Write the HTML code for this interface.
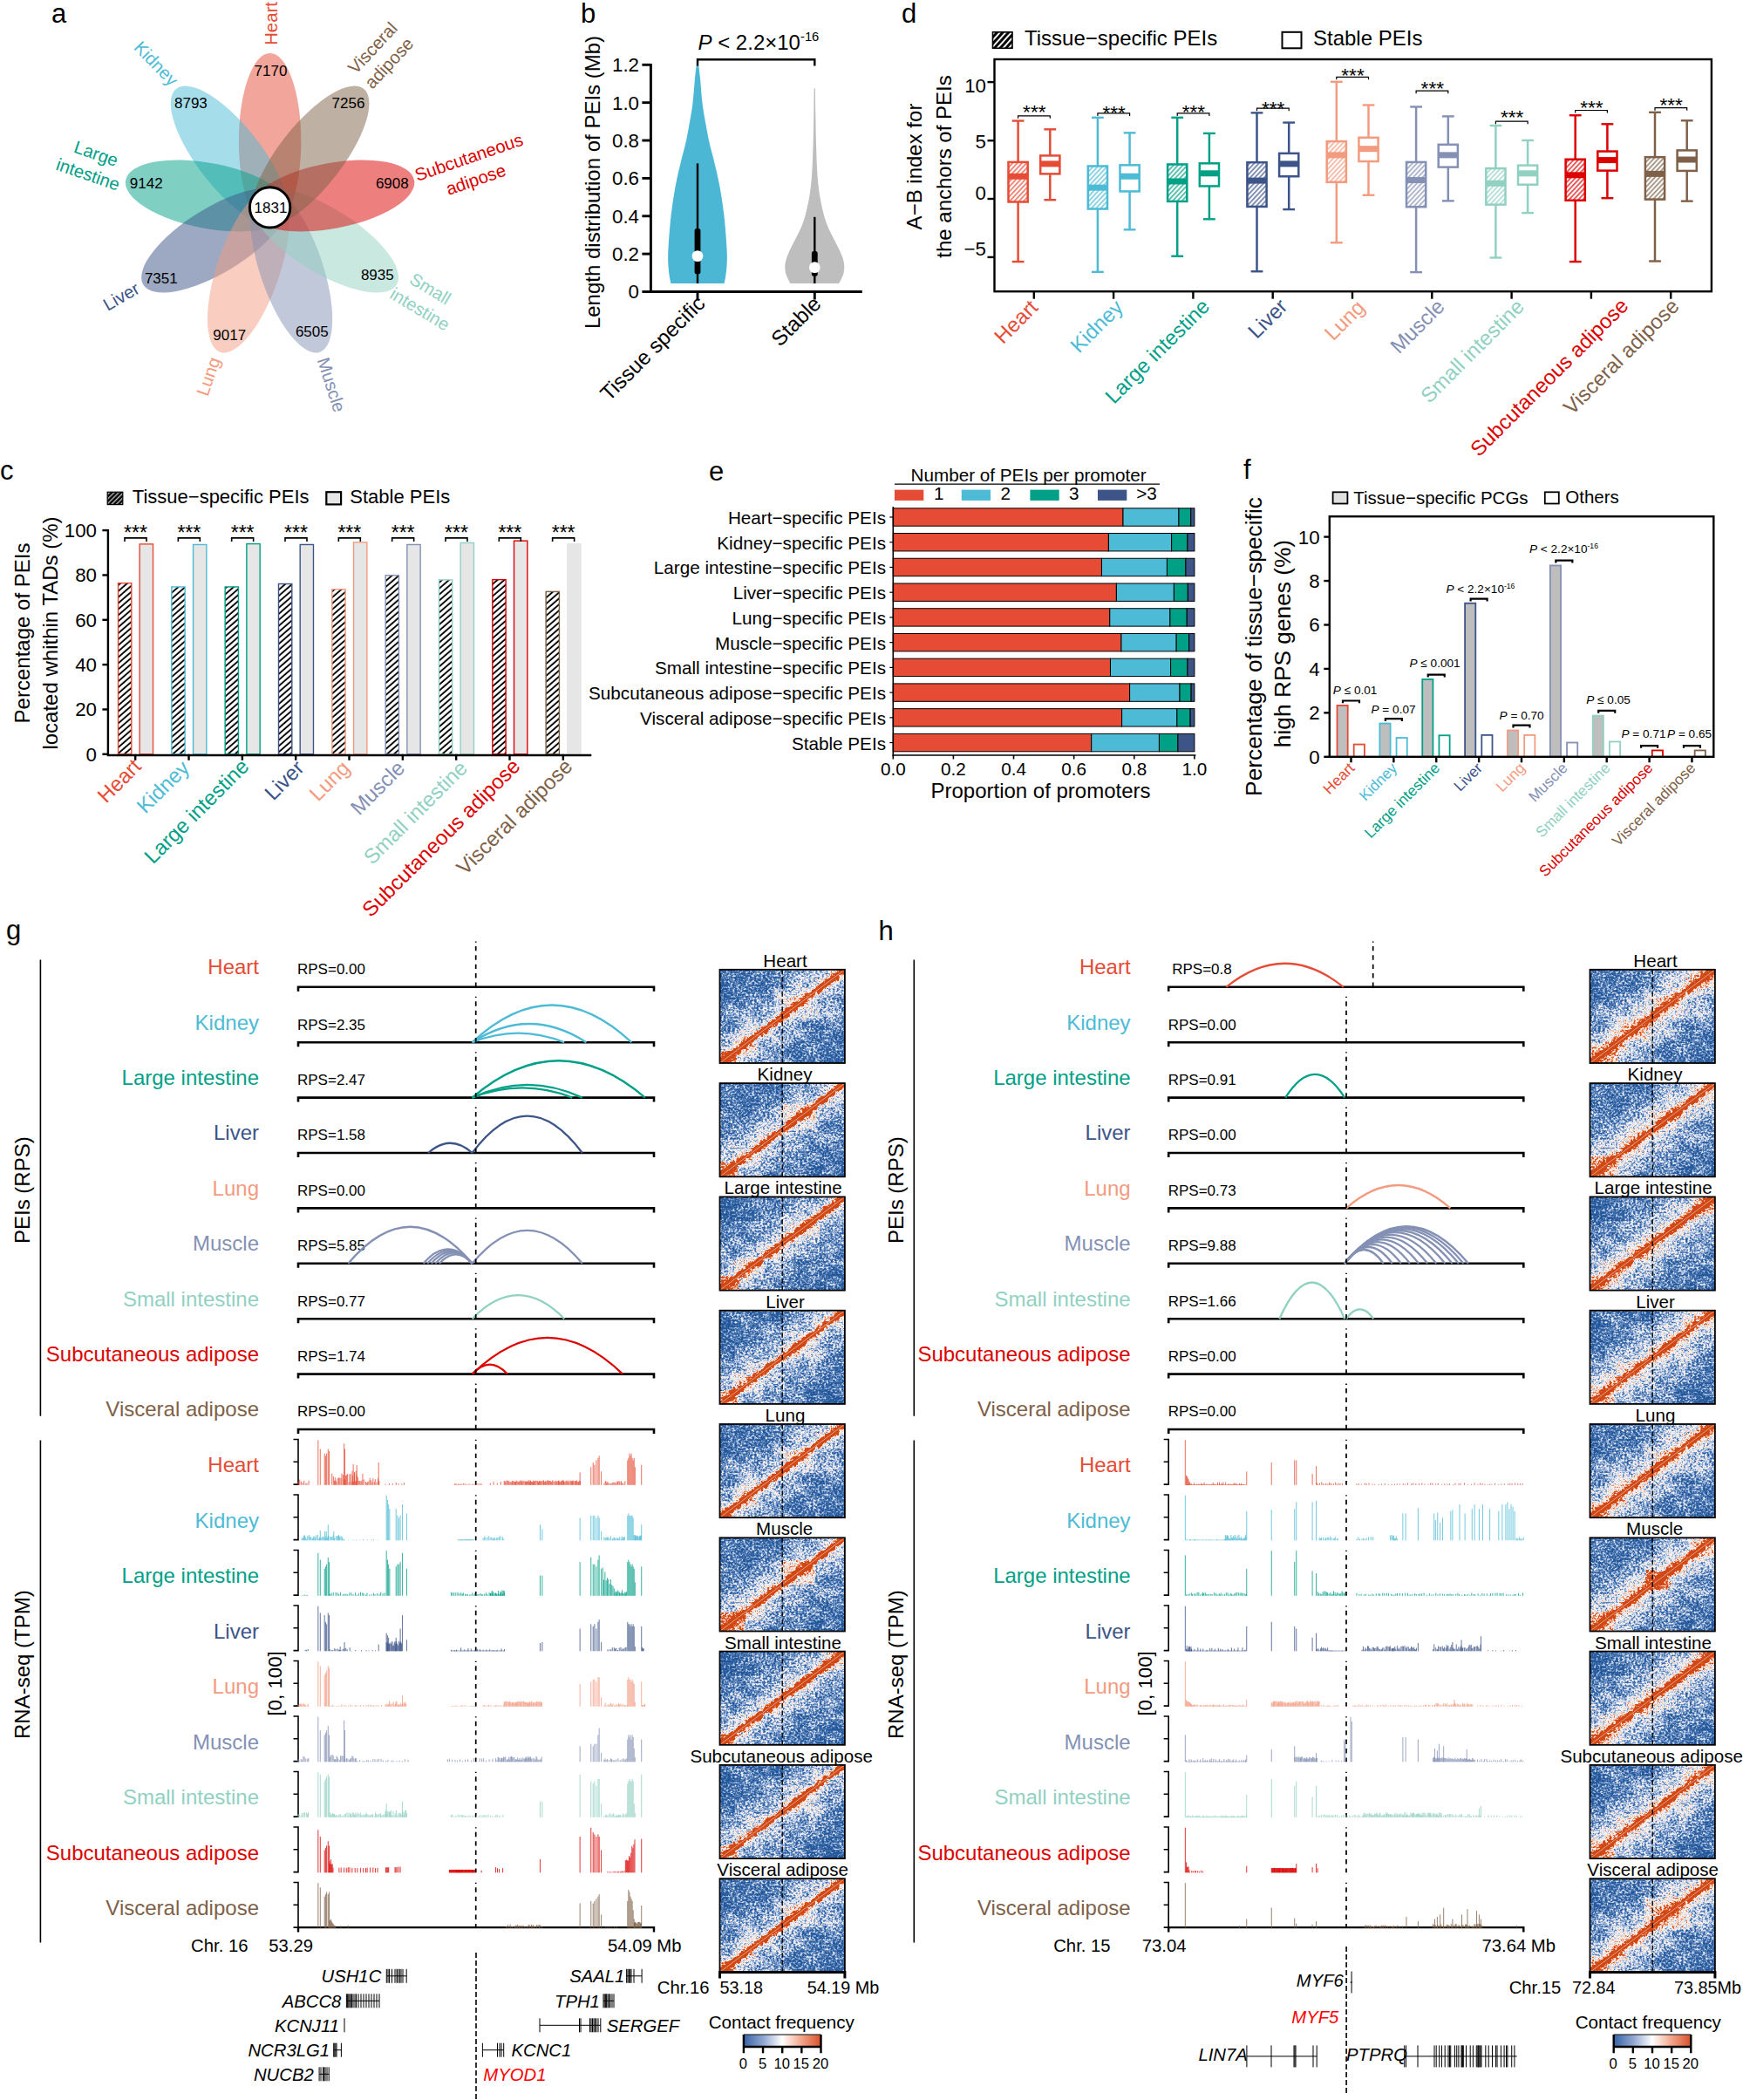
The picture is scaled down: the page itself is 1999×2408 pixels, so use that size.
<!DOCTYPE html><html><head><meta charset="utf-8"><title>Figure</title><style>html,body{margin:0;padding:0;background:#fff}svg{display:block}text{font-family:"Liberation Sans",Arial,sans-serif}</style></head><body>
<svg width="1999" height="2408" viewBox="0 0 1999 2408">
<defs>
<pattern id="hc" width="5.2" height="5.2" patternUnits="userSpaceOnUse" patternTransform="rotate(-41)"><rect width="5.2" height="5.2" fill="#fff"/><rect y="1.6" width="5.2" height="1.9" fill="#000"/></pattern>
<pattern id="hcl" width="3.8" height="3.8" patternUnits="userSpaceOnUse" patternTransform="rotate(-45)"><rect width="3.8" height="3.8" fill="#000"/><rect y="1.2" width="3.8" height="1" fill="#fff"/></pattern>
<pattern id="hd0" width="3.9" height="3.9" patternUnits="userSpaceOnUse" patternTransform="rotate(-47)"><rect width="3.9" height="3.9" fill="#fff"/><rect y="1.3" width="3.9" height="1.25" fill="#E64B35"/></pattern>
<pattern id="hd1" width="3.9" height="3.9" patternUnits="userSpaceOnUse" patternTransform="rotate(-47)"><rect width="3.9" height="3.9" fill="#fff"/><rect y="1.3" width="3.9" height="1.25" fill="#4DBBD5"/></pattern>
<pattern id="hd2" width="3.9" height="3.9" patternUnits="userSpaceOnUse" patternTransform="rotate(-47)"><rect width="3.9" height="3.9" fill="#fff"/><rect y="1.3" width="3.9" height="1.25" fill="#00A087"/></pattern>
<pattern id="hd3" width="3.9" height="3.9" patternUnits="userSpaceOnUse" patternTransform="rotate(-47)"><rect width="3.9" height="3.9" fill="#fff"/><rect y="1.3" width="3.9" height="1.25" fill="#3C5488"/></pattern>
<pattern id="hd4" width="3.9" height="3.9" patternUnits="userSpaceOnUse" patternTransform="rotate(-47)"><rect width="3.9" height="3.9" fill="#fff"/><rect y="1.3" width="3.9" height="1.25" fill="#F39B7F"/></pattern>
<pattern id="hd5" width="3.9" height="3.9" patternUnits="userSpaceOnUse" patternTransform="rotate(-47)"><rect width="3.9" height="3.9" fill="#fff"/><rect y="1.3" width="3.9" height="1.25" fill="#8491B4"/></pattern>
<pattern id="hd6" width="3.9" height="3.9" patternUnits="userSpaceOnUse" patternTransform="rotate(-47)"><rect width="3.9" height="3.9" fill="#fff"/><rect y="1.3" width="3.9" height="1.25" fill="#91D1C2"/></pattern>
<pattern id="hd7" width="3.9" height="3.9" patternUnits="userSpaceOnUse" patternTransform="rotate(-47)"><rect width="3.9" height="3.9" fill="#fff"/><rect y="1.3" width="3.9" height="1.25" fill="#DC0000"/></pattern>
<pattern id="hd8" width="3.9" height="3.9" patternUnits="userSpaceOnUse" patternTransform="rotate(-47)"><rect width="3.9" height="3.9" fill="#fff"/><rect y="1.3" width="3.9" height="1.25" fill="#7E6148"/></pattern>
<pattern id="hdl" width="4.9" height="4.9" patternUnits="userSpaceOnUse" patternTransform="rotate(-48)"><rect width="4.9" height="4.9" fill="#fff"/><rect y="1" width="4.9" height="3" fill="#000"/></pattern>
<linearGradient id="hg" x1="0" y1="0" x2="1" y2="1">
<stop offset="0.000" stop-color="rgb(46,46,46)"/>
<stop offset="0.250" stop-color="rgb(69,69,69)"/>
<stop offset="0.380" stop-color="rgb(89,89,89)"/>
<stop offset="0.445" stop-color="rgb(107,107,107)"/>
<stop offset="0.474" stop-color="rgb(128,128,128)"/>
<stop offset="0.483" stop-color="rgb(189,189,189)"/>
<stop offset="0.490" stop-color="rgb(255,255,255)"/>
<stop offset="0.510" stop-color="rgb(255,255,255)"/>
<stop offset="0.517" stop-color="rgb(189,189,189)"/>
<stop offset="0.526" stop-color="rgb(128,128,128)"/>
<stop offset="0.555" stop-color="rgb(107,107,107)"/>
<stop offset="0.620" stop-color="rgb(89,89,89)"/>
<stop offset="0.750" stop-color="rgb(69,69,69)"/>
<stop offset="1.000" stop-color="rgb(46,46,46)"/>
</linearGradient>
<linearGradient id="hg2" x1="0" y1="0" x2="1" y2="1">
<stop offset="0.000" stop-color="rgb(48,48,48)"/>
<stop offset="0.250" stop-color="rgb(71,71,71)"/>
<stop offset="0.370" stop-color="rgb(94,94,94)"/>
<stop offset="0.430" stop-color="rgb(115,115,115)"/>
<stop offset="0.462" stop-color="rgb(138,138,138)"/>
<stop offset="0.476" stop-color="rgb(163,163,163)"/>
<stop offset="0.485" stop-color="rgb(209,209,209)"/>
<stop offset="0.491" stop-color="rgb(255,255,255)"/>
<stop offset="0.509" stop-color="rgb(255,255,255)"/>
<stop offset="0.515" stop-color="rgb(209,209,209)"/>
<stop offset="0.524" stop-color="rgb(163,163,163)"/>
<stop offset="0.538" stop-color="rgb(138,138,138)"/>
<stop offset="0.570" stop-color="rgb(115,115,115)"/>
<stop offset="0.630" stop-color="rgb(94,94,94)"/>
<stop offset="0.750" stop-color="rgb(71,71,71)"/>
<stop offset="1.000" stop-color="rgb(48,48,48)"/>
</linearGradient>
<filter id="hm0" x="0" y="0" width="1" height="1" color-interpolation-filters="sRGB"><feTurbulence type="fractalNoise" baseFrequency="0.4 0.46" numOctaves="2" seed="3" result="n"/><feColorMatrix in="n" type="matrix" values="1 0 0 0 0 1 0 0 0 0 1 0 0 0 0 0 0 0 0 1" result="ng"/><feTurbulence type="fractalNoise" baseFrequency="0.05 0.07" numOctaves="2" seed="11" result="m"/><feColorMatrix in="m" type="matrix" values="0 1 0 0 0 0 1 0 0 0 0 1 0 0 0 0 0 0 0 1" result="mg"/><feTurbulence type="fractalNoise" baseFrequency="0.16 0.2" numOctaves="2" seed="23" result="d"/><feDisplacementMap in="SourceGraphic" in2="d" scale="7" xChannelSelector="R" yChannelSelector="G" result="sg"/><feComposite in="sg" in2="ng" operator="arithmetic" k1="0" k2="1" k3="0.78" k4="-0.39" result="s1"/><feComposite in="s1" in2="mg" operator="arithmetic" k1="0" k2="1" k3="0.34" k4="-0.17" result="s"/><feComponentTransfer in="s" result="c"><feFuncR type="table" tableValues="0.133 0.133 0.157 0.267 0.486 0.745 0.961 0.980 0.969 0.871 0.816 0.816 0.816"/><feFuncG type="table" tableValues="0.337 0.337 0.361 0.447 0.616 0.804 0.961 0.925 0.745 0.376 0.282 0.282 0.282"/><feFuncB type="table" tableValues="0.596 0.596 0.616 0.682 0.800 0.910 0.973 0.894 0.627 0.196 0.086 0.086 0.086"/></feComponentTransfer><feGaussianBlur in="c" stdDeviation="0.55"/></filter>
<filter id="hm1" x="0" y="0" width="1" height="1" color-interpolation-filters="sRGB"><feTurbulence type="fractalNoise" baseFrequency="0.4 0.46" numOctaves="2" seed="10" result="n"/><feColorMatrix in="n" type="matrix" values="1 0 0 0 0 1 0 0 0 0 1 0 0 0 0 0 0 0 0 1" result="ng"/><feTurbulence type="fractalNoise" baseFrequency="0.05 0.07" numOctaves="2" seed="16" result="m"/><feColorMatrix in="m" type="matrix" values="0 1 0 0 0 0 1 0 0 0 0 1 0 0 0 0 0 0 0 1" result="mg"/><feTurbulence type="fractalNoise" baseFrequency="0.16 0.2" numOctaves="2" seed="26" result="d"/><feDisplacementMap in="SourceGraphic" in2="d" scale="7" xChannelSelector="R" yChannelSelector="G" result="sg"/><feComposite in="sg" in2="ng" operator="arithmetic" k1="0" k2="1" k3="0.78" k4="-0.39" result="s1"/><feComposite in="s1" in2="mg" operator="arithmetic" k1="0" k2="1" k3="0.34" k4="-0.17" result="s"/><feComponentTransfer in="s" result="c"><feFuncR type="table" tableValues="0.133 0.133 0.157 0.267 0.486 0.745 0.961 0.980 0.969 0.871 0.816 0.816 0.816"/><feFuncG type="table" tableValues="0.337 0.337 0.361 0.447 0.616 0.804 0.961 0.925 0.745 0.376 0.282 0.282 0.282"/><feFuncB type="table" tableValues="0.596 0.596 0.616 0.682 0.800 0.910 0.973 0.894 0.627 0.196 0.086 0.086 0.086"/></feComponentTransfer><feGaussianBlur in="c" stdDeviation="0.55"/></filter>
<filter id="hm2" x="0" y="0" width="1" height="1" color-interpolation-filters="sRGB"><feTurbulence type="fractalNoise" baseFrequency="0.4 0.46" numOctaves="2" seed="17" result="n"/><feColorMatrix in="n" type="matrix" values="1 0 0 0 0 1 0 0 0 0 1 0 0 0 0 0 0 0 0 1" result="ng"/><feTurbulence type="fractalNoise" baseFrequency="0.05 0.07" numOctaves="2" seed="21" result="m"/><feColorMatrix in="m" type="matrix" values="0 1 0 0 0 0 1 0 0 0 0 1 0 0 0 0 0 0 0 1" result="mg"/><feTurbulence type="fractalNoise" baseFrequency="0.16 0.2" numOctaves="2" seed="29" result="d"/><feDisplacementMap in="SourceGraphic" in2="d" scale="7" xChannelSelector="R" yChannelSelector="G" result="sg"/><feComposite in="sg" in2="ng" operator="arithmetic" k1="0" k2="1" k3="0.78" k4="-0.39" result="s1"/><feComposite in="s1" in2="mg" operator="arithmetic" k1="0" k2="1" k3="0.34" k4="-0.17" result="s"/><feComponentTransfer in="s" result="c"><feFuncR type="table" tableValues="0.133 0.133 0.157 0.267 0.486 0.745 0.961 0.980 0.969 0.871 0.816 0.816 0.816"/><feFuncG type="table" tableValues="0.337 0.337 0.361 0.447 0.616 0.804 0.961 0.925 0.745 0.376 0.282 0.282 0.282"/><feFuncB type="table" tableValues="0.596 0.596 0.616 0.682 0.800 0.910 0.973 0.894 0.627 0.196 0.086 0.086 0.086"/></feComponentTransfer><feGaussianBlur in="c" stdDeviation="0.55"/></filter>
<filter id="hm3" x="0" y="0" width="1" height="1" color-interpolation-filters="sRGB"><feTurbulence type="fractalNoise" baseFrequency="0.4 0.46" numOctaves="2" seed="24" result="n"/><feColorMatrix in="n" type="matrix" values="1 0 0 0 0 1 0 0 0 0 1 0 0 0 0 0 0 0 0 1" result="ng"/><feTurbulence type="fractalNoise" baseFrequency="0.05 0.07" numOctaves="2" seed="26" result="m"/><feColorMatrix in="m" type="matrix" values="0 1 0 0 0 0 1 0 0 0 0 1 0 0 0 0 0 0 0 1" result="mg"/><feTurbulence type="fractalNoise" baseFrequency="0.16 0.2" numOctaves="2" seed="32" result="d"/><feDisplacementMap in="SourceGraphic" in2="d" scale="7" xChannelSelector="R" yChannelSelector="G" result="sg"/><feComposite in="sg" in2="ng" operator="arithmetic" k1="0" k2="1" k3="0.78" k4="-0.39" result="s1"/><feComposite in="s1" in2="mg" operator="arithmetic" k1="0" k2="1" k3="0.34" k4="-0.17" result="s"/><feComponentTransfer in="s" result="c"><feFuncR type="table" tableValues="0.133 0.133 0.157 0.267 0.486 0.745 0.961 0.980 0.969 0.871 0.816 0.816 0.816"/><feFuncG type="table" tableValues="0.337 0.337 0.361 0.447 0.616 0.804 0.961 0.925 0.745 0.376 0.282 0.282 0.282"/><feFuncB type="table" tableValues="0.596 0.596 0.616 0.682 0.800 0.910 0.973 0.894 0.627 0.196 0.086 0.086 0.086"/></feComponentTransfer><feGaussianBlur in="c" stdDeviation="0.55"/></filter>
<linearGradient id="cb" x1="0" y1="0" x2="1" y2="0"><stop offset="0" stop-color="#3563A6"/><stop offset="0.25" stop-color="#8FA5CF"/><stop offset="0.5" stop-color="#FFFFFF"/><stop offset="0.75" stop-color="#F2A58A"/><stop offset="1" stop-color="#D6502A"/></linearGradient>
</defs>
<rect width="1999" height="2408" fill="#fff"/>
<g id="pa">
<text x="59" y="26" font-size="31">a</text>
<g transform="translate(309.6 0) scale(0.951 1) translate(-309.6 0)">
<ellipse cx="309.6" cy="161.9" rx="101" ry="37.6" fill="#E64B35" fill-opacity="0.5" transform="rotate(-90 309.6 161.9)"/>
<ellipse cx="260.94" cy="179.61" rx="101" ry="37.6" fill="#4DBBD5" fill-opacity="0.5" transform="rotate(-130 260.94 179.61)"/>
<ellipse cx="235.05" cy="224.45" rx="101" ry="37.6" fill="#00A087" fill-opacity="0.5" transform="rotate(-170 235.05 224.45)"/>
<ellipse cx="244.04" cy="275.45" rx="101" ry="37.6" fill="#3C5488" fill-opacity="0.5" transform="rotate(-210 244.04 275.45)"/>
<ellipse cx="283.71" cy="308.73" rx="101" ry="37.6" fill="#F39B7F" fill-opacity="0.5" transform="rotate(-250 283.71 308.73)"/>
<ellipse cx="335.49" cy="308.73" rx="101" ry="37.6" fill="#8491B4" fill-opacity="0.5" transform="rotate(-290 335.49 308.73)"/>
<ellipse cx="375.16" cy="275.45" rx="101" ry="37.6" fill="#91D1C2" fill-opacity="0.5" transform="rotate(-330 375.16 275.45)"/>
<ellipse cx="384.15" cy="224.45" rx="101" ry="37.6" fill="#DC0000" fill-opacity="0.5" transform="rotate(-10 384.15 224.45)"/>
<ellipse cx="358.26" cy="179.61" rx="101" ry="37.6" fill="#7E6148" fill-opacity="0.5" transform="rotate(-50 358.26 179.61)"/>
</g>
<circle cx="309.6" cy="237.9" r="23.2" fill="#fff" stroke="#000" stroke-width="3"/>
<text x="310.5" y="87.1" font-size="17" text-anchor="middle">7170</text>
<text x="218.9" y="124.2" font-size="17" text-anchor="middle">8793</text>
<text x="399.5" y="124.2" font-size="17" text-anchor="middle">7256</text>
<text x="167.7" y="215.8" font-size="17" text-anchor="middle">9142</text>
<text x="449.8" y="215.8" font-size="17" text-anchor="middle">6908</text>
<text x="310.5" y="244.2" font-size="17" text-anchor="middle">1831</text>
<text x="184.8" y="324.9" font-size="17" text-anchor="middle">7351</text>
<text x="432.8" y="320.7" font-size="17" text-anchor="middle">8935</text>
<text x="263.2" y="390" font-size="17" text-anchor="middle">9017</text>
<text x="357.8" y="385.5" font-size="17" text-anchor="middle">6505</text>
<text font-size="20.3" text-anchor="middle" fill="#E64B35" transform="translate(317.5 27) rotate(-90)">Heart</text>
<text font-size="20.3" text-anchor="middle" fill="#4DBBD5" transform="translate(174 77.7) rotate(46)">Kidney</text>
<text font-size="20.3" text-anchor="middle" fill="#7E6148" transform="translate(432.5 59.8) rotate(-47)">Visceral</text>
<text font-size="20.3" text-anchor="middle" fill="#7E6148" transform="translate(451.3 77) rotate(-47)">adipose</text>
<text font-size="20.3" text-anchor="middle" fill="#DC0000" transform="translate(540 187) rotate(-19)">Subcutaneous</text>
<text font-size="20.3" text-anchor="middle" fill="#DC0000" transform="translate(548 212.5) rotate(-19)">adipose</text>
<text font-size="20.3" text-anchor="middle" fill="#00A087" transform="translate(108 182.8) rotate(19)">Large</text>
<text font-size="20.3" text-anchor="middle" fill="#00A087" transform="translate(98.7 206.5) rotate(19)">intestine</text>
<text font-size="20.3" text-anchor="middle" fill="#3C5488" transform="translate(142.6 346) rotate(-30)">Liver</text>
<text font-size="20.3" text-anchor="middle" fill="#F39B7F" transform="translate(245.5 434) rotate(-71)">Lung</text>
<text font-size="20.3" text-anchor="middle" fill="#8491B4" transform="translate(373.4 443.4) rotate(72)">Muscle</text>
<text font-size="20.3" text-anchor="middle" fill="#91D1C2" transform="translate(490 337) rotate(31)">Small</text>
<text font-size="20.3" text-anchor="middle" fill="#91D1C2" transform="translate(478 360.5) rotate(31)">intestine</text>
</g>
<g id="pb">
<text x="666" y="26" font-size="31">b</text>
<path d="M801.2 74.3 C801.5 76.92 802.28 82.73 803 90 C803.72 97.27 804.5 109.57 805.5 117.9 C806.5 126.23 807.75 132.78 809 140 C810.25 147.22 811.42 154.03 813 161.2 C814.58 168.37 816.75 175.82 818.5 183 C820.25 190.18 822 197.13 823.5 204.3 C825 211.47 826.33 218.73 827.5 226 C828.67 233.27 829.67 240.57 830.5 247.9 C831.33 255.23 831.95 262.82 832.5 270 C833.05 277.18 833.63 285.17 833.8 291 C833.97 296.83 833.8 300.5 833.5 305 C833.2 309.5 832.5 314.67 832 318 C831.5 321.33 830.75 323.83 830.5 325 L769.5 325 C769.25 323.83 768.5 321.33 768 318 C767.5 314.67 766.8 309.5 766.5 305 C766.2 300.5 766.03 296.83 766.2 291 C766.37 285.17 766.95 277.18 767.5 270 C768.05 262.82 768.67 255.23 769.5 247.9 C770.33 240.57 771.33 233.27 772.5 226 C773.67 218.73 775 211.47 776.5 204.3 C778 197.13 779.75 190.18 781.5 183 C783.25 175.82 785.42 168.37 787 161.2 C788.58 154.03 789.75 147.22 791 140 C792.25 132.78 793.5 126.23 794.5 117.9 C795.5 109.57 796.28 97.27 797 90 C797.72 82.73 798.5 76.92 798.8 74.3 Z" fill="#4BB7D4"/>
<path d="M934.9 101.2 C934.97 106 935.13 120.03 935.3 130 C935.47 139.97 935.63 151 935.9 161 C936.17 171 936.5 181.83 936.9 190 C937.3 198.17 937.65 203.67 938.3 210 C938.95 216.33 939.63 221.68 940.8 228 C941.97 234.32 943.72 242.23 945.3 247.9 C946.88 253.57 948.38 257.48 950.3 262 C952.22 266.52 954.63 270.67 956.8 275 C958.97 279.33 961.58 284.17 963.3 288 C965.02 291.83 966.27 295 967.1 298 C967.93 301 968.27 303.33 968.3 306 C968.33 308.67 967.88 311.67 967.3 314 C966.72 316.33 965.63 318.17 964.8 320 C963.97 321.83 962.72 324.17 962.3 325 L906.3 325 C905.88 324.17 904.63 321.83 903.8 320 C902.97 318.17 901.88 316.33 901.3 314 C900.72 311.67 900.27 308.67 900.3 306 C900.33 303.33 900.67 301 901.5 298 C902.33 295 903.58 291.83 905.3 288 C907.02 284.17 909.63 279.33 911.8 275 C913.97 270.67 916.38 266.52 918.3 262 C920.22 257.48 921.72 253.57 923.3 247.9 C924.88 242.23 926.63 234.32 927.8 228 C928.97 221.68 929.65 216.33 930.3 210 C930.95 203.67 931.3 198.17 931.7 190 C932.1 181.83 932.43 171 932.7 161 C932.97 151 933.13 139.97 933.3 130 C933.47 120.03 933.63 106 933.7 101.2 Z" fill="#BEBEBE"/>
<line x1="800" y1="187.4" x2="800" y2="325" stroke="#000" stroke-width="2.4"/>
<rect x="796.6" y="262" width="6.8" height="52.3" rx="2.5" fill="#000"/>
<circle cx="800" cy="293.6" r="6.4" fill="#fff"/>
<line x1="934.3" y1="248.8" x2="934.3" y2="325" stroke="#000" stroke-width="2.4"/>
<rect x="930.9" y="288" width="6.8" height="28.7" rx="2.5" fill="#000"/>
<circle cx="934.3" cy="306.7" r="6.4" fill="#fff"/>
<path d="M746.4 72.9 V334.5 H988.8" fill="none" stroke="#000" stroke-width="2.9"/>
<line x1="736.4" y1="334.5" x2="746.4" y2="334.5" stroke="#000" stroke-width="2.9"/>
<text x="733" y="342.4" font-size="22.3" text-anchor="end">0</text>
<line x1="736.4" y1="291.13" x2="746.4" y2="291.13" stroke="#000" stroke-width="2.9"/>
<text x="733" y="299.03" font-size="22.3" text-anchor="end">0.2</text>
<line x1="736.4" y1="247.77" x2="746.4" y2="247.77" stroke="#000" stroke-width="2.9"/>
<text x="733" y="255.67" font-size="22.3" text-anchor="end">0.4</text>
<line x1="736.4" y1="204.4" x2="746.4" y2="204.4" stroke="#000" stroke-width="2.9"/>
<text x="733" y="212.3" font-size="22.3" text-anchor="end">0.6</text>
<line x1="736.4" y1="161.03" x2="746.4" y2="161.03" stroke="#000" stroke-width="2.9"/>
<text x="733" y="168.93" font-size="22.3" text-anchor="end">0.8</text>
<line x1="736.4" y1="117.67" x2="746.4" y2="117.67" stroke="#000" stroke-width="2.9"/>
<text x="733" y="125.57" font-size="22.3" text-anchor="end">1.0</text>
<line x1="736.4" y1="74.3" x2="746.4" y2="74.3" stroke="#000" stroke-width="2.9"/>
<text x="733" y="82.2" font-size="22.3" text-anchor="end">1.2</text>
<line x1="800" y1="334.5" x2="800" y2="343.5" stroke="#000" stroke-width="2.9"/>
<line x1="934.3" y1="334.5" x2="934.3" y2="343.5" stroke="#000" stroke-width="2.9"/>
<text font-size="24" text-anchor="middle" transform="translate(687.5 209) rotate(-90)">Length distribution of PEIs (Mb)</text>
<text font-size="24.2" text-anchor="end" transform="translate(810 349.5) rotate(-45)">Tissue specific</text>
<text font-size="24.2" text-anchor="end" transform="translate(943 350) rotate(-45)">Stable</text>
<path d="M800 75.5 V68.3 H934.3 V75.5" fill="none" stroke="#000" stroke-width="2.4"/>
<text x="800.5" y="56.7" font-size="24"><tspan font-style="italic">P</tspan> &lt; 2.2×10<tspan font-size="14.8" dy="-9.5">-16</tspan></text>
</g>
<g id="pc">
<text x="0" y="550" font-size="31">c</text>
<rect x="135.5" y="668.63" width="15.3" height="196.17" fill="url(#hc)" stroke="#E64B35" stroke-width="1.4"/>
<rect x="160.2" y="623.88" width="15.3" height="240.92" fill="#E6E6E6" stroke="#E64B35" stroke-width="1.4"/>
<path d="M143 621 V616.9 H168 V621" fill="none" stroke="#000" stroke-width="1.6"/>
<text x="155.5" y="618.8" font-size="23" text-anchor="middle">***</text>
<rect x="196.83" y="672.94" width="15.3" height="191.86" fill="url(#hc)" stroke="#4DBBD5" stroke-width="1.4"/>
<rect x="221.53" y="624.46" width="15.3" height="240.34" fill="#E6E6E6" stroke="#4DBBD5" stroke-width="1.4"/>
<path d="M204.33 621 V616.9 H229.33 V621" fill="none" stroke="#000" stroke-width="1.6"/>
<text x="216.83" y="618.8" font-size="23" text-anchor="middle">***</text>
<rect x="258.16" y="672.94" width="15.3" height="191.86" fill="url(#hc)" stroke="#00A087" stroke-width="1.4"/>
<rect x="282.86" y="623.6" width="15.3" height="241.2" fill="#E6E6E6" stroke="#00A087" stroke-width="1.4"/>
<path d="M265.66 621 V616.9 H290.66 V621" fill="none" stroke="#000" stroke-width="1.6"/>
<text x="278.16" y="618.8" font-size="23" text-anchor="middle">***</text>
<rect x="319.49" y="669.5" width="15.3" height="195.3" fill="url(#hc)" stroke="#3C5488" stroke-width="1.4"/>
<rect x="344.19" y="624.46" width="15.3" height="240.34" fill="#E6E6E6" stroke="#3C5488" stroke-width="1.4"/>
<path d="M326.99 621 V616.9 H351.99 V621" fill="none" stroke="#000" stroke-width="1.6"/>
<text x="339.49" y="618.8" font-size="23" text-anchor="middle">***</text>
<rect x="380.82" y="675.81" width="15.3" height="188.99" fill="url(#hc)" stroke="#F39B7F" stroke-width="1.4"/>
<rect x="405.52" y="621.88" width="15.3" height="242.92" fill="#E6E6E6" stroke="#F39B7F" stroke-width="1.4"/>
<path d="M388.32 621 V616.9 H413.32 V621" fill="none" stroke="#000" stroke-width="1.6"/>
<text x="400.82" y="618.8" font-size="23" text-anchor="middle">***</text>
<rect x="442.15" y="659.74" width="15.3" height="205.06" fill="url(#hc)" stroke="#8491B4" stroke-width="1.4"/>
<rect x="466.85" y="624.46" width="15.3" height="240.34" fill="#E6E6E6" stroke="#8491B4" stroke-width="1.4"/>
<path d="M449.65 621 V616.9 H474.65 V621" fill="none" stroke="#000" stroke-width="1.6"/>
<text x="462.15" y="618.8" font-size="23" text-anchor="middle">***</text>
<rect x="503.48" y="664.91" width="15.3" height="199.89" fill="url(#hc)" stroke="#91D1C2" stroke-width="1.4"/>
<rect x="528.18" y="622.45" width="15.3" height="242.35" fill="#E6E6E6" stroke="#91D1C2" stroke-width="1.4"/>
<path d="M510.98 621 V616.9 H535.98 V621" fill="none" stroke="#000" stroke-width="1.6"/>
<text x="523.48" y="618.8" font-size="23" text-anchor="middle">***</text>
<rect x="564.81" y="664.62" width="15.3" height="200.18" fill="url(#hc)" stroke="#DC0000" stroke-width="1.4"/>
<rect x="589.51" y="620.15" width="15.3" height="244.65" fill="#E6E6E6" stroke="#DC0000" stroke-width="1.4"/>
<path d="M572.31 621 V616.9 H597.31 V621" fill="none" stroke="#000" stroke-width="1.6"/>
<text x="584.81" y="618.8" font-size="23" text-anchor="middle">***</text>
<rect x="626.14" y="678.39" width="15.3" height="186.41" fill="url(#hc)" stroke="#7E6148" stroke-width="1.4"/>
<rect x="650.14" y="623.02" width="16.6" height="241.78" fill="#E6E6E6"/>
<path d="M633.64 621 V616.9 H658.64 V621" fill="none" stroke="#000" stroke-width="1.6"/>
<text x="646.14" y="618.8" font-size="23" text-anchor="middle">***</text>
<path d="M123.9 606.9 V866 H678.3" fill="none" stroke="#000" stroke-width="2.4"/>
<line x1="117.4" y1="864.8" x2="123.9" y2="864.8" stroke="#000" stroke-width="2.4"/>
<text x="111" y="872.8" font-size="22.3" text-anchor="end">0</text>
<line x1="117.4" y1="813.46" x2="123.9" y2="813.46" stroke="#000" stroke-width="2.4"/>
<text x="111" y="821.46" font-size="22.3" text-anchor="end">20</text>
<line x1="117.4" y1="762.12" x2="123.9" y2="762.12" stroke="#000" stroke-width="2.4"/>
<text x="111" y="770.12" font-size="22.3" text-anchor="end">40</text>
<line x1="117.4" y1="710.78" x2="123.9" y2="710.78" stroke="#000" stroke-width="2.4"/>
<text x="111" y="718.78" font-size="22.3" text-anchor="end">60</text>
<line x1="117.4" y1="659.44" x2="123.9" y2="659.44" stroke="#000" stroke-width="2.4"/>
<text x="111" y="667.44" font-size="22.3" text-anchor="end">80</text>
<line x1="117.4" y1="608.1" x2="123.9" y2="608.1" stroke="#000" stroke-width="2.4"/>
<text x="111" y="616.1" font-size="22.3" text-anchor="end">100</text>
<line x1="155.2" y1="864.8" x2="155.2" y2="871.8" stroke="#000" stroke-width="2.4"/>
<text font-size="24" text-anchor="end" fill="#E64B35" transform="translate(163.2 880.4) rotate(-45)">Heart</text>
<line x1="216.53" y1="864.8" x2="216.53" y2="871.8" stroke="#000" stroke-width="2.4"/>
<text font-size="24" text-anchor="end" fill="#4DBBD5" transform="translate(218.63 882.2) rotate(-45)">Kidney</text>
<line x1="277.86" y1="864.8" x2="277.86" y2="871.8" stroke="#000" stroke-width="2.4"/>
<text font-size="24" text-anchor="end" fill="#00A087" transform="translate(286.86 880.4) rotate(-45)">Large intestine</text>
<line x1="339.19" y1="864.8" x2="339.19" y2="871.8" stroke="#000" stroke-width="2.4"/>
<text font-size="24" text-anchor="end" fill="#3C5488" transform="translate(350.19 882.2) rotate(-45)">Liver</text>
<line x1="400.52" y1="864.8" x2="400.52" y2="871.8" stroke="#000" stroke-width="2.4"/>
<text font-size="24" text-anchor="end" fill="#F39B7F" transform="translate(402.62 882.2) rotate(-45)">Lung</text>
<line x1="461.85" y1="864.8" x2="461.85" y2="871.8" stroke="#000" stroke-width="2.4"/>
<text font-size="24" text-anchor="end" fill="#8491B4" transform="translate(465.65 882.2) rotate(-45)">Muscle</text>
<line x1="523.18" y1="864.8" x2="523.18" y2="871.8" stroke="#000" stroke-width="2.4"/>
<text font-size="24" text-anchor="end" fill="#91D1C2" transform="translate(537.38 882.2) rotate(-45)">Small intestine</text>
<line x1="584.51" y1="864.8" x2="584.51" y2="871.8" stroke="#000" stroke-width="2.4"/>
<text font-size="24" text-anchor="end" fill="#DC0000" transform="translate(598.01 880) rotate(-45)">Subcutaneous adipose</text>
<line x1="645.84" y1="864.8" x2="645.84" y2="871.8" stroke="#000" stroke-width="2.4"/>
<text font-size="24" text-anchor="end" fill="#7E6148" transform="translate(657.84 880.4) rotate(-45)">Visceral adipose</text>
<text font-size="24" text-anchor="middle" transform="translate(33.5 726) rotate(-90)">Percentage of PEIs</text>
<text font-size="24" text-anchor="middle" transform="translate(65.5 726) rotate(-90)">located whithin TADs (%)</text>
<rect x="123.2" y="564.2" width="17.6" height="14.4" fill="url(#hcl)" stroke="#000" stroke-width="1.2"/>
<text x="151.8" y="576.6" font-size="22">Tissue−specific PEIs</text>
<rect x="374.3" y="564.2" width="16.8" height="14.2" fill="#E6E6E6" stroke="#000" stroke-width="2.2"/>
<text x="401.3" y="576.6" font-size="22">Stable PEIs</text>
</g>
<g id="pd">
<text x="1034" y="26" font-size="31">d</text>
<line x1="1167.6" y1="138.55" x2="1167.6" y2="185.89" stroke="#E64B35" stroke-width="2.5"/>
<line x1="1167.6" y1="231.5" x2="1167.6" y2="300.06" stroke="#E64B35" stroke-width="2.5"/>
<line x1="1160.7" y1="138.55" x2="1174.5" y2="138.55" stroke="#E64B35" stroke-width="2.4"/>
<line x1="1160.7" y1="300.06" x2="1174.5" y2="300.06" stroke="#E64B35" stroke-width="2.4"/>
<rect x="1156.5" y="185.89" width="22.2" height="45.61" fill="url(#hd0)" stroke="#E64B35" stroke-width="2.5"/>
<line x1="1156.4" y1="202.24" x2="1178.8" y2="202.24" stroke="#E64B35" stroke-width="7"/>
<line x1="1204.3" y1="148.31" x2="1204.3" y2="178.43" stroke="#E64B35" stroke-width="2.5"/>
<line x1="1204.3" y1="199.37" x2="1204.3" y2="229.2" stroke="#E64B35" stroke-width="2.5"/>
<line x1="1197.4" y1="148.31" x2="1211.2" y2="148.31" stroke="#E64B35" stroke-width="2.4"/>
<line x1="1197.4" y1="229.2" x2="1211.2" y2="229.2" stroke="#E64B35" stroke-width="2.4"/>
<rect x="1193.2" y="178.43" width="22.2" height="20.94" fill="#fff" stroke="#E64B35" stroke-width="2.5"/>
<line x1="1193.1" y1="187.89" x2="1215.5" y2="187.89" stroke="#E64B35" stroke-width="7"/>
<path d="M1167.6 135.82 V132.82 H1204.3 V135.82" fill="none" stroke="#000" stroke-width="1.2"/>
<text x="1186.3" y="136.02" font-size="22.6" text-anchor="middle">***</text>
<line x1="1258.9" y1="134.83" x2="1258.9" y2="190.48" stroke="#4DBBD5" stroke-width="2.5"/>
<line x1="1258.9" y1="239.53" x2="1258.9" y2="311.82" stroke="#4DBBD5" stroke-width="2.5"/>
<line x1="1252" y1="134.83" x2="1265.8" y2="134.83" stroke="#4DBBD5" stroke-width="2.4"/>
<line x1="1252" y1="311.82" x2="1265.8" y2="311.82" stroke="#4DBBD5" stroke-width="2.4"/>
<rect x="1247.8" y="190.48" width="22.2" height="49.05" fill="url(#hd1)" stroke="#4DBBD5" stroke-width="2.5"/>
<line x1="1247.7" y1="215.15" x2="1270.1" y2="215.15" stroke="#4DBBD5" stroke-width="7"/>
<line x1="1295.6" y1="152.32" x2="1295.6" y2="189.33" stroke="#4DBBD5" stroke-width="2.5"/>
<line x1="1295.6" y1="219.45" x2="1295.6" y2="263.34" stroke="#4DBBD5" stroke-width="2.5"/>
<line x1="1288.7" y1="152.32" x2="1302.5" y2="152.32" stroke="#4DBBD5" stroke-width="2.4"/>
<line x1="1288.7" y1="263.34" x2="1302.5" y2="263.34" stroke="#4DBBD5" stroke-width="2.4"/>
<rect x="1284.5" y="189.33" width="22.2" height="30.12" fill="#fff" stroke="#4DBBD5" stroke-width="2.5"/>
<line x1="1284.4" y1="202.24" x2="1306.8" y2="202.24" stroke="#4DBBD5" stroke-width="7"/>
<path d="M1258.9 132.95 V129.95 H1295.6 V132.95" fill="none" stroke="#000" stroke-width="1.2"/>
<text x="1277.6" y="136.95" font-size="22.6" text-anchor="middle">***</text>
<line x1="1350.2" y1="134.83" x2="1350.2" y2="188.47" stroke="#00A087" stroke-width="2.5"/>
<line x1="1350.2" y1="230.92" x2="1350.2" y2="293.75" stroke="#00A087" stroke-width="2.5"/>
<line x1="1343.3" y1="134.83" x2="1357.1" y2="134.83" stroke="#00A087" stroke-width="2.4"/>
<line x1="1343.3" y1="293.75" x2="1357.1" y2="293.75" stroke="#00A087" stroke-width="2.4"/>
<rect x="1339.1" y="188.47" width="22.2" height="42.46" fill="url(#hd2)" stroke="#00A087" stroke-width="2.5"/>
<line x1="1339" y1="207.97" x2="1361.4" y2="207.97" stroke="#00A087" stroke-width="7"/>
<line x1="1386.9" y1="152.9" x2="1386.9" y2="187.32" stroke="#00A087" stroke-width="2.5"/>
<line x1="1386.9" y1="213.43" x2="1386.9" y2="251.29" stroke="#00A087" stroke-width="2.5"/>
<line x1="1380" y1="152.9" x2="1393.8" y2="152.9" stroke="#00A087" stroke-width="2.4"/>
<line x1="1380" y1="251.29" x2="1393.8" y2="251.29" stroke="#00A087" stroke-width="2.4"/>
<rect x="1375.8" y="187.32" width="22.2" height="26.1" fill="#fff" stroke="#00A087" stroke-width="2.5"/>
<line x1="1375.7" y1="198.8" x2="1398.1" y2="198.8" stroke="#00A087" stroke-width="7"/>
<path d="M1350.2 132.95 V129.95 H1386.9 V132.95" fill="none" stroke="#000" stroke-width="1.2"/>
<text x="1368.9" y="136.05" font-size="22.6" text-anchor="middle">***</text>
<line x1="1441.5" y1="129.37" x2="1441.5" y2="186.17" stroke="#3C5488" stroke-width="2.5"/>
<line x1="1441.5" y1="236.95" x2="1441.5" y2="311.24" stroke="#3C5488" stroke-width="2.5"/>
<line x1="1434.6" y1="129.37" x2="1448.4" y2="129.37" stroke="#3C5488" stroke-width="2.4"/>
<line x1="1434.6" y1="311.24" x2="1448.4" y2="311.24" stroke="#3C5488" stroke-width="2.4"/>
<rect x="1430.4" y="186.17" width="22.2" height="50.77" fill="url(#hd3)" stroke="#3C5488" stroke-width="2.5"/>
<line x1="1430.3" y1="207.11" x2="1452.7" y2="207.11" stroke="#3C5488" stroke-width="7"/>
<line x1="1478.2" y1="140.56" x2="1478.2" y2="175.85" stroke="#3C5488" stroke-width="2.5"/>
<line x1="1478.2" y1="202.24" x2="1478.2" y2="240.1" stroke="#3C5488" stroke-width="2.5"/>
<line x1="1471.3" y1="140.56" x2="1485.1" y2="140.56" stroke="#3C5488" stroke-width="2.4"/>
<line x1="1471.3" y1="240.1" x2="1485.1" y2="240.1" stroke="#3C5488" stroke-width="2.4"/>
<rect x="1467.1" y="175.85" width="22.2" height="26.39" fill="#fff" stroke="#3C5488" stroke-width="2.5"/>
<line x1="1467" y1="187.89" x2="1489.4" y2="187.89" stroke="#3C5488" stroke-width="7"/>
<path d="M1441.5 127.21 V124.21 H1478.2 V127.21" fill="none" stroke="#000" stroke-width="1.2"/>
<text x="1460.2" y="131.91" font-size="22.6" text-anchor="middle">***</text>
<line x1="1532.8" y1="93.8" x2="1532.8" y2="162.08" stroke="#F39B7F" stroke-width="2.5"/>
<line x1="1532.8" y1="208.84" x2="1532.8" y2="278.26" stroke="#F39B7F" stroke-width="2.5"/>
<line x1="1525.9" y1="93.8" x2="1539.7" y2="93.8" stroke="#F39B7F" stroke-width="2.4"/>
<line x1="1525.9" y1="278.26" x2="1539.7" y2="278.26" stroke="#F39B7F" stroke-width="2.4"/>
<rect x="1521.7" y="162.08" width="22.2" height="46.76" fill="url(#hd4)" stroke="#F39B7F" stroke-width="2.5"/>
<line x1="1521.6" y1="177.85" x2="1544" y2="177.85" stroke="#F39B7F" stroke-width="7"/>
<line x1="1569.5" y1="120.48" x2="1569.5" y2="157.77" stroke="#F39B7F" stroke-width="2.5"/>
<line x1="1569.5" y1="185.03" x2="1569.5" y2="223.75" stroke="#F39B7F" stroke-width="2.5"/>
<line x1="1562.6" y1="120.48" x2="1576.4" y2="120.48" stroke="#F39B7F" stroke-width="2.4"/>
<line x1="1562.6" y1="223.75" x2="1576.4" y2="223.75" stroke="#F39B7F" stroke-width="2.4"/>
<rect x="1558.4" y="157.77" width="22.2" height="27.25" fill="#fff" stroke="#F39B7F" stroke-width="2.5"/>
<line x1="1558.3" y1="170.68" x2="1580.7" y2="170.68" stroke="#F39B7F" stroke-width="7"/>
<path d="M1532.8 91.35 V88.35 H1569.5 V91.35" fill="none" stroke="#000" stroke-width="1.2"/>
<text x="1551.5" y="93.85" font-size="22.6" text-anchor="middle">***</text>
<line x1="1624.1" y1="122.49" x2="1624.1" y2="185.89" stroke="#8491B4" stroke-width="2.5"/>
<line x1="1624.1" y1="237.23" x2="1624.1" y2="312.11" stroke="#8491B4" stroke-width="2.5"/>
<line x1="1617.2" y1="122.49" x2="1631" y2="122.49" stroke="#8491B4" stroke-width="2.4"/>
<line x1="1617.2" y1="312.11" x2="1631" y2="312.11" stroke="#8491B4" stroke-width="2.4"/>
<rect x="1613" y="185.89" width="22.2" height="51.35" fill="url(#hd5)" stroke="#8491B4" stroke-width="2.5"/>
<line x1="1612.9" y1="206.54" x2="1635.3" y2="206.54" stroke="#8491B4" stroke-width="7"/>
<line x1="1660.8" y1="133.39" x2="1660.8" y2="165.81" stroke="#8491B4" stroke-width="2.5"/>
<line x1="1660.8" y1="191.62" x2="1660.8" y2="230.35" stroke="#8491B4" stroke-width="2.5"/>
<line x1="1653.9" y1="133.39" x2="1667.7" y2="133.39" stroke="#8491B4" stroke-width="2.4"/>
<line x1="1653.9" y1="230.35" x2="1667.7" y2="230.35" stroke="#8491B4" stroke-width="2.4"/>
<rect x="1649.7" y="165.81" width="22.2" height="25.82" fill="#fff" stroke="#8491B4" stroke-width="2.5"/>
<line x1="1649.6" y1="177.85" x2="1672" y2="177.85" stroke="#8491B4" stroke-width="7"/>
<path d="M1624.1 107.13 V104.13 H1660.8 V107.13" fill="none" stroke="#000" stroke-width="1.2"/>
<text x="1642.8" y="109.33" font-size="22.6" text-anchor="middle">***</text>
<line x1="1715.4" y1="144" x2="1715.4" y2="193.06" stroke="#91D1C2" stroke-width="2.5"/>
<line x1="1715.4" y1="234.65" x2="1715.4" y2="295.47" stroke="#91D1C2" stroke-width="2.5"/>
<line x1="1708.5" y1="144" x2="1722.3" y2="144" stroke="#91D1C2" stroke-width="2.4"/>
<line x1="1708.5" y1="295.47" x2="1722.3" y2="295.47" stroke="#91D1C2" stroke-width="2.4"/>
<rect x="1704.3" y="193.06" width="22.2" height="41.59" fill="url(#hd6)" stroke="#91D1C2" stroke-width="2.5"/>
<line x1="1704.2" y1="210.27" x2="1726.6" y2="210.27" stroke="#91D1C2" stroke-width="7"/>
<line x1="1752.1" y1="160.93" x2="1752.1" y2="189.62" stroke="#91D1C2" stroke-width="2.5"/>
<line x1="1752.1" y1="211.7" x2="1752.1" y2="244.12" stroke="#91D1C2" stroke-width="2.5"/>
<line x1="1745.2" y1="160.93" x2="1759" y2="160.93" stroke="#91D1C2" stroke-width="2.4"/>
<line x1="1745.2" y1="244.12" x2="1759" y2="244.12" stroke="#91D1C2" stroke-width="2.4"/>
<rect x="1741" y="189.62" width="22.2" height="22.09" fill="#fff" stroke="#91D1C2" stroke-width="2.5"/>
<line x1="1740.9" y1="198.8" x2="1763.3" y2="198.8" stroke="#91D1C2" stroke-width="7"/>
<path d="M1715.4 142.13 V139.13 H1752.1 V142.13" fill="none" stroke="#000" stroke-width="1.2"/>
<text x="1734.1" y="141.73" font-size="22.6" text-anchor="middle">***</text>
<line x1="1806.7" y1="132.24" x2="1806.7" y2="182.73" stroke="#DC0000" stroke-width="2.5"/>
<line x1="1806.7" y1="229.78" x2="1806.7" y2="300.06" stroke="#DC0000" stroke-width="2.5"/>
<line x1="1799.8" y1="132.24" x2="1813.6" y2="132.24" stroke="#DC0000" stroke-width="2.4"/>
<line x1="1799.8" y1="300.06" x2="1813.6" y2="300.06" stroke="#DC0000" stroke-width="2.4"/>
<rect x="1795.6" y="182.73" width="22.2" height="47.05" fill="url(#hd7)" stroke="#DC0000" stroke-width="2.5"/>
<line x1="1795.5" y1="200.8" x2="1817.9" y2="200.8" stroke="#DC0000" stroke-width="7"/>
<line x1="1843.4" y1="142.28" x2="1843.4" y2="173.55" stroke="#DC0000" stroke-width="2.5"/>
<line x1="1843.4" y1="195.64" x2="1843.4" y2="227.19" stroke="#DC0000" stroke-width="2.5"/>
<line x1="1836.5" y1="142.28" x2="1850.3" y2="142.28" stroke="#DC0000" stroke-width="2.4"/>
<line x1="1836.5" y1="227.19" x2="1850.3" y2="227.19" stroke="#DC0000" stroke-width="2.4"/>
<rect x="1832.3" y="173.55" width="22.2" height="22.09" fill="#fff" stroke="#DC0000" stroke-width="2.5"/>
<line x1="1832.2" y1="183.59" x2="1854.6" y2="183.59" stroke="#DC0000" stroke-width="7"/>
<path d="M1806.7 129.51 V126.51 H1843.4 V129.51" fill="none" stroke="#000" stroke-width="1.2"/>
<text x="1825.4" y="130.91" font-size="22.6" text-anchor="middle">***</text>
<line x1="1898" y1="128.8" x2="1898" y2="180.15" stroke="#7E6148" stroke-width="2.5"/>
<line x1="1898" y1="228.63" x2="1898" y2="299.48" stroke="#7E6148" stroke-width="2.5"/>
<line x1="1891.1" y1="128.8" x2="1904.9" y2="128.8" stroke="#7E6148" stroke-width="2.4"/>
<line x1="1891.1" y1="299.48" x2="1904.9" y2="299.48" stroke="#7E6148" stroke-width="2.4"/>
<rect x="1886.9" y="180.15" width="22.2" height="48.48" fill="url(#hd8)" stroke="#7E6148" stroke-width="2.5"/>
<line x1="1886.8" y1="199.37" x2="1909.2" y2="199.37" stroke="#7E6148" stroke-width="7"/>
<line x1="1934.7" y1="138.27" x2="1934.7" y2="172.4" stroke="#7E6148" stroke-width="2.5"/>
<line x1="1934.7" y1="195.93" x2="1934.7" y2="230.64" stroke="#7E6148" stroke-width="2.5"/>
<line x1="1927.8" y1="138.27" x2="1941.6" y2="138.27" stroke="#7E6148" stroke-width="2.4"/>
<line x1="1927.8" y1="230.64" x2="1941.6" y2="230.64" stroke="#7E6148" stroke-width="2.4"/>
<rect x="1923.6" y="172.4" width="22.2" height="23.52" fill="#fff" stroke="#7E6148" stroke-width="2.5"/>
<line x1="1923.5" y1="183.02" x2="1945.9" y2="183.02" stroke="#7E6148" stroke-width="7"/>
<path d="M1898 126.64 V123.64 H1934.7 V126.64" fill="none" stroke="#000" stroke-width="1.2"/>
<text x="1916.7" y="128.24" font-size="22.6" text-anchor="middle">***</text>
<rect x="1140.5" y="68" width="822.4" height="266.2" fill="none" stroke="#000" stroke-width="2.4"/>
<line x1="1132.5" y1="94.1" x2="1140.5" y2="94.1" stroke="#000" stroke-width="2.4"/>
<text x="1131" y="105.5" font-size="22.3" text-anchor="end">10</text>
<line x1="1132.5" y1="161.2" x2="1140.5" y2="161.2" stroke="#000" stroke-width="2.4"/>
<text x="1131" y="169.5" font-size="22.3" text-anchor="end">5</text>
<line x1="1132.5" y1="228" x2="1140.5" y2="228" stroke="#000" stroke-width="2.4"/>
<text x="1131" y="228.9" font-size="22.3" text-anchor="end">0</text>
<line x1="1132.5" y1="294.9" x2="1140.5" y2="294.9" stroke="#000" stroke-width="2.4"/>
<text x="1131" y="292.6" font-size="22.3" text-anchor="end">−5</text>
<line x1="1185.8" y1="334.2" x2="1185.8" y2="342.7" stroke="#000" stroke-width="2.4"/>
<text font-size="24" text-anchor="end" fill="#E64B35" transform="translate(1191.8 354) rotate(-45)">Heart</text>
<line x1="1277.1" y1="334.2" x2="1277.1" y2="342.7" stroke="#000" stroke-width="2.4"/>
<text font-size="24" text-anchor="end" fill="#4DBBD5" transform="translate(1289.4 354) rotate(-45)">Kidney</text>
<line x1="1368.4" y1="334.2" x2="1368.4" y2="342.7" stroke="#000" stroke-width="2.4"/>
<text font-size="24" text-anchor="end" fill="#00A087" transform="translate(1388.8 352.8) rotate(-45)">Large intestine</text>
<line x1="1459.7" y1="334.2" x2="1459.7" y2="342.7" stroke="#000" stroke-width="2.4"/>
<text font-size="24" text-anchor="end" fill="#3C5488" transform="translate(1478 352.8) rotate(-45)">Liver</text>
<line x1="1551" y1="334.2" x2="1551" y2="342.7" stroke="#000" stroke-width="2.4"/>
<text font-size="24" text-anchor="end" fill="#F39B7F" transform="translate(1566.8 354) rotate(-45)">Lung</text>
<line x1="1642.3" y1="334.2" x2="1642.3" y2="342.7" stroke="#000" stroke-width="2.4"/>
<text font-size="24" text-anchor="end" fill="#8491B4" transform="translate(1658.2 353.1) rotate(-45)">Muscle</text>
<line x1="1733.6" y1="334.2" x2="1733.6" y2="342.7" stroke="#000" stroke-width="2.4"/>
<text font-size="24" text-anchor="end" fill="#91D1C2" transform="translate(1749.5 353.1) rotate(-45)">Small intestine</text>
<line x1="1824.9" y1="334.2" x2="1824.9" y2="342.7" stroke="#000" stroke-width="2.4"/>
<text font-size="24" text-anchor="end" fill="#DC0000" transform="translate(1868.9 352) rotate(-45)">Subcutaneous adipose</text>
<line x1="1916.2" y1="334.2" x2="1916.2" y2="342.7" stroke="#000" stroke-width="2.4"/>
<text font-size="24" text-anchor="end" fill="#7E6148" transform="translate(1927.2 352.5) rotate(-45)">Visceral adipose</text>
<text font-size="24" text-anchor="middle" transform="translate(1057 191) rotate(-90)">A−B index for</text>
<text font-size="24" text-anchor="middle" transform="translate(1091 191) rotate(-90)">the anchors of PEIs</text>
<rect x="1138.5" y="36.8" width="22.5" height="18.5" fill="url(#hdl)" stroke="#000" stroke-width="1.6"/>
<text x="1175" y="52" font-size="24">Tissue−specific PEIs</text>
<rect x="1470.5" y="36.8" width="22" height="18.5" fill="#fff" stroke="#000" stroke-width="2"/>
<text x="1506" y="52" font-size="24">Stable PEIs</text>
</g>
<g id="pe">
<text x="813" y="550.6" font-size="31">e</text>
<rect x="1024.3" y="582.8" width="263.69" height="20.4" fill="#E64B35" stroke="#000" stroke-width="1"/>
<rect x="1287.99" y="582.8" width="63.94" height="20.4" fill="#4DBBD5" stroke="#000" stroke-width="1"/>
<rect x="1351.93" y="582.8" width="13.82" height="20.4" fill="#00A087" stroke="#000" stroke-width="1"/>
<rect x="1365.75" y="582.8" width="4.15" height="20.4" fill="#3C5488" stroke="#000" stroke-width="1"/>
<line x1="1020.3" y1="593" x2="1024.3" y2="593" stroke="#000" stroke-width="1.2"/>
<text x="1016" y="601" font-size="20.7" text-anchor="end">Heart−specific PEIs</text>
<rect x="1024.3" y="611.53" width="247.1" height="20.4" fill="#E64B35" stroke="#000" stroke-width="1"/>
<rect x="1271.4" y="611.53" width="72.23" height="20.4" fill="#4DBBD5" stroke="#000" stroke-width="1"/>
<rect x="1343.63" y="611.53" width="18.32" height="20.4" fill="#00A087" stroke="#000" stroke-width="1"/>
<rect x="1361.95" y="611.53" width="7.95" height="20.4" fill="#3C5488" stroke="#000" stroke-width="1"/>
<line x1="1020.3" y1="621.73" x2="1024.3" y2="621.73" stroke="#000" stroke-width="1.2"/>
<text x="1016" y="629.73" font-size="20.7" text-anchor="end">Kidney−specific PEIs</text>
<rect x="1024.3" y="640.26" width="239.16" height="20.4" fill="#E64B35" stroke="#000" stroke-width="1"/>
<rect x="1263.46" y="640.26" width="75" height="20.4" fill="#4DBBD5" stroke="#000" stroke-width="1"/>
<rect x="1338.45" y="640.26" width="21.43" height="20.4" fill="#00A087" stroke="#000" stroke-width="1"/>
<rect x="1359.88" y="640.26" width="10.02" height="20.4" fill="#3C5488" stroke="#000" stroke-width="1"/>
<line x1="1020.3" y1="650.46" x2="1024.3" y2="650.46" stroke="#000" stroke-width="1.2"/>
<text x="1016" y="658.46" font-size="20.7" text-anchor="end">Large intestine−specific PEIs</text>
<rect x="1024.3" y="668.99" width="256.09" height="20.4" fill="#E64B35" stroke="#000" stroke-width="1"/>
<rect x="1280.39" y="668.99" width="66.01" height="20.4" fill="#4DBBD5" stroke="#000" stroke-width="1"/>
<rect x="1346.4" y="668.99" width="15.9" height="20.4" fill="#00A087" stroke="#000" stroke-width="1"/>
<rect x="1362.3" y="668.99" width="7.6" height="20.4" fill="#3C5488" stroke="#000" stroke-width="1"/>
<line x1="1020.3" y1="679.19" x2="1024.3" y2="679.19" stroke="#000" stroke-width="1.2"/>
<text x="1016" y="687.19" font-size="20.7" text-anchor="end">Liver−specific PEIs</text>
<rect x="1024.3" y="697.72" width="248.49" height="20.4" fill="#E64B35" stroke="#000" stroke-width="1"/>
<rect x="1272.79" y="697.72" width="69.12" height="20.4" fill="#4DBBD5" stroke="#000" stroke-width="1"/>
<rect x="1341.91" y="697.72" width="19.35" height="20.4" fill="#00A087" stroke="#000" stroke-width="1"/>
<rect x="1361.26" y="697.72" width="8.64" height="20.4" fill="#3C5488" stroke="#000" stroke-width="1"/>
<line x1="1020.3" y1="707.92" x2="1024.3" y2="707.92" stroke="#000" stroke-width="1.2"/>
<text x="1016" y="715.92" font-size="20.7" text-anchor="end">Lung−specific PEIs</text>
<rect x="1024.3" y="726.45" width="261.62" height="20.4" fill="#E64B35" stroke="#000" stroke-width="1"/>
<rect x="1285.92" y="726.45" width="63.24" height="20.4" fill="#4DBBD5" stroke="#000" stroke-width="1"/>
<rect x="1349.16" y="726.45" width="14.52" height="20.4" fill="#00A087" stroke="#000" stroke-width="1"/>
<rect x="1363.68" y="726.45" width="6.22" height="20.4" fill="#3C5488" stroke="#000" stroke-width="1"/>
<line x1="1020.3" y1="736.65" x2="1024.3" y2="736.65" stroke="#000" stroke-width="1.2"/>
<text x="1016" y="744.65" font-size="20.7" text-anchor="end">Muscle−specific PEIs</text>
<rect x="1024.3" y="755.18" width="249.18" height="20.4" fill="#E64B35" stroke="#000" stroke-width="1"/>
<rect x="1273.48" y="755.18" width="69.12" height="20.4" fill="#4DBBD5" stroke="#000" stroke-width="1"/>
<rect x="1342.6" y="755.18" width="19.35" height="20.4" fill="#00A087" stroke="#000" stroke-width="1"/>
<rect x="1361.95" y="755.18" width="7.95" height="20.4" fill="#3C5488" stroke="#000" stroke-width="1"/>
<line x1="1020.3" y1="765.38" x2="1024.3" y2="765.38" stroke="#000" stroke-width="1.2"/>
<text x="1016" y="773.38" font-size="20.7" text-anchor="end">Small intestine−specific PEIs</text>
<rect x="1024.3" y="783.91" width="271.3" height="20.4" fill="#E64B35" stroke="#000" stroke-width="1"/>
<rect x="1295.6" y="783.91" width="57.37" height="20.4" fill="#4DBBD5" stroke="#000" stroke-width="1"/>
<rect x="1352.97" y="783.91" width="13.13" height="20.4" fill="#00A087" stroke="#000" stroke-width="1"/>
<rect x="1366.1" y="783.91" width="3.8" height="20.4" fill="#3C5488" stroke="#000" stroke-width="1"/>
<line x1="1020.3" y1="794.11" x2="1024.3" y2="794.11" stroke="#000" stroke-width="1.2"/>
<text x="1016" y="802.11" font-size="20.7" text-anchor="end">Subcutaneous adipose−specific PEIs</text>
<rect x="1024.3" y="812.64" width="262.31" height="20.4" fill="#E64B35" stroke="#000" stroke-width="1"/>
<rect x="1286.61" y="812.64" width="63.24" height="20.4" fill="#4DBBD5" stroke="#000" stroke-width="1"/>
<rect x="1349.86" y="812.64" width="15.21" height="20.4" fill="#00A087" stroke="#000" stroke-width="1"/>
<rect x="1365.06" y="812.64" width="4.84" height="20.4" fill="#3C5488" stroke="#000" stroke-width="1"/>
<line x1="1020.3" y1="822.84" x2="1024.3" y2="822.84" stroke="#000" stroke-width="1.2"/>
<text x="1016" y="830.84" font-size="20.7" text-anchor="end">Visceral adipose−specific PEIs</text>
<rect x="1024.3" y="841.37" width="227.4" height="20.4" fill="#E64B35" stroke="#000" stroke-width="1"/>
<rect x="1251.7" y="841.37" width="77.76" height="20.4" fill="#4DBBD5" stroke="#000" stroke-width="1"/>
<rect x="1329.46" y="841.37" width="21.43" height="20.4" fill="#00A087" stroke="#000" stroke-width="1"/>
<rect x="1350.89" y="841.37" width="19.01" height="20.4" fill="#3C5488" stroke="#000" stroke-width="1"/>
<line x1="1020.3" y1="851.57" x2="1024.3" y2="851.57" stroke="#000" stroke-width="1.2"/>
<text x="1016" y="859.57" font-size="20.7" text-anchor="end">Stable PEIs</text>
<line x1="1024.3" y1="581" x2="1024.3" y2="866.6" stroke="#000" stroke-width="1.6"/>
<line x1="1023.5" y1="866" x2="1371.4" y2="866" stroke="#000" stroke-width="1.6"/>
<line x1="1024.3" y1="866" x2="1024.3" y2="870.5" stroke="#000" stroke-width="1.6"/>
<text x="1024.3" y="888.5" font-size="20.7" text-anchor="middle">0.0</text>
<line x1="1093.42" y1="866" x2="1093.42" y2="870.5" stroke="#000" stroke-width="1.6"/>
<text x="1093.42" y="888.5" font-size="20.7" text-anchor="middle">0.2</text>
<line x1="1162.54" y1="866" x2="1162.54" y2="870.5" stroke="#000" stroke-width="1.6"/>
<text x="1162.54" y="888.5" font-size="20.7" text-anchor="middle">0.4</text>
<line x1="1231.66" y1="866" x2="1231.66" y2="870.5" stroke="#000" stroke-width="1.6"/>
<text x="1231.66" y="888.5" font-size="20.7" text-anchor="middle">0.6</text>
<line x1="1300.78" y1="866" x2="1300.78" y2="870.5" stroke="#000" stroke-width="1.6"/>
<text x="1300.78" y="888.5" font-size="20.7" text-anchor="middle">0.8</text>
<line x1="1369.9" y1="866" x2="1369.9" y2="870.5" stroke="#000" stroke-width="1.6"/>
<text x="1369.9" y="888.5" font-size="20.7" text-anchor="middle">1.0</text>
<text x="1193.5" y="914.8" font-size="24" text-anchor="middle">Proportion of promoters</text>
<text x="1179.6" y="551.8" font-size="20.7" text-anchor="middle">Number of PEIs per promoter</text>
<line x1="1026" y1="555.2" x2="1330" y2="555.2" stroke="#000" stroke-width="1.3"/>
<rect x="1026" y="561.6" width="33.3" height="12.3" fill="#E64B35"/>
<text x="1071" y="573.3" font-size="20.7">1</text>
<rect x="1102.8" y="561.6" width="33.3" height="12.3" fill="#4DBBD5"/>
<text x="1147.4" y="573.3" font-size="20.7">2</text>
<rect x="1181.4" y="561.6" width="33.3" height="12.3" fill="#00A087"/>
<text x="1226" y="573.3" font-size="20.7">3</text>
<rect x="1259" y="561.6" width="33.3" height="12.3" fill="#3C5488"/>
<text x="1303.2" y="573.3" font-size="20.7">&gt;3</text>
</g>
<g id="pf">
<text x="1426" y="549" font-size="31">f</text>
<rect x="1533.5" y="808.89" width="12.2" height="58.91" fill="#BEBEBE" stroke="#E64B35" stroke-width="1.8"/>
<rect x="1552.7" y="853.57" width="12.2" height="14.23" fill="#fff" stroke="#E64B35" stroke-width="1.8"/>
<path d="M1540 806.32 V803.52 H1559 V806.32" fill="none" stroke="#000" stroke-width="2.2"/>
<text x="1528.87" y="795.96" font-size="13.6"><tspan font-style="italic">P</tspan> ≤ 0.01</text>
<rect x="1582.37" y="829.51" width="12.2" height="38.29" fill="#BEBEBE" stroke="#4DBBD5" stroke-width="1.8"/>
<rect x="1601.57" y="846.01" width="12.2" height="21.79" fill="#fff" stroke="#4DBBD5" stroke-width="1.8"/>
<path d="M1588.87 826.94 V824.14 H1607.87 V826.94" fill="none" stroke="#000" stroke-width="2.2"/>
<text x="1572.52" y="817.61" font-size="13.6"><tspan font-style="italic">P</tspan> = 0.07</text>
<rect x="1631.24" y="778.99" width="12.2" height="88.81" fill="#BEBEBE" stroke="#00A087" stroke-width="1.8"/>
<rect x="1650.44" y="843.26" width="12.2" height="24.54" fill="#fff" stroke="#00A087" stroke-width="1.8"/>
<path d="M1637.74 776.43 V773.63 H1656.74 V776.43" fill="none" stroke="#000" stroke-width="2.2"/>
<text x="1616.51" y="764.69" font-size="13.6"><tspan font-style="italic">P</tspan> ≤ 0.001</text>
<rect x="1680.11" y="691.7" width="12.2" height="176.1" fill="#BEBEBE" stroke="#3C5488" stroke-width="1.8"/>
<rect x="1699.31" y="842.92" width="12.2" height="24.88" fill="#fff" stroke="#3C5488" stroke-width="1.8"/>
<path d="M1686.61 689.48 V686.68 H1705.61 V689.48" fill="none" stroke="#000" stroke-width="2.2"/>
<text x="1658.44" y="679.8" font-size="13.6"><tspan font-style="italic">P</tspan> &lt; 2.2×10<tspan font-size="8.6" dy="-5.2">-16</tspan></text>
<rect x="1728.98" y="837.42" width="12.2" height="30.38" fill="#BEBEBE" stroke="#F39B7F" stroke-width="1.8"/>
<rect x="1748.18" y="842.92" width="12.2" height="24.88" fill="#fff" stroke="#F39B7F" stroke-width="1.8"/>
<path d="M1735.48 834.51 V831.71 H1754.48 V834.51" fill="none" stroke="#000" stroke-width="2.2"/>
<text x="1719.61" y="824.83" font-size="13.6"><tspan font-style="italic">P</tspan> = 0.70</text>
<rect x="1777.85" y="648.4" width="12.2" height="219.4" fill="#BEBEBE" stroke="#8491B4" stroke-width="1.8"/>
<rect x="1797.05" y="851.51" width="12.2" height="16.29" fill="#fff" stroke="#8491B4" stroke-width="1.8"/>
<path d="M1784.35 645.49 V642.69 H1803.35 V645.49" fill="none" stroke="#000" stroke-width="2.2"/>
<text x="1753.98" y="634.44" font-size="13.6"><tspan font-style="italic">P</tspan> &lt; 2.2×10<tspan font-size="8.6" dy="-5.2">-16</tspan></text>
<rect x="1826.72" y="820.58" width="12.2" height="47.22" fill="#BEBEBE" stroke="#91D1C2" stroke-width="1.8"/>
<rect x="1845.92" y="850.48" width="12.2" height="17.32" fill="#fff" stroke="#91D1C2" stroke-width="1.8"/>
<path d="M1833.22 817.67 V814.87 H1852.22 V817.67" fill="none" stroke="#000" stroke-width="2.2"/>
<text x="1819.27" y="806.96" font-size="13.6"><tspan font-style="italic">P</tspan> ≤ 0.05</text>
<rect x="1894.79" y="860.44" width="12.2" height="7.36" fill="#fff" stroke="#DC0000" stroke-width="1.8"/>
<path d="M1882.09 857.87 V855.07 H1901.09 V857.87" fill="none" stroke="#000" stroke-width="2.2"/>
<text x="1859.48" y="845.8" font-size="13.6"><tspan font-style="italic">P</tspan> = 0.71</text>
<rect x="1943.66" y="860.44" width="12.2" height="7.36" fill="#fff" stroke="#7E6148" stroke-width="1.8"/>
<path d="M1930.96 857.87 V855.07 H1949.96 V857.87" fill="none" stroke="#000" stroke-width="2.2"/>
<text x="1912.06" y="845.8" font-size="13.6"><tspan font-style="italic">P</tspan> = 0.65</text>
<rect x="1524.8" y="592.2" width="440.5" height="275.6" fill="none" stroke="#000" stroke-width="2.4"/>
<line x1="1518.3" y1="867.8" x2="1524.8" y2="867.8" stroke="#000" stroke-width="2.4"/>
<text x="1513.6" y="875.8" font-size="22.3" text-anchor="end">0</text>
<line x1="1518.3" y1="817.36" x2="1524.8" y2="817.36" stroke="#000" stroke-width="2.4"/>
<text x="1513.6" y="825.36" font-size="22.3" text-anchor="end">2</text>
<line x1="1518.3" y1="766.92" x2="1524.8" y2="766.92" stroke="#000" stroke-width="2.4"/>
<text x="1513.6" y="774.92" font-size="22.3" text-anchor="end">4</text>
<line x1="1518.3" y1="716.48" x2="1524.8" y2="716.48" stroke="#000" stroke-width="2.4"/>
<text x="1513.6" y="724.48" font-size="22.3" text-anchor="end">6</text>
<line x1="1518.3" y1="666.04" x2="1524.8" y2="666.04" stroke="#000" stroke-width="2.4"/>
<text x="1513.6" y="674.04" font-size="22.3" text-anchor="end">8</text>
<line x1="1518.3" y1="615.6" x2="1524.8" y2="615.6" stroke="#000" stroke-width="2.4"/>
<text x="1513.6" y="623.6" font-size="22.3" text-anchor="end">10</text>
<line x1="1549.5" y1="867.8" x2="1549.5" y2="874.3" stroke="#000" stroke-width="2.4"/>
<text font-size="17.3" text-anchor="end" fill="#E64B35" transform="translate(1554.5 881.8) rotate(-45)">Heart</text>
<line x1="1598.37" y1="867.8" x2="1598.37" y2="874.3" stroke="#000" stroke-width="2.4"/>
<text font-size="17.3" text-anchor="end" fill="#4DBBD5" transform="translate(1603.37 881.8) rotate(-45)">Kidney</text>
<line x1="1647.24" y1="867.8" x2="1647.24" y2="874.3" stroke="#000" stroke-width="2.4"/>
<text font-size="17.3" text-anchor="end" fill="#00A087" transform="translate(1652.24 881.8) rotate(-45)">Large intestine</text>
<line x1="1696.11" y1="867.8" x2="1696.11" y2="874.3" stroke="#000" stroke-width="2.4"/>
<text font-size="17.3" text-anchor="end" fill="#3C5488" transform="translate(1701.11 881.8) rotate(-45)">Liver</text>
<line x1="1744.98" y1="867.8" x2="1744.98" y2="874.3" stroke="#000" stroke-width="2.4"/>
<text font-size="17.3" text-anchor="end" fill="#F39B7F" transform="translate(1749.98 881.8) rotate(-45)">Lung</text>
<line x1="1793.85" y1="867.8" x2="1793.85" y2="874.3" stroke="#000" stroke-width="2.4"/>
<text font-size="17.3" text-anchor="end" fill="#8491B4" transform="translate(1798.85 881.8) rotate(-45)">Muscle</text>
<line x1="1842.72" y1="867.8" x2="1842.72" y2="874.3" stroke="#000" stroke-width="2.4"/>
<text font-size="17.3" text-anchor="end" fill="#91D1C2" transform="translate(1847.72 881.8) rotate(-45)">Small intestine</text>
<line x1="1891.59" y1="867.8" x2="1891.59" y2="874.3" stroke="#000" stroke-width="2.4"/>
<text font-size="17.3" text-anchor="end" fill="#DC0000" transform="translate(1896.59 881.8) rotate(-45)">Subcutaneous adipose</text>
<line x1="1940.46" y1="867.8" x2="1940.46" y2="874.3" stroke="#000" stroke-width="2.4"/>
<text font-size="17.3" text-anchor="end" fill="#7E6148" transform="translate(1945.46 881.8) rotate(-45)">Visceral adipose</text>
<text font-size="26.3" text-anchor="middle" transform="translate(1446.5 741.5) rotate(-90)">Percentage of tissue−specific</text>
<text font-size="26.3" text-anchor="middle" transform="translate(1479.5 738) rotate(-90)">high RPS genes (%)</text>
<rect x="1528.6" y="564.3" width="16.8" height="13.2" fill="#E0E0E0" stroke="#000" stroke-width="1.8"/>
<text x="1552.3" y="577.6" font-size="20.5">Tissue−specific PCGs</text>
<rect x="1771.8" y="564.3" width="16" height="13.2" fill="#fff" stroke="#000" stroke-width="1.8"/>
<text x="1795.3" y="577.2" font-size="20.5">Others</text>
</g>
<g id="pg">
<text x="7" y="1076.7" font-size="31">g</text>
<text x="297" y="1117.2" font-size="24" text-anchor="end" fill="#E64B35">Heart</text>
<text x="341" y="1117.2" font-size="17">RPS=0.00</text>
<path d="M342 1136.8 V1131.8 H750 V1136.8" fill="none" stroke="#000" stroke-width="2.6"/>
<text x="297" y="1688" font-size="24" text-anchor="end" fill="#E64B35">Heart</text>
<text x="297" y="1180.6" font-size="24" text-anchor="end" fill="#4DBBD5">Kidney</text>
<text x="341" y="1180.6" font-size="17">RPS=2.35</text>
<path d="M342 1200.2 V1195.2 H750 V1200.2" fill="none" stroke="#000" stroke-width="2.6"/>
<text x="297" y="1751.5" font-size="24" text-anchor="end" fill="#4DBBD5">Kidney</text>
<text x="297" y="1244" font-size="24" text-anchor="end" fill="#00A087">Large intestine</text>
<text x="341" y="1244" font-size="17">RPS=2.47</text>
<path d="M342 1263.6 V1258.6 H750 V1263.6" fill="none" stroke="#000" stroke-width="2.6"/>
<text x="297" y="1815" font-size="24" text-anchor="end" fill="#00A087">Large intestine</text>
<text x="297" y="1307.4" font-size="24" text-anchor="end" fill="#3C5488">Liver</text>
<text x="341" y="1307.4" font-size="17">RPS=1.58</text>
<path d="M342 1327 V1322 H750 V1327" fill="none" stroke="#000" stroke-width="2.6"/>
<text x="297" y="1878.5" font-size="24" text-anchor="end" fill="#3C5488">Liver</text>
<text x="297" y="1370.8" font-size="24" text-anchor="end" fill="#F39B7F">Lung</text>
<text x="341" y="1370.8" font-size="17">RPS=0.00</text>
<path d="M342 1390.4 V1385.4 H750 V1390.4" fill="none" stroke="#000" stroke-width="2.6"/>
<text x="297" y="1942" font-size="24" text-anchor="end" fill="#F39B7F">Lung</text>
<text x="297" y="1434.2" font-size="24" text-anchor="end" fill="#8491B4">Muscle</text>
<text x="341" y="1434.2" font-size="17">RPS=5.85</text>
<path d="M342 1453.8 V1448.8 H750 V1453.8" fill="none" stroke="#000" stroke-width="2.6"/>
<text x="297" y="2005.5" font-size="24" text-anchor="end" fill="#8491B4">Muscle</text>
<text x="297" y="1497.6" font-size="24" text-anchor="end" fill="#91D1C2">Small intestine</text>
<text x="341" y="1497.6" font-size="17">RPS=0.77</text>
<path d="M342 1517.2 V1512.2 H750 V1517.2" fill="none" stroke="#000" stroke-width="2.6"/>
<text x="297" y="2069" font-size="24" text-anchor="end" fill="#91D1C2">Small intestine</text>
<text x="297" y="1561" font-size="24" text-anchor="end" fill="#DC0000">Subcutaneous adipose</text>
<text x="341" y="1561" font-size="17">RPS=1.74</text>
<path d="M342 1580.6 V1575.6 H750 V1580.6" fill="none" stroke="#000" stroke-width="2.6"/>
<text x="297" y="2132.5" font-size="24" text-anchor="end" fill="#DC0000">Subcutaneous adipose</text>
<text x="297" y="1624.4" font-size="24" text-anchor="end" fill="#7E6148">Visceral adipose</text>
<text x="341" y="1624.4" font-size="17">RPS=0.00</text>
<path d="M342 1644 V1639 H750 V1644" fill="none" stroke="#000" stroke-width="2.6"/>
<text x="297" y="2196" font-size="24" text-anchor="end" fill="#7E6148">Visceral adipose</text>
<line x1="46.4" y1="1100.6" x2="46.4" y2="1623.8" stroke="#000" stroke-width="1.6"/>
<line x1="46.4" y1="1651.4" x2="46.4" y2="2227.4" stroke="#000" stroke-width="1.6"/>
<text font-size="24" text-anchor="middle" transform="translate(34.4 1364.7) rotate(-90)">PEIs (RPS)</text>
<text font-size="24" text-anchor="middle" transform="translate(34.4 1908.7) rotate(-90)">RNA-seq (TPM)</text>
<text font-size="22.3" text-anchor="middle" transform="translate(323 1930.4) rotate(-90)">[0, 100]</text>
<path d="M336.5 1650.5 H342 V1702.1 H336.5 M336.5 1676.3 H342" fill="none" stroke="#000" stroke-width="1.6"/>
<path d="M336.5 1714 H342 V1765.6 H336.5 M336.5 1739.8 H342" fill="none" stroke="#000" stroke-width="1.6"/>
<path d="M336.5 1777.5 H342 V1829.1 H336.5 M336.5 1803.3 H342" fill="none" stroke="#000" stroke-width="1.6"/>
<path d="M336.5 1841 H342 V1892.6 H336.5 M336.5 1866.8 H342" fill="none" stroke="#000" stroke-width="1.6"/>
<path d="M336.5 1904.5 H342 V1956.1 H336.5 M336.5 1930.3 H342" fill="none" stroke="#000" stroke-width="1.6"/>
<path d="M336.5 1968 H342 V2019.6 H336.5 M336.5 1993.8 H342" fill="none" stroke="#000" stroke-width="1.6"/>
<path d="M336.5 2031.5 H342 V2083.1 H336.5 M336.5 2057.3 H342" fill="none" stroke="#000" stroke-width="1.6"/>
<path d="M336.5 2095 H342 V2146.6 H336.5 M336.5 2120.8 H342" fill="none" stroke="#000" stroke-width="1.6"/>
<path d="M336.5 2158.5 H342 V2210.1 H336.5 M336.5 2184.3 H342" fill="none" stroke="#000" stroke-width="1.6"/>
<path d="M342 2215.6 V2210.1 H750 V2215.6" fill="none" stroke="#000" stroke-width="2.4"/>
<text x="284.5" y="2238" font-size="20.3" text-anchor="end">Chr. 16</text>
<text x="333.7" y="2238" font-size="20.3" text-anchor="middle">53.29</text>
<text x="781.5" y="2238" font-size="20.3" text-anchor="end">54.09 Mb</text>
<path d="M541.59 1195.2 Q632.93 1109.7 724.27 1195.2" fill="none" stroke="#4DBBD5" stroke-width="2.3"/>
<path d="M541.59 1195.2 Q607 1152.84 672.4 1195.2" fill="none" stroke="#4DBBD5" stroke-width="2.3"/>
<path d="M541.59 1195.2 Q594.38 1173.96 647.16 1195.2" fill="none" stroke="#4DBBD5" stroke-width="2.3"/>
<path d="M541.59 1258.6 Q640.73 1173.9 739.87 1258.6" fill="none" stroke="#00A087" stroke-width="2.3"/>
<path d="M541.59 1258.6 Q604.7 1228.97 667.81 1258.6" fill="none" stroke="#00A087" stroke-width="2.3"/>
<path d="M541.59 1258.6 Q598.97 1236.32 656.34 1258.6" fill="none" stroke="#00A087" stroke-width="2.3"/>
<path d="M491.11 1322 Q516.35 1299.59 541.59 1322" fill="none" stroke="#3C5488" stroke-width="2.3"/>
<path d="M541.59 1322 Q604.7 1237.17 667.81 1322" fill="none" stroke="#3C5488" stroke-width="2.3"/>
<path d="M399.31 1448.8 Q470.45 1364.65 541.59 1448.8" fill="none" stroke="#8491B4" stroke-width="2.3"/>
<path d="M541.59 1448.8 Q604.7 1372.91 667.81 1448.8" fill="none" stroke="#8491B4" stroke-width="2.3"/>
<path d="M485.6 1448.8 Q513.6 1416.05 541.59 1448.8" fill="none" stroke="#8491B4" stroke-width="2.3"/>
<path d="M490.19 1448.8 Q515.89 1418.81 541.59 1448.8" fill="none" stroke="#8491B4" stroke-width="2.3"/>
<path d="M494.78 1448.8 Q518.19 1421.56 541.59 1448.8" fill="none" stroke="#8491B4" stroke-width="2.3"/>
<path d="M499.37 1448.8 Q520.48 1424.32 541.59 1448.8" fill="none" stroke="#8491B4" stroke-width="2.3"/>
<path d="M503.96 1448.8 Q522.78 1427.99 541.59 1448.8" fill="none" stroke="#8491B4" stroke-width="2.3"/>
<path d="M541.59 1512.2 Q594.38 1458.22 647.16 1512.2" fill="none" stroke="#91D1C2" stroke-width="2.3"/>
<path d="M541.59 1575.6 Q627.88 1492.12 714.17 1575.6" fill="none" stroke="#DC0000" stroke-width="2.3"/>
<path d="M541.59 1575.6 Q561.79 1553.63 581.99 1575.6" fill="none" stroke="#DC0000" stroke-width="2.3"/>
<line x1="545.7" y1="1079.4" x2="545.7" y2="1131.3" stroke="#000" stroke-width="1.7" stroke-dasharray="1.3 4.2 5.4 5 5.4 5 5.4 5 5.4 5 5.4 5"/>
<line x1="545.7" y1="1650.8" x2="545.7" y2="1702.7" stroke="#000" stroke-width="1.7" stroke-dasharray="1.3 4.2 5.4 5 5.4 5 5.4 5 5.4 5 5.4 5"/>
<line x1="545.7" y1="1142.8" x2="545.7" y2="1194.7" stroke="#000" stroke-width="1.7" stroke-dasharray="1.3 4.2 5.4 5 5.4 5 5.4 5 5.4 5 5.4 5"/>
<line x1="545.7" y1="1714.3" x2="545.7" y2="1766.2" stroke="#000" stroke-width="1.7" stroke-dasharray="1.3 4.2 5.4 5 5.4 5 5.4 5 5.4 5 5.4 5"/>
<line x1="545.7" y1="1206.2" x2="545.7" y2="1258.1" stroke="#000" stroke-width="1.7" stroke-dasharray="1.3 4.2 5.4 5 5.4 5 5.4 5 5.4 5 5.4 5"/>
<line x1="545.7" y1="1777.8" x2="545.7" y2="1829.7" stroke="#000" stroke-width="1.7" stroke-dasharray="1.3 4.2 5.4 5 5.4 5 5.4 5 5.4 5 5.4 5"/>
<line x1="545.7" y1="1269.6" x2="545.7" y2="1321.5" stroke="#000" stroke-width="1.7" stroke-dasharray="1.3 4.2 5.4 5 5.4 5 5.4 5 5.4 5 5.4 5"/>
<line x1="545.7" y1="1841.3" x2="545.7" y2="1893.2" stroke="#000" stroke-width="1.7" stroke-dasharray="1.3 4.2 5.4 5 5.4 5 5.4 5 5.4 5 5.4 5"/>
<line x1="545.7" y1="1333" x2="545.7" y2="1384.9" stroke="#000" stroke-width="1.7" stroke-dasharray="1.3 4.2 5.4 5 5.4 5 5.4 5 5.4 5 5.4 5"/>
<line x1="545.7" y1="1904.8" x2="545.7" y2="1956.7" stroke="#000" stroke-width="1.7" stroke-dasharray="1.3 4.2 5.4 5 5.4 5 5.4 5 5.4 5 5.4 5"/>
<line x1="545.7" y1="1396.4" x2="545.7" y2="1448.3" stroke="#000" stroke-width="1.7" stroke-dasharray="1.3 4.2 5.4 5 5.4 5 5.4 5 5.4 5 5.4 5"/>
<line x1="545.7" y1="1968.3" x2="545.7" y2="2020.2" stroke="#000" stroke-width="1.7" stroke-dasharray="1.3 4.2 5.4 5 5.4 5 5.4 5 5.4 5 5.4 5"/>
<line x1="545.7" y1="1459.8" x2="545.7" y2="1511.7" stroke="#000" stroke-width="1.7" stroke-dasharray="1.3 4.2 5.4 5 5.4 5 5.4 5 5.4 5 5.4 5"/>
<line x1="545.7" y1="2031.8" x2="545.7" y2="2083.7" stroke="#000" stroke-width="1.7" stroke-dasharray="1.3 4.2 5.4 5 5.4 5 5.4 5 5.4 5 5.4 5"/>
<line x1="545.7" y1="1523.2" x2="545.7" y2="1575.1" stroke="#000" stroke-width="1.7" stroke-dasharray="1.3 4.2 5.4 5 5.4 5 5.4 5 5.4 5 5.4 5"/>
<line x1="545.7" y1="2095.3" x2="545.7" y2="2147.2" stroke="#000" stroke-width="1.7" stroke-dasharray="1.3 4.2 5.4 5 5.4 5 5.4 5 5.4 5 5.4 5"/>
<line x1="545.7" y1="1586.6" x2="545.7" y2="1638.5" stroke="#000" stroke-width="1.7" stroke-dasharray="1.3 4.2 5.4 5 5.4 5 5.4 5 5.4 5 5.4 5"/>
<line x1="545.7" y1="2158.8" x2="545.7" y2="2210.7" stroke="#000" stroke-width="1.7" stroke-dasharray="1.3 4.2 5.4 5 5.4 5 5.4 5 5.4 5 5.4 5"/>
<line x1="546" y1="2239" x2="546" y2="2408" stroke="#000" stroke-width="1.6" stroke-dasharray="6 3"/>
<path d="M364.85 1702.8V1651.2M367.3 1702.8V1661.52M372.19 1702.8V1666.68M373.42 1702.8V1669.26M374.64 1702.8V1666.68M376.27 1702.8V1661.52M377.5 1702.8V1664.1M394.63 1702.8V1655.33M395.45 1702.8V1661.52M342 1702.8V1698.91M343.71 1702.8V1696.57M345.3 1702.8V1698.63M347.04 1702.8V1700.23M348.69 1702.8V1698.03M350.71 1702.8V1700.68M352.08 1702.8V1700.7M354.12 1702.8V1697.71M380.76 1702.8V1689.77M382.33 1702.8V1693.02M383.58 1702.8V1697.94M384.27 1702.8V1694.26M385.01 1702.8V1697.61M385.92 1702.8V1699.2M387.03 1702.8V1695.13M388.49 1702.8V1694.35M389.76 1702.8V1694.55M391.05 1702.8V1694.97M391.99 1702.8V1689.61M393.58 1702.8V1691.17M394.91 1702.8V1696.37M395.81 1702.8V1696.63M396.56 1702.8V1691.91M397.61 1702.8V1691.11M398.65 1702.8V1690.01M400.11 1702.8V1699.49M400.99 1702.8V1690.48M402.1 1702.8V1689.78M403.15 1702.8V1698.77M404.41 1702.8V1691.78M405.34 1702.8V1698.63M406.33 1702.8V1689.95M407.71 1702.8V1698.33M408.62 1702.8V1698.5M409.36 1702.8V1691.6M410.21 1702.8V1693.96M411.3 1702.8V1697.61M412.66 1702.8V1698.2M413.93 1702.8V1698.34M415 1702.8V1697.39M415.93 1702.8V1689.88M417.35 1702.8V1696.48M404.02 1702.8V1686.6M405.14 1702.8V1679.02M406.5 1702.8V1687.89M408.2 1702.8V1686.57M409.19 1702.8V1679.98M419.52 1702.8V1698.9M420.33 1702.8V1700.18M421.63 1702.8V1699.23M422.95 1702.8V1698.43M424.13 1702.8V1694.8M425.34 1702.8V1697.18M426.92 1702.8V1699.6M427.81 1702.8V1695.11M429.34 1702.8V1699.19M430.26 1702.8V1696.16M431.92 1702.8V1699.52M433.58 1702.8V1695.27M434.91 1702.8V1698.13M434.21 1702.8V1677M441.96 1702.8V1701.65M446.43 1702.8V1701.03M450.23 1702.8V1700.97M454.34 1702.8V1699.92M457.06 1702.8V1701.22M460.9 1702.8V1701.56M463.46 1702.8V1700.04M521.52 1702.8V1701.33M522.87 1702.8V1700.86M524.11 1702.8V1702.26M525.44 1702.8V1701.59M526.5 1702.8V1702.01M527.96 1702.8V1701.4M529.11 1702.8V1701.72M531.25 1702.8V1700.77M533.09 1702.8V1701.21M534.83 1702.8V1702.07M535.86 1702.8V1702.26M538.03 1702.8V1701.2M540.26 1702.8V1702.25M542.07 1702.8V1701.54M544 1702.8V1701.79M546.29 1702.8V1702.17M547.98 1702.8V1701.14M550.13 1702.8V1701.14M552.03 1702.8V1701.06M562.32 1702.8V1700.68M566.07 1702.8V1698.98M570.3 1702.8V1700.48M574.32 1702.8V1699.09M578.23 1702.8V1698.14M579.05 1702.8V1698.23M580.02 1702.8V1699.33M581.02 1702.8V1697.33M582.19 1702.8V1697.91M583.01 1702.8V1697.9M583.96 1702.8V1698.54M585.1 1702.8V1699.33M586.18 1702.8V1699.45M587.15 1702.8V1698.46M587.85 1702.8V1697.98M588.75 1702.8V1698.16M589.95 1702.8V1698.95M590.5 1702.8V1698.85M591.52 1702.8V1699.07M592.18 1702.8V1697.52M593.19 1702.8V1698.54M594.37 1702.8V1698.79M595.39 1702.8V1699.08M596.24 1702.8V1697.74M597.43 1702.8V1697.58M598.25 1702.8V1698.23M599.01 1702.8V1699.21M599.91 1702.8V1697.67M601.06 1702.8V1697.95M602.28 1702.8V1698.9M602.94 1702.8V1698.52M603.67 1702.8V1699.04M604.51 1702.8V1698.14M605.4 1702.8V1698.82M606.54 1702.8V1697.36M607.41 1702.8V1699.35M607.97 1702.8V1697.6M608.54 1702.8V1697.96M609.48 1702.8V1698.83M610.59 1702.8V1699.47M611.23 1702.8V1698.51M611.78 1702.8V1697.69M612.49 1702.8V1699.2M613.07 1702.8V1698.13M613.92 1702.8V1698.13M614.93 1702.8V1697.74M616.16 1702.8V1698.01M616.84 1702.8V1698.47M617.51 1702.8V1699.49M618.39 1702.8V1697.94M619.05 1702.8V1698.91M619.84 1702.8V1697.98M620.75 1702.8V1698.16M621.83 1702.8V1698.65M622.94 1702.8V1697.52M623.54 1702.8V1697.47M624.6 1702.8V1699.23M625.46 1702.8V1698.14M626.66 1702.8V1698.68M627.6 1702.8V1697.58M628.71 1702.8V1697.44M629.59 1702.8V1698.08M630.27 1702.8V1697.93M631.4 1702.8V1698.1M632.45 1702.8V1699.04M633.64 1702.8V1697.36M634.88 1702.8V1698.33M635.98 1702.8V1698.81M637.18 1702.8V1697.63M637.96 1702.8V1699.33M638.82 1702.8V1698.3M639.91 1702.8V1698.44M640.47 1702.8V1697.74M641.05 1702.8V1697.76M641.72 1702.8V1698.78M642.82 1702.8V1699.2M643.47 1702.8V1698.38M644.52 1702.8V1697.67M645.56 1702.8V1697.44M646.45 1702.8V1697.43M647.05 1702.8V1699.02M647.97 1702.8V1698.87M649.03 1702.8V1698.11M649.94 1702.8V1697.66M650.88 1702.8V1698.83M651.7 1702.8V1697.66M652.88 1702.8V1699.05M654.03 1702.8V1697.39M654.94 1702.8V1698.25M655.63 1702.8V1698.34M656.53 1702.8V1698.18M657.09 1702.8V1697.38M658 1702.8V1698.63M659.11 1702.8V1698.28M660 1702.8V1698M660.59 1702.8V1698.33M661.42 1702.8V1697.41M662.62 1702.8V1698.92M663.5 1702.8V1699.23M664.35 1702.8V1697.72M665.54 1702.8V1698.47M665.14 1702.8V1688.35M677.78 1702.8V1682.16M680.23 1702.8V1677M681.86 1702.8V1679.58M683.9 1702.8V1674.42M685.94 1702.8V1671.84M687.17 1702.8V1669.26M689.62 1702.8V1687.32M692.88 1702.8V1700.85M694.22 1702.8V1698.12M695.08 1702.8V1698.67M695.84 1702.8V1700.84M696.79 1702.8V1699.01M697.84 1702.8V1700.24M699.19 1702.8V1701.17M700.64 1702.8V1701.11M701.87 1702.8V1700.63M702.8 1702.8V1699.59M703.96 1702.8V1700.17M705.1 1702.8V1699.59M705.99 1702.8V1700.8M707.34 1702.8V1699.19M708.6 1702.8V1698.4M709.93 1702.8V1698.38M710.89 1702.8V1698.81M712.42 1702.8V1698.21M713.46 1702.8V1700.39M715.1 1702.8V1700.75M716.81 1702.8V1698.26M719.81 1702.8V1674.42M720.87 1702.8V1671.84M721.93 1702.8V1666.68M722.99 1702.8V1669.26M724.05 1702.8V1666.68M725.11 1702.8V1671.84M726.17 1702.8V1674.42M727.23 1702.8V1671.84M728.29 1702.8V1682.16M735.72 1702.8V1679.58" stroke="#E64B35" stroke-width="0.8" fill="none"/>
<path d="M346.08 1766.3V1763.46M347.53 1766.3V1763.36M348.36 1766.3V1760.53M349.5 1766.3V1760.74M350.36 1766.3V1762.65M351.77 1766.3V1764.56M352.7 1766.3V1761.27M354.32 1766.3V1759.85M355.17 1766.3V1762.14M356.65 1766.3V1762.16M358.05 1766.3V1763.71M358.86 1766.3V1764.12M359.63 1766.3V1761.92M360.87 1766.3V1761.83M361.74 1766.3V1763.73M362.68 1766.3V1760.49M364.38 1766.3V1760.06M365.21 1766.3V1764.34M367.3 1766.3V1754.95M372.6 1766.3V1755.98M374.23 1766.3V1755.98M376.27 1766.3V1748.24M382.8 1766.3V1755.98M388.51 1766.3V1760.11M366.48 1766.3V1762.85M367.96 1766.3V1763.44M369.15 1766.3V1762.62M370.31 1766.3V1762.25M371.06 1766.3V1761.82M372.62 1766.3V1764.07M373.8 1766.3V1761.65M374.93 1766.3V1764.01M375.83 1766.3V1762.63M376.57 1766.3V1760.98M378.09 1766.3V1761.8M379.67 1766.3V1762.13M380.8 1766.3V1762.26M382.03 1766.3V1760.6M383.55 1766.3V1763.74M385.18 1766.3V1761.63M386.68 1766.3V1761.32M387.81 1766.3V1760.97M389.4 1766.3V1761.84M390.89 1766.3V1761.54M392.02 1766.3V1761.72M392.82 1766.3V1763.37M394.02 1766.3V1764.81M395.04 1766.3V1765.4M399.52 1766.3V1765.77M405.06 1766.3V1765.37M408.61 1766.3V1765.38M412.91 1766.3V1765.5M416.63 1766.3V1765.06M421.18 1766.3V1765.34M426.11 1766.3V1765.08M428.63 1766.3V1765.42M433.49 1766.3V1765.75M443.18 1766.3V1714.7M444.41 1766.3V1719.86M445.63 1766.3V1725.02M446.86 1766.3V1730.18M454.2 1766.3V1730.18M455.83 1766.3V1737.92M457.46 1766.3V1740.5M459.1 1766.3V1737.92M461.54 1766.3V1725.02M466.44 1766.3V1735.34M525.6 1766.3V1765.29M526.15 1766.3V1765.32M527.23 1766.3V1765.26M528.06 1766.3V1765.17M528.92 1766.3V1765.17M529.82 1766.3V1765.2M530.36 1766.3V1765.25M531.35 1766.3V1765.36M532.44 1766.3V1765.34M533.24 1766.3V1765.34M534.05 1766.3V1765.25M534.58 1766.3V1765.18M535.35 1766.3V1765.26M536.23 1766.3V1765.3M536.9 1766.3V1765.24M537.76 1766.3V1765.31M538.72 1766.3V1765.31M539.21 1766.3V1765.32M539.73 1766.3V1765.34M540.71 1766.3V1765.29M541.79 1766.3V1765.22M542.31 1766.3V1765.17M543.42 1766.3V1765.36M554.16 1766.3V1763.47M555.76 1766.3V1761.45M557.06 1766.3V1763.12M559.26 1766.3V1762.38M560.85 1766.3V1761.43M562.9 1766.3V1762.82M564.03 1766.3V1762.74M565.6 1766.3V1764.3M566.65 1766.3V1763.1M567.79 1766.3V1763.42M569.64 1766.3V1763.37M570.96 1766.3V1762.9M572.49 1766.3V1762.17M574.16 1766.3V1761.36M576.39 1766.3V1762.33M577.68 1766.3V1764.64M619.44 1766.3V1748.24M621.89 1766.3V1753.4M665.14 1766.3V1740.5M677.78 1766.3V1737.92M680.23 1766.3V1737.92M681.86 1766.3V1737.92M683.9 1766.3V1740.5M685.94 1766.3V1737.92M687.17 1766.3V1740.5M689.62 1766.3V1755.98M692.88 1766.3V1762.15M694.23 1766.3V1763.73M695.23 1766.3V1762.52M696.51 1766.3V1762.86M697.87 1766.3V1762.26M698.79 1766.3V1764.14M700.48 1766.3V1761.66M702.08 1766.3V1764.91M702.87 1766.3V1764.06M704.02 1766.3V1762.75M704.86 1766.3V1763.05M705.66 1766.3V1764.74M707.06 1766.3V1763.02M708.41 1766.3V1763.68M709.61 1766.3V1764.28M710.69 1766.3V1762.29M712.24 1766.3V1764.79M713.09 1766.3V1762.06M714.44 1766.3V1762.21M715.38 1766.3V1763.49M716.37 1766.3V1762.05M719.81 1766.3V1737.92M720.87 1766.3V1735.34M721.93 1766.3V1737.92M722.99 1766.3V1737.92M724.05 1766.3V1737.92M725.11 1766.3V1737.92M726.17 1766.3V1740.5M727.23 1766.3V1760.11M728.29 1766.3V1760.11M728.38 1766.3V1760.82M729.51 1766.3V1761.5M730.36 1766.3V1760.63M731.45 1766.3V1761.29M732.18 1766.3V1761.97M733.24 1766.3V1762.01M733.79 1766.3V1761.01M734.59 1766.3V1760.76M735.28 1766.3V1760.57M735.72 1766.3V1748.24" stroke="#4DBBD5" stroke-width="0.8" fill="none"/>
<path d="M346.08 1829.8V1829.12M347.92 1829.8V1829.29M349.3 1829.8V1828.49M351.18 1829.8V1829.04M352.35 1829.8V1828.94M364.85 1829.8V1780.78M367.3 1829.8V1788.52M372.19 1829.8V1798.84M373.42 1829.8V1796.26M374.64 1829.8V1793.68M376.27 1829.8V1785.94M377.5 1829.8V1791.1M378.72 1829.8V1827.63M380.14 1829.8V1826.57M382.29 1829.8V1825.92M385.05 1829.8V1825.94M386.99 1829.8V1826.28M388.71 1829.8V1827.78M390.58 1829.8V1825.87M393.27 1829.8V1828M395.08 1829.8V1827.64M396.9 1829.8V1827.54M398.75 1829.8V1828.16M400.9 1829.8V1826.3M403.01 1829.8V1826.18M405.15 1829.8V1828.22M407.61 1829.8V1826.04M409.29 1829.8V1828.7M411.36 1829.8V1827.08M413.51 1829.8V1825.78M415.8 1829.8V1826.28M417.12 1829.8V1827.08M419.63 1829.8V1828.51M420.99 1829.8V1826.49M423.68 1829.8V1828.51M425.94 1829.8V1828.32M428.38 1829.8V1826.76M430.01 1829.8V1828.09M432.48 1829.8V1827.15M434.95 1829.8V1827.55M436.73 1829.8V1825.77M439.05 1829.8V1827.24M441.15 1829.8V1826.54M443.18 1829.8V1778.2M444.41 1829.8V1788.52M445.63 1829.8V1793.68M446.86 1829.8V1798.84M454.2 1829.8V1796.26M455.83 1829.8V1793.68M457.46 1829.8V1793.68M459.1 1829.8V1791.1M461.54 1829.8V1780.78M466.44 1829.8V1798.84M517.44 1829.8V1825.94M518.96 1829.8V1826.21M520.8 1829.8V1826.13M522.84 1829.8V1826.19M524.98 1829.8V1825.8M526.79 1829.8V1827.15M528.7 1829.8V1826.28M530.23 1829.8V1827.47M531.4 1829.8V1826.47M533.67 1829.8V1827.61M534.87 1829.8V1828.14M536.4 1829.8V1827.86M538.65 1829.8V1828.58M540.03 1829.8V1828.41M541.85 1829.8V1826.37M543.07 1829.8V1828.57M544.65 1829.8V1826.96M546.81 1829.8V1828.66M547.93 1829.8V1828.2M549.2 1829.8V1828.04M551.11 1829.8V1826.93M552.38 1829.8V1828.2M553.73 1829.8V1828.23M555.7 1829.8V1827.8M557.39 1829.8V1826.24M559 1829.8V1827.96M561.14 1829.8V1825.94M562.56 1829.8V1827.07M564.79 1829.8V1827.27M566.06 1829.8V1828.61M568.27 1829.8V1826.29M569.76 1829.8V1827.13M571.41 1829.8V1827.92M573.68 1829.8V1826.73M574.97 1829.8V1828.73M576.57 1829.8V1827.62M578.59 1829.8V1826.56M562.32 1829.8V1827.37M563.21 1829.8V1826.55M564.2 1829.8V1823.84M565.44 1829.8V1824.99M567.14 1829.8V1826.83M568.4 1829.8V1827.4M569.89 1829.8V1828.14M571.43 1829.8V1823.96M572.97 1829.8V1827.74M573.97 1829.8V1824.6M574.8 1829.8V1825.77M575.99 1829.8V1823.42M577.3 1829.8V1823.9M578.33 1829.8V1824.24M619.44 1829.8V1806.58M621.89 1829.8V1806.58M665.14 1829.8V1791.1M677.78 1829.8V1785.94M680.23 1829.8V1793.68M681.86 1829.8V1793.68M683.9 1829.8V1796.26M685.94 1829.8V1788.52M687.17 1829.8V1783.36M689.62 1829.8V1798.84M691.25 1829.8V1797.55M692.55 1829.8V1811.43M693.86 1829.8V1802.43M695.16 1829.8V1812.12M696.47 1829.8V1809.31M697.78 1829.8V1811M699.08 1829.8V1816.25M700.39 1829.8V1811.09M701.69 1829.8V1817.26M703 1829.8V1818.55M704.3 1829.8V1821.43M705.12 1829.8V1826.63M706.11 1829.8V1824.61M707.02 1829.8V1824.75M707.72 1829.8V1826.2M708.71 1829.8V1823.36M709.99 1829.8V1824.91M710.62 1829.8V1826.28M711.81 1829.8V1826.97M712.88 1829.8V1825.88M713.5 1829.8V1823.24M714.77 1829.8V1827.12M715.88 1829.8V1826.71M716.8 1829.8V1825.48M717.65 1829.8V1826.48M718.59 1829.8V1824.85M719.81 1829.8V1791.1M720.87 1829.8V1788.52M721.93 1829.8V1791.1M722.99 1829.8V1793.68M724.05 1829.8V1796.26M725.11 1829.8V1793.68M726.17 1829.8V1796.26M727.23 1829.8V1798.84M728.29 1829.8V1814.32M735.72 1829.8V1796.26" stroke="#00A087" stroke-width="0.8" fill="none"/>
<path d="M350.16 1893.3V1891.98M351.61 1893.3V1891.66M353.27 1893.3V1891.08M364.85 1893.3V1841.7M367.3 1893.3V1849.44M372.19 1893.3V1852.02M373.42 1893.3V1859.76M374.64 1893.3V1862.34M376.27 1893.3V1849.44M377.5 1893.3V1852.02M378.72 1893.3V1891.24M380.78 1893.3V1891.98M381.94 1893.3V1891.98M383.81 1893.3V1890.08M385.02 1893.3V1891.02M387.09 1893.3V1890.43M388.19 1893.3V1891.57M389.37 1893.3V1891.88M390.88 1893.3V1892.04M393.06 1893.3V1890.95M394.71 1893.3V1890.26M396.69 1893.3V1889.73M398.18 1893.3V1891.24M390.14 1893.3V1888.14M395.04 1893.3V1882.98M401.16 1893.3V1889.17M434.21 1893.3V1885.56M403.2 1893.3V1892.87M407.71 1893.3V1892.02M414.49 1893.3V1891.91M420.01 1893.3V1892.13M423.02 1893.3V1892.48M427.3 1893.3V1892.08M430.66 1893.3V1892.42M443.18 1893.3V1883.14M444.21 1893.3V1884.31M444.81 1893.3V1883.28M445.88 1893.3V1884.73M446.6 1893.3V1885.04M447.19 1893.3V1883.63M448.32 1893.3V1884.94M449.28 1893.3V1882.83M449.89 1893.3V1882.11M450.79 1893.3V1887.04M451.34 1893.3V1886.73M452.2 1893.3V1883.74M452.91 1893.3V1882.21M453.63 1893.3V1885.29M454.2 1893.3V1881.92M454.78 1893.3V1882.38M455.63 1893.3V1884.64M456.48 1893.3V1886.6M457.57 1893.3V1881.79M458.59 1893.3V1884.37M459.16 1893.3V1882.9M459.84 1893.3V1882.42M460.48 1893.3V1884.56M443.18 1893.3V1872.66M444.41 1893.3V1875.24M445.63 1893.3V1877.82M454.2 1893.3V1877.82M459.1 1893.3V1867.5M461.54 1893.3V1852.02M466.44 1893.3V1880.4M517.44 1893.3V1891.69M521.25 1893.3V1892.03M523.55 1893.3V1891.71M528.65 1893.3V1889.36M532.79 1893.3V1891.32M536.96 1893.3V1889.98M540.29 1893.3V1890.44M544.85 1893.3V1892.22M547.64 1893.3V1890.82M550.27 1893.3V1891.07M554.14 1893.3V1891.73M557.87 1893.3V1891.45M561.74 1893.3V1891.24M565.83 1893.3V1892.15M570.01 1893.3V1891.82M575.03 1893.3V1890.41M578.61 1893.3V1890.99M517.44 1893.3V1892.66M518.42 1893.3V1892.65M519.23 1893.3V1892.62M520.27 1893.3V1892.64M521.02 1893.3V1892.69M521.88 1893.3V1892.63M522.72 1893.3V1892.68M523.49 1893.3V1892.63M524.19 1893.3V1892.74M525.15 1893.3V1892.63M526.12 1893.3V1892.67M527.1 1893.3V1892.7M527.98 1893.3V1892.73M528.55 1893.3V1892.69M529.36 1893.3V1892.69M529.89 1893.3V1892.66M530.72 1893.3V1892.71M531.41 1893.3V1892.69M532.05 1893.3V1892.73M533.14 1893.3V1892.62M534.06 1893.3V1892.64M534.83 1893.3V1892.64M535.46 1893.3V1892.65M536.32 1893.3V1892.63M536.88 1893.3V1892.64M537.45 1893.3V1892.68M538.56 1893.3V1892.74M539.2 1893.3V1892.71M539.91 1893.3V1892.73M540.98 1893.3V1892.64M541.73 1893.3V1892.7M542.6 1893.3V1892.74M543.11 1893.3V1892.63M543.8 1893.3V1892.68M544.9 1893.3V1892.62M545.7 1893.3V1892.72M546.38 1893.3V1892.63M547.46 1893.3V1892.72M548.49 1893.3V1892.7M549.29 1893.3V1892.72M550.35 1893.3V1892.62M550.98 1893.3V1892.66M551.59 1893.3V1892.63M552.11 1893.3V1892.73M553.08 1893.3V1892.7M554.15 1893.3V1892.64M555.11 1893.3V1892.73M556.05 1893.3V1892.63M556.83 1893.3V1892.73M557.47 1893.3V1892.7M558.42 1893.3V1892.72M559.03 1893.3V1892.71M559.95 1893.3V1892.64M560.69 1893.3V1892.66M561.75 1893.3V1892.67M562.39 1893.3V1892.71M563.49 1893.3V1892.66M564.16 1893.3V1892.66M564.71 1893.3V1892.62M565.48 1893.3V1892.68M566.32 1893.3V1892.74M567.2 1893.3V1892.71M567.85 1893.3V1892.64M568.4 1893.3V1892.71M569.38 1893.3V1892.71M570.05 1893.3V1892.67M570.67 1893.3V1892.63M571.8 1893.3V1892.74M572.59 1893.3V1892.65M573.33 1893.3V1892.63M574.15 1893.3V1892.72M575 1893.3V1892.66M575.72 1893.3V1892.66M576.72 1893.3V1892.68M577.54 1893.3V1892.64M578.48 1893.3V1892.68M619.44 1893.3V1884.01M621.89 1893.3V1882.98M665.14 1893.3V1867.5M677.78 1893.3V1862.34M680.23 1893.3V1864.92M681.86 1893.3V1862.34M683.9 1893.3V1867.5M685.94 1893.3V1859.76M687.17 1893.3V1857.18M689.62 1893.3V1882.98M696.96 1893.3V1891.42M698.96 1893.3V1891.45M700.73 1893.3V1891.19M702.28 1893.3V1889.19M704.29 1893.3V1889.12M705.58 1893.3V1890.24M706.85 1893.3V1889.91M708.48 1893.3V1891.93M710.23 1893.3V1889.41M711.96 1893.3V1888.82M713.18 1893.3V1891.5M714.18 1893.3V1890.22M715.73 1893.3V1890.42M717.05 1893.3V1889.09M718.12 1893.3V1888.69M719.81 1893.3V1859.76M720.87 1893.3V1862.34M721.93 1893.3V1862.34M722.99 1893.3V1864.92M724.05 1893.3V1862.34M725.11 1893.3V1864.92M726.17 1893.3V1862.34M727.23 1893.3V1864.92M728.29 1893.3V1888.14M735.72 1893.3V1864.92M736.54 1893.3V1888.96M737.54 1893.3V1890.47M738.13 1893.3V1890.11" stroke="#3C5488" stroke-width="0.8" fill="none"/>
<path d="M342 1956.8V1954.79M343.34 1956.8V1954.14M344.34 1956.8V1953.95M345.16 1956.8V1953.23M346.06 1956.8V1954.98M346.95 1956.8V1953.63M348.5 1956.8V1953.33M349.29 1956.8V1954.5M350.38 1956.8V1955.1M352.07 1956.8V1955.64M353.28 1956.8V1953.41M364.85 1956.8V1905.2M367.3 1956.8V1910.36M372.19 1956.8V1920.68M373.42 1956.8V1918.1M374.64 1956.8V1915.52M376.27 1956.8V1910.36M377.5 1956.8V1912.94M378.72 1956.8V1955.91M381.08 1956.8V1954.8M382.63 1956.8V1955.73M385.84 1956.8V1955.92M388.08 1956.8V1955.63M390.38 1956.8V1956.04M391.91 1956.8V1954.33M394.88 1956.8V1954.82M396.79 1956.8V1955.71M399.34 1956.8V1955.73M401.72 1956.8V1954.45M403.9 1956.8V1955.55M407.29 1956.8V1955.05M408.84 1956.8V1955.43M411.58 1956.8V1956.07M413.72 1956.8V1954.89M416.88 1956.8V1955.08M420.08 1956.8V1955.32M422.32 1956.8V1954.61M424.54 1956.8V1954.73M426.43 1956.8V1955.54M428.26 1956.8V1955.16M430.05 1956.8V1955.8M431.94 1956.8V1955.31M434.01 1956.8V1955.35M437.42 1956.8V1954.92M441.96 1956.8V1954.14M442.88 1956.8V1954.79M444.06 1956.8V1953.35M444.9 1956.8V1955.06M445.66 1956.8V1953.85M446.59 1956.8V1950.57M447.79 1956.8V1953.82M448.69 1956.8V1954.39M450.07 1956.8V1953.37M451.31 1956.8V1951.57M452.66 1956.8V1955.05M453.53 1956.8V1953.24M454.21 1956.8V1950.78M455.09 1956.8V1951.33M456.13 1956.8V1954.88M457.06 1956.8V1953.97M457.7 1956.8V1954.4M458.8 1956.8V1954.99M459.67 1956.8V1953.05M460.72 1956.8V1954.48M461.91 1956.8V1953.86M463.12 1956.8V1951.85M463.85 1956.8V1954.13M464.69 1956.8V1951.62M465.63 1956.8V1953.23M461.54 1956.8V1943.9M517.44 1956.8V1956.11M519.14 1956.8V1955.96M520.72 1956.8V1956.34M521.98 1956.8V1955.61M524.13 1956.8V1955.39M526.94 1956.8V1956.02M529.26 1956.8V1955.25M530.84 1956.8V1955.53M533.15 1956.8V1955.2M535.79 1956.8V1956.1M538.05 1956.8V1956.28M539.97 1956.8V1955.9M541.29 1956.8V1955.91M543.05 1956.8V1955.77M544.73 1956.8V1956.19M554.16 1956.8V1955.3M555.66 1956.8V1954.95M557.27 1956.8V1956.01M559.05 1956.8V1955.4M560.52 1956.8V1955.1M562.89 1956.8V1955.15M565.26 1956.8V1956.14M567.12 1956.8V1955.5M568.45 1956.8V1955.43M569.76 1956.8V1955.26M571.94 1956.8V1955.31M573.7 1956.8V1955.71M574.96 1956.8V1955.54M577.64 1956.8V1955.13M578.23 1956.8V1951.21M578.9 1956.8V1951.72M579.88 1956.8V1950.47M580.68 1956.8V1951.44M581.9 1956.8V1950.94M582.89 1956.8V1951.33M583.72 1956.8V1951.86M584.46 1956.8V1950.79M585.63 1956.8V1951.94M586.82 1956.8V1952.83M587.46 1956.8V1951.62M588.22 1956.8V1952M589.46 1956.8V1952.54M590.13 1956.8V1952.34M591.16 1956.8V1952.32M591.7 1956.8V1951.53M592.52 1956.8V1952.31M593.41 1956.8V1951.25M594.35 1956.8V1951.32M595.29 1956.8V1950.79M596.52 1956.8V1952.07M597.31 1956.8V1950.64M598.07 1956.8V1951.08M599.11 1956.8V1951.16M600.34 1956.8V1950.8M600.99 1956.8V1951.33M601.89 1956.8V1951.48M602.69 1956.8V1952.19M603.77 1956.8V1951.55M604.47 1956.8V1952.29M605.25 1956.8V1952.47M606.15 1956.8V1952.6M606.74 1956.8V1952.75M607.35 1956.8V1951.11M607.97 1956.8V1951.76M609.06 1956.8V1951.69M609.72 1956.8V1950.69M610.88 1956.8V1952.79M611.6 1956.8V1951.62M612.71 1956.8V1951.92M613.76 1956.8V1952.28M614.82 1956.8V1952.09M615.6 1956.8V1950.97M616.74 1956.8V1950.79M617.69 1956.8V1951.84M618.73 1956.8V1951.32M619.87 1956.8V1950.86M620.5 1956.8V1951.96M621.51 1956.8V1952.33M665.14 1956.8V1931M677.78 1956.8V1928.42M680.23 1956.8V1925.84M681.86 1956.8V1925.84M683.9 1956.8V1928.42M685.94 1956.8V1923.26M687.17 1956.8V1923.26M689.62 1956.8V1946.48M692.88 1956.8V1955.73M694.19 1956.8V1952.85M695.87 1956.8V1955.35M697.28 1956.8V1954.47M698.63 1956.8V1954.54M700.28 1956.8V1952.71M701.06 1956.8V1953.56M701.91 1956.8V1955.64M702.93 1956.8V1953.5M704.64 1956.8V1955.4M705.69 1956.8V1955.69M706.96 1956.8V1954.27M708.06 1956.8V1954.81M709.58 1956.8V1953.17M710.59 1956.8V1954.56M711.93 1956.8V1953.4M713.62 1956.8V1954.56M715.04 1956.8V1954.08M716.56 1956.8V1955.31M717.46 1956.8V1955.44M719.11 1956.8V1954.99M719.81 1956.8V1925.84M720.87 1956.8V1923.26M721.93 1956.8V1925.84M722.99 1956.8V1925.84M724.05 1956.8V1928.42M725.11 1956.8V1925.84M726.17 1956.8V1928.42M727.23 1956.8V1931M728.29 1956.8V1951.64M735.72 1956.8V1928.42M736.54 1956.8V1955.11M737.24 1956.8V1955.49M738.1 1956.8V1955.03M738.99 1956.8V1954.54M739.63 1956.8V1953.77" stroke="#F39B7F" stroke-width="0.8" fill="none"/>
<path d="M342 2020.3V2017.36M343.05 2020.3V2018.33M345.19 2020.3V2017.12M346.27 2020.3V2017.74M347.88 2020.3V2013.71M349.13 2020.3V2014.35M350.74 2020.3V2016.6M352.77 2020.3V2016.69M353.82 2020.3V2015.92M364.85 2020.3V1968.7M367.3 2020.3V1984.18M372.19 2020.3V1989.34M373.42 2020.3V1986.76M374.64 2020.3V1984.18M376.27 2020.3V1979.02M377.5 2020.3V1989.34M378.72 2020.3V2014.38M379.66 2020.3V2012.42M381.13 2020.3V2012.08M382.22 2020.3V2013.07M383.57 2020.3V2017.15M384.28 2020.3V2017.19M385.08 2020.3V2017.77M386.09 2020.3V2013.57M387.06 2020.3V2015.05M387.75 2020.3V2016.93M389.32 2020.3V2018.17M390.48 2020.3V2013.22M391.89 2020.3V2013.68M392.94 2020.3V2013.26M394.39 2020.3V2013.48M395.97 2020.3V2017.61M397.53 2020.3V2015.75M398.86 2020.3V2016.68M400.37 2020.3V2018.09M401.59 2020.3V2016.83M402.63 2020.3V2015.95M403.91 2020.3V2013.22M404.93 2020.3V2014.29M405.94 2020.3V2016.51M407.45 2020.3V2016.24M408.22 2020.3V2016.16M394.63 2020.3V1972.83M395.45 2020.3V1984.18M409.32 2020.3V2018.95M412.73 2020.3V2018.12M416 2020.3V2019.04M417.95 2020.3V2019.12M420.47 2020.3V2018.41M422.2 2020.3V2018.23M424.84 2020.3V2018.68M427.78 2020.3V2017.12M429.96 2020.3V2017.29M432.41 2020.3V2017.61M434.37 2020.3V2017.03M437.07 2020.3V2017.09M439.28 2020.3V2018.46M442.61 2020.3V2019.03M444.95 2020.3V2017.8M448.82 2020.3V2018.68M450.96 2020.3V2018.59M454.93 2020.3V2019.11M458.1 2020.3V2018.54M461.28 2020.3V2018.95M464.4 2020.3V2017.28M468.07 2020.3V2017.92M513.36 2020.3V2017.51M515.33 2020.3V2016.68M518.62 2020.3V2017.86M521.86 2020.3V2017.97M524.45 2020.3V2018.56M527.54 2020.3V2017.49M530.43 2020.3V2019.17M533.57 2020.3V2017.88M536.64 2020.3V2017.43M540.49 2020.3V2018.8M543.27 2020.3V2016.19M546.67 2020.3V2018.3M550.07 2020.3V2016.2M552.7 2020.3V2016.58M554.7 2020.3V2016.2M557.54 2020.3V2018.54M561.17 2020.3V2017.26M565.03 2020.3V2016.7M568.44 2020.3V2016.11M569.81 2020.3V2018.33M571.08 2020.3V2015.12M571.86 2020.3V2014.65M572.8 2020.3V2015.99M574.07 2020.3V2017.68M574.87 2020.3V2015.46M575.52 2020.3V2015.9M576.72 2020.3V2016.22M577.5 2020.3V2014.69M578.76 2020.3V2014.83M579.78 2020.3V2014.16M580.99 2020.3V2017.9M581.86 2020.3V2018.15M582.48 2020.3V2016.94M583.74 2020.3V2014.52M584.42 2020.3V2017.75M585.31 2020.3V2014.44M586.39 2020.3V2014.18M587.03 2020.3V2013.76M587.78 2020.3V2015.53M589.05 2020.3V2015.04M589.79 2020.3V2015.34M590.72 2020.3V2018.57M591.57 2020.3V2017.09M592.65 2020.3V2017.27M593.71 2020.3V2015.21M594.44 2020.3V2018.01M595.57 2020.3V2016.34M596.26 2020.3V2018.07M597.59 2020.3V2015.63M598.45 2020.3V2017.68M599.82 2020.3V2015.22M600.99 2020.3V2016.86M601.82 2020.3V2016.63M602.52 2020.3V2015.52M603.44 2020.3V2014.59M604.35 2020.3V2016.39M605.33 2020.3V2013.98M606.19 2020.3V2015.16M606.96 2020.3V2015.78M607.77 2020.3V2014.33M608.58 2020.3V2014.42M609.7 2020.3V2016.4M611.02 2020.3V2016.73M612.19 2020.3V2015.67M613.13 2020.3V2018.33M614.04 2020.3V2017.26M614.98 2020.3V2013.92M615.79 2020.3V2015.21M616.91 2020.3V2017.44M617.82 2020.3V2017.99M619.11 2020.3V2017.4M620.02 2020.3V2016.96M621.26 2020.3V2014.44M665.14 2020.3V2002.24M677.78 2020.3V1999.66M680.23 2020.3V2002.24M681.86 2020.3V1999.66M683.9 2020.3V1999.66M685.94 2020.3V1989.34M687.17 2020.3V1981.6M689.62 2020.3V2009.98M692.88 2020.3V2017.58M693.99 2020.3V2016.49M695.08 2020.3V2018.14M696.55 2020.3V2017.03M698.4 2020.3V2018.2M700.56 2020.3V2016.33M701.57 2020.3V2017.31M703.16 2020.3V2018.15M704.74 2020.3V2018.29M706.6 2020.3V2017.39M708.84 2020.3V2016.24M711.12 2020.3V2018.04M713.18 2020.3V2017.26M715.08 2020.3V2016.18M716.14 2020.3V2017.84M717.64 2020.3V2017.24M718.91 2020.3V2016.2M719.81 2020.3V1994.5M720.87 2020.3V1989.34M721.93 2020.3V1991.92M722.99 2020.3V1989.34M724.05 2020.3V1994.5M725.11 2020.3V1989.34M726.17 2020.3V1991.92M727.23 2020.3V2004.82M728.29 2020.3V2015.14M735.72 2020.3V1994.5" stroke="#8491B4" stroke-width="0.8" fill="none"/>
<path d="M342 2083.8V2080.32M343.17 2083.8V2080.19M345.11 2083.8V2081.73M346.31 2083.8V2078.93M348.1 2083.8V2078.47M349.41 2083.8V2078.13M351.35 2083.8V2078.3M352.48 2083.8V2079.83M353.48 2083.8V2077.89M364.85 2083.8V2032.2M367.3 2083.8V2034.78M372.19 2083.8V2042.52M373.42 2083.8V2039.94M374.64 2083.8V2037.36M376.27 2083.8V2034.78M377.5 2083.8V2037.36M378.72 2083.8V2078.47M379.48 2083.8V2080.83M380.74 2083.8V2080.04M381.58 2083.8V2078.93M382.61 2083.8V2080.16M383.47 2083.8V2079.89M384.33 2083.8V2081.97M385.56 2083.8V2081.08M387.06 2083.8V2081.29M388.2 2083.8V2082.12M389.15 2083.8V2080.4M390.43 2083.8V2080.36M392 2083.8V2081.9M393.56 2083.8V2081.68M395.25 2083.8V2080.08M396.38 2083.8V2079.7M397.96 2083.8V2078.18M399.1 2083.8V2082.31M399.98 2083.8V2078.81M401.44 2083.8V2079.27M402.32 2083.8V2080.05M403.09 2083.8V2081.88M404.12 2083.8V2078.17M405.48 2083.8V2078.68M406.26 2083.8V2080.55M407.07 2083.8V2081.22M407.91 2083.8V2078.37M408.97 2083.8V2080.24M410.35 2083.8V2078.51M412.01 2083.8V2079.89M413.23 2083.8V2078.44M414.35 2083.8V2081.06M415.81 2083.8V2081.24M416.91 2083.8V2080.49M418.11 2083.8V2080.8M419.26 2083.8V2080.4M420.05 2083.8V2078.73M420.84 2083.8V2080.07M422.11 2083.8V2080.62M423.06 2083.8V2081.93M424.16 2083.8V2080.99M425.37 2083.8V2081.36M426.84 2083.8V2080.24M427.58 2083.8V2080.59M429.26 2083.8V2082.32M430.58 2083.8V2078.19M431.67 2083.8V2079.76M432.77 2083.8V2081.05M434.1 2083.8V2079.8M435.14 2083.8V2080.2M436.38 2083.8V2079.09M437.17 2083.8V2081.95M438.15 2083.8V2081.18M439.66 2083.8V2080.51M441.24 2083.8V2080.61M441.96 2083.8V2077.53M442.64 2083.8V2075.64M443.93 2083.8V2079.7M444.8 2083.8V2076.66M446.06 2083.8V2077.76M446.72 2083.8V2077.01M447.37 2083.8V2077.87M448.43 2083.8V2075.99M449.56 2083.8V2081.6M450.94 2083.8V2077.08M452.02 2083.8V2081.7M453.24 2083.8V2079.15M454.4 2083.8V2075.64M455.76 2083.8V2081.27M457.01 2083.8V2079.01M458.24 2083.8V2079.4M459.22 2083.8V2079.03M459.92 2083.8V2079.76M461.14 2083.8V2081.29M461.84 2083.8V2076.57M463 2083.8V2078.34M463.7 2083.8V2081M464.57 2083.8V2075.83M465.64 2083.8V2076.03M466.42 2083.8V2079.17M443.18 2083.8V2068.32M461.54 2083.8V2065.74M517.44 2083.8V2080.9M518.87 2083.8V2080.81M520.86 2083.8V2082.9M522.79 2083.8V2082.04M525.11 2083.8V2080.68M527.14 2083.8V2081.27M529 2083.8V2081.05M530.4 2083.8V2081.14M531.89 2083.8V2081.52M533.45 2083.8V2082.12M534.94 2083.8V2082.11M537.13 2083.8V2081.69M538.98 2083.8V2081.55M541.58 2083.8V2082.09M543.76 2083.8V2081.78M546.58 2083.8V2082.16M548.95 2083.8V2082.4M550.6 2083.8V2081.17M552.76 2083.8V2082.34M554.09 2083.8V2080.93M555.93 2083.8V2081.2M557.86 2083.8V2081.44M560 2083.8V2080.56M562.7 2083.8V2081.85M564.72 2083.8V2082.4M567.18 2083.8V2082.72M568.9 2083.8V2080.88M570.18 2083.8V2081.24M572.33 2083.8V2081.61M574.1 2083.8V2082.6M576.88 2083.8V2081.08M619.44 2083.8V2065.74M621.89 2083.8V2065.74M665.14 2083.8V2034.78M677.78 2083.8V2042.52M680.23 2083.8V2045.1M681.86 2083.8V2042.52M683.9 2083.8V2047.68M685.94 2083.8V2039.94M687.17 2083.8V2039.94M689.62 2083.8V2068.32M692.88 2083.8V2082.2M694.38 2083.8V2081.75M695.31 2083.8V2080.57M696.64 2083.8V2082.11M698.13 2083.8V2080.4M699.74 2083.8V2079.13M701.15 2083.8V2081.21M702.82 2083.8V2079.89M703.84 2083.8V2079.38M705.28 2083.8V2081.58M706.26 2083.8V2082.49M707.52 2083.8V2081.62M708.54 2083.8V2081.62M709.41 2083.8V2080.76M710.41 2083.8V2081.5M711.41 2083.8V2080.67M713 2083.8V2081.97M714.58 2083.8V2079.39M715.91 2083.8V2080.54M717.36 2083.8V2080.58M718.74 2083.8V2079.15M719.81 2083.8V2045.1M720.87 2083.8V2042.52M721.93 2083.8V2039.94M722.99 2083.8V2042.52M724.05 2083.8V2042.52M725.11 2083.8V2039.94M726.17 2083.8V2042.52M727.23 2083.8V2068.32M728.29 2083.8V2078.64M735.72 2083.8V2034.78" stroke="#91D1C2" stroke-width="0.8" fill="none"/>
<path d="M364.85 2147.3V2098.28M367.3 2147.3V2106.02M372.19 2147.3V2121.5M373.42 2147.3V2118.92M374.64 2147.3V2116.34M376.27 2147.3V2111.18M377.5 2147.3V2116.34M377.9 2147.3V2134.05M378.72 2147.3V2137.22M379.54 2147.3V2132.11M380.35 2147.3V2137.83M381.17 2147.3V2137.22M381.98 2147.3V2141.52M388.92 2147.3V2141.67M391.19 2147.3V2141.42M394.61 2147.3V2141.62M397.28 2147.3V2141.76M399.27 2147.3V2141.22M401.01 2147.3V2141.22M403.85 2147.3V2142.01M407.2 2147.3V2141.99M409.86 2147.3V2141.97M413.38 2147.3V2141.8M416.66 2147.3V2142.02M419.53 2147.3V2142.02M421.1 2147.3V2141.56M424.61 2147.3V2141.46M427.86 2147.3V2141.37M430.43 2147.3V2142.01M433.02 2147.3V2141.91M442.37 2147.3V2141.29M443.18 2147.3V2141.48M444.13 2147.3V2141.21M444.94 2147.3V2141.63M445.75 2147.3V2141.04M452.98 2147.3V2141.03M453.99 2147.3V2141.36M455.23 2147.3V2140.86M457.16 2147.3V2140.52M459.1 2147.3V2140.58M515.4 2147.3V2143.89M515.7 2147.3V2143.95M516.23 2147.3V2143.92M516.76 2147.3V2143.93M517.42 2147.3V2144M517.92 2147.3V2143.88M518.22 2147.3V2144M518.86 2147.3V2143.88M519.16 2147.3V2144.01M519.78 2147.3V2143.92M520.28 2147.3V2143.94M520.87 2147.3V2143.9M521.16 2147.3V2144M521.77 2147.3V2143.88M522.39 2147.3V2143.96M522.81 2147.3V2143.97M523.11 2147.3V2143.91M523.51 2147.3V2143.93M524.01 2147.3V2143.97M524.57 2147.3V2143.95M524.95 2147.3V2143.89M525.31 2147.3V2143.99M525.71 2147.3V2143.95M526.31 2147.3V2143.97M526.69 2147.3V2143.93M527.09 2147.3V2143.94M527.48 2147.3V2143.9M527.85 2147.3V2143.98M528.26 2147.3V2143.97M528.84 2147.3V2143.92M529.44 2147.3V2143.94M529.77 2147.3V2143.91M530.16 2147.3V2143.98M530.61 2147.3V2143.88M531.05 2147.3V2143.97M531.7 2147.3V2143.88M532.15 2147.3V2143.99M532.75 2147.3V2143.91M533.18 2147.3V2143.91M533.62 2147.3V2143.97M534.15 2147.3V2143.91M534.63 2147.3V2143.9M534.93 2147.3V2143.95M535.37 2147.3V2144M536.02 2147.3V2143.99M536.39 2147.3V2143.9M537.06 2147.3V2143.89M537.49 2147.3V2143.89M537.84 2147.3V2143.92M538.51 2147.3V2143.99M538.85 2147.3V2143.92M539.49 2147.3V2143.92M540.16 2147.3V2143.95M540.6 2147.3V2144M541 2147.3V2143.89M541.32 2147.3V2143.99M541.75 2147.3V2144.01M542.16 2147.3V2143.99M542.5 2147.3V2143.94M543.01 2147.3V2143.94M543.6 2147.3V2143.94M544.27 2147.3V2144M544.65 2147.3V2144M552.12 2147.3V2144.72M568.44 2147.3V2141.11M570.48 2147.3V2142.14M572.52 2147.3V2143.17M576.6 2147.3V2142.14M619.44 2147.3V2131.82M665.14 2147.3V2106.02M677.78 2147.3V2095.7M680.23 2147.3V2100.86M681.86 2147.3V2103.44M683.9 2147.3V2106.02M685.94 2147.3V2103.44M687.17 2147.3V2106.02M689.62 2147.3V2121.5M696.96 2147.3V2145.95M699.15 2147.3V2146.26M700.33 2147.3V2146.48M702.06 2147.3V2146.52M704.07 2147.3V2145.68M705.65 2147.3V2146.14M707.73 2147.3V2146.31M708.96 2147.3V2145.72M709.2 2147.3V2146.64M711.17 2147.3V2145.94M712.22 2147.3V2146.38M713.43 2147.3V2145.31M714.68 2147.3V2146.64M715.95 2147.3V2145.2M717.36 2147.3V2133.22M718.42 2147.3V2132.48M719.48 2147.3V2133.24M720.54 2147.3V2133.4M721.6 2147.3V2128.02M722.66 2147.3V2129.84M723.72 2147.3V2124.76M724.79 2147.3V2116.71M725.85 2147.3V2118.93M726.91 2147.3V2114.81M727.97 2147.3V2109.42M735.72 2147.3V2108.6" stroke="#DC0000" stroke-width="0.8" fill="none"/>
<path d="M364.85 2210.8V2159.2M367.3 2210.8V2164.36M372.19 2210.8V2174.68M373.42 2210.8V2172.1M374.64 2210.8V2169.52M376.27 2210.8V2172.1M377.5 2210.8V2169.52M377.9 2210.8V2201.61M378.72 2210.8V2202.31M379.54 2210.8V2200.64M380.35 2210.8V2203.23M381.17 2210.8V2204.92M381.98 2210.8V2205.52M382.8 2210.8V2206.77M383.62 2210.8V2208.02M384.43 2210.8V2208.22M390.96 2210.8V2208.22M399.12 2210.8V2207.7M580.68 2210.8V2209.05M582.33 2210.8V2207.13M583.93 2210.8V2209.26M585.16 2210.8V2206.72M586.18 2210.8V2209.24M587.62 2210.8V2209.04M588.93 2210.8V2209.28M590.59 2210.8V2208.89M591.42 2210.8V2207.64M592.49 2210.8V2208.04M593.71 2210.8V2206.91M594.95 2210.8V2208.59M595.69 2210.8V2208.23M596.69 2210.8V2207.99M598.04 2210.8V2208.34M598.86 2210.8V2208.23M600.07 2210.8V2207.78M601.75 2210.8V2208.9M602.92 2210.8V2209.51M604.44 2210.8V2209.04M605.98 2210.8V2207.3M606.97 2210.8V2206.97M608.2 2210.8V2208.45M609.47 2210.8V2206.84M610.69 2210.8V2208.28M611.71 2210.8V2207.16M612.93 2210.8V2208.71M613.86 2210.8V2209.1M615.41 2210.8V2207.28M617.1 2210.8V2206.93M618.51 2210.8V2207.3M619.94 2210.8V2207.26M621.46 2210.8V2209.22M665.14 2210.8V2182.42M677.78 2210.8V2179.84M680.23 2210.8V2182.42M681.86 2210.8V2179.84M683.9 2210.8V2177.26M685.94 2210.8V2174.68M687.17 2210.8V2172.1M689.62 2210.8V2195.32M692.88 2210.8V2210.01M694.83 2210.8V2209.25M696.34 2210.8V2209.75M698.48 2210.8V2209.41M701.15 2210.8V2209.26M704.44 2210.8V2209.59M706.04 2210.8V2209.56M707.72 2210.8V2209.17M719.81 2210.8V2179.84M720.87 2210.8V2166.94M721.93 2210.8V2169.52M722.99 2210.8V2174.68M724.05 2210.8V2177.26M725.11 2210.8V2179.84M726.17 2210.8V2190.16M727.23 2210.8V2200.48M728.29 2210.8V2204.61M727.56 2210.8V2204.96M728.11 2210.8V2204.25M729 2210.8V2203.71M729.8 2210.8V2205.3M730.67 2210.8V2205.43M731.62 2210.8V2204.11M732.52 2210.8V2203.91M733.3 2210.8V2203.78M734.11 2210.8V2204.62M734.78 2210.8V2204.88M735.23 2210.8V2205.24M735.72 2210.8V2185" stroke="#7E6148" stroke-width="0.8" fill="none"/>
<text x="437.3" y="2273.4" font-size="20.3" text-anchor="end" font-style="italic">USH1C</text>
<line x1="443.3" y1="2265.8" x2="466.2" y2="2265.8" stroke="#000" stroke-width="1"/>
<path d="M443.3 2257.8V2273.8M445 2257.8V2273.8M446.5 2257.8V2273.8M449.5 2257.8V2273.8M453 2257.8V2273.8M455 2257.8V2273.8M456.5 2257.8V2273.8M458.5 2257.8V2273.8M460 2257.8V2273.8M462 2257.8V2273.8M466.2 2257.8V2273.8" stroke="#000" stroke-width="1" fill="none"/>
<text x="391.4" y="2301.9" font-size="20.3" text-anchor="end" font-style="italic">ABCC8</text>
<line x1="397.4" y1="2294.3" x2="435" y2="2294.3" stroke="#000" stroke-width="1"/>
<path d="M397.4 2286.3V2302.3M398.6 2286.3V2302.3M399.8 2286.3V2302.3M401 2286.3V2302.3M402.2 2286.3V2302.3M403.4 2286.3V2302.3M405 2286.3V2302.3M407 2286.3V2302.3M408.5 2286.3V2302.3M411 2286.3V2302.3M414 2286.3V2302.3M417 2286.3V2302.3M420 2286.3V2302.3M423 2286.3V2302.3M426 2286.3V2302.3M429 2286.3V2302.3M432 2286.3V2302.3M435 2286.3V2302.3" stroke="#000" stroke-width="1" fill="none"/>
<text x="389" y="2329.9" font-size="20.3" text-anchor="end" font-style="italic">KCNJ11</text>
<path d="M395 2314.3V2330.3" stroke="#000" stroke-width="1" fill="none"/>
<text x="378" y="2358.3" font-size="20.3" text-anchor="end" font-style="italic">NCR3LG1</text>
<line x1="382.7" y1="2350.7" x2="391.4" y2="2350.7" stroke="#000" stroke-width="1"/>
<path d="M382.7 2342.7V2358.7M383.8 2342.7V2358.7M384.9 2342.7V2358.7M386 2342.7V2358.7M391.4 2342.7V2358.7" stroke="#000" stroke-width="1" fill="none"/>
<text x="359.7" y="2385.9" font-size="20.3" text-anchor="end" font-style="italic">NUCB2</text>
<line x1="366.1" y1="2378.3" x2="377.2" y2="2378.3" stroke="#000" stroke-width="1"/>
<path d="M366.1 2370.3V2386.3M368 2370.3V2386.3M370.5 2370.3V2386.3M371.8 2370.3V2386.3M373 2370.3V2386.3M375 2370.3V2386.3M377.2 2370.3V2386.3" stroke="#000" stroke-width="1" fill="none"/>
<text x="716.3" y="2273.4" font-size="20.3" text-anchor="end" font-style="italic">SAAL1</text>
<line x1="718.6" y1="2265.8" x2="736.1" y2="2265.8" stroke="#000" stroke-width="1"/>
<path d="M718.6 2257.8V2273.8M720 2257.8V2273.8M721.2 2257.8V2273.8M722.5 2257.8V2273.8M724 2257.8V2273.8M727 2257.8V2273.8M736.1 2257.8V2273.8" stroke="#000" stroke-width="1" fill="none"/>
<text x="687.9" y="2301.9" font-size="20.3" text-anchor="end" font-style="italic">TPH1</text>
<line x1="692" y1="2294.3" x2="704" y2="2294.3" stroke="#000" stroke-width="1"/>
<path d="M692 2286.3V2302.3M693.2 2286.3V2302.3M694.4 2286.3V2302.3M695.6 2286.3V2302.3M697 2286.3V2302.3M698.5 2286.3V2302.3M700 2286.3V2302.3M702 2286.3V2302.3M704 2286.3V2302.3" stroke="#000" stroke-width="1" fill="none"/>
<text x="695.7" y="2329.9" font-size="20.3" font-style="italic">SERGEF</text>
<line x1="619" y1="2322.3" x2="688.8" y2="2322.3" stroke="#000" stroke-width="1"/>
<path d="M619 2314.3V2330.3M664.5 2314.3V2330.3M666 2314.3V2330.3M676.5 2314.3V2330.3M678 2314.3V2330.3M679.5 2314.3V2330.3M681 2314.3V2330.3M682.5 2314.3V2330.3M684 2314.3V2330.3M686 2314.3V2330.3M688.8 2314.3V2330.3" stroke="#000" stroke-width="1" fill="none"/>
<text x="586.5" y="2358.3" font-size="20.3" font-style="italic">KCNC1</text>
<line x1="553.4" y1="2350.7" x2="577.7" y2="2350.7" stroke="#000" stroke-width="1"/>
<path d="M553.4 2342.7V2358.7M570.5 2342.7V2358.7M573 2342.7V2358.7M575 2342.7V2358.7M577.7 2342.7V2358.7" stroke="#000" stroke-width="1" fill="none"/>
<text x="554.3" y="2385.9" font-size="20.3" fill="#F00" font-style="italic">MYOD1</text>
<path d="" stroke="#000" stroke-width="1" fill="none"/>
<svg x="825.5" y="1111.8" width="143.4" height="107.2"><g filter="url(#hm0)">
<rect x="-9" y="-6.73" width="161.4" height="120.66" fill="url(#hg)"/>
<rect x="0" y="93.26" width="18.64" height="13.94" fill="#fff" fill-opacity="0.55"/>
<rect x="7.17" y="75.04" width="35.85" height="26.8" fill="#fff" fill-opacity="0.12"/>
<rect x="64.53" y="21.44" width="50.19" height="37.52" fill="#fff" fill-opacity="0.1"/>
</g></svg>
<line x1="825.5" y1="1219" x2="968.9" y2="1111.8" stroke="#EBC3A8" stroke-width="0.7"/>
<line x1="897.2" y1="1111.8" x2="897.2" y2="1219" stroke="#000" stroke-width="1.4" stroke-dasharray="5.5 3"/>
<rect x="825.5" y="1111.8" width="143.4" height="107.2" fill="none" stroke="#000" stroke-width="1.8"/>
<text x="900.5" y="1108.7" font-size="20.6" text-anchor="middle">Heart</text>
<svg x="825.5" y="1242.1" width="143.4" height="107.2"><g filter="url(#hm1)">
<rect x="-9" y="-6.73" width="161.4" height="120.66" fill="url(#hg)"/>
<rect x="0" y="91.12" width="21.51" height="16.08" fill="#fff" fill-opacity="0.5"/>
<rect x="14.34" y="71.82" width="32.98" height="24.66" fill="#fff" fill-opacity="0.12"/>
<rect x="71.7" y="23.58" width="40.15" height="30.02" fill="#fff" fill-opacity="0.2"/>
</g></svg>
<line x1="825.5" y1="1349.3" x2="968.9" y2="1242.1" stroke="#EBC3A8" stroke-width="0.7"/>
<line x1="897.2" y1="1242.1" x2="897.2" y2="1349.3" stroke="#000" stroke-width="1.4" stroke-dasharray="5.5 3"/>
<rect x="825.5" y="1242.1" width="143.4" height="107.2" fill="none" stroke="#000" stroke-width="1.8"/>
<text x="900.1" y="1239" font-size="20.6" text-anchor="middle">Kidney</text>
<svg x="825.5" y="1372.4" width="143.4" height="107.2"><g filter="url(#hm2)">
<rect x="-9" y="-6.73" width="161.4" height="120.66" fill="url(#hg)"/>
<rect x="0" y="91.12" width="21.51" height="16.08" fill="#fff" fill-opacity="0.45"/>
<rect x="17.21" y="68.61" width="34.42" height="25.73" fill="#fff" fill-opacity="0.12"/>
<rect x="71.7" y="21.44" width="43.02" height="32.16" fill="#fff" fill-opacity="0.14"/>
</g></svg>
<line x1="825.5" y1="1479.6" x2="968.9" y2="1372.4" stroke="#EBC3A8" stroke-width="0.7"/>
<line x1="897.2" y1="1372.4" x2="897.2" y2="1479.6" stroke="#000" stroke-width="1.4" stroke-dasharray="5.5 3"/>
<rect x="825.5" y="1372.4" width="143.4" height="107.2" fill="none" stroke="#000" stroke-width="1.8"/>
<text x="898.1" y="1369.3" font-size="20.6" text-anchor="middle">Large intestine</text>
<svg x="825.5" y="1502.7" width="143.4" height="107.2"><g filter="url(#hm3)">
<rect x="-9" y="-6.73" width="161.4" height="120.66" fill="url(#hg)"/>
<rect x="0" y="92.19" width="20.08" height="15.01" fill="#fff" fill-opacity="0.45"/>
<rect x="14.34" y="69.68" width="35.85" height="26.8" fill="#fff" fill-opacity="0.1"/>
<rect x="71.7" y="23.58" width="40.15" height="30.02" fill="#fff" fill-opacity="0.1"/>
<rect x="117.59" y="0" width="25.81" height="19.3" fill="#fff" fill-opacity="0.15"/>
</g></svg>
<line x1="825.5" y1="1609.9" x2="968.9" y2="1502.7" stroke="#EBC3A8" stroke-width="0.7"/>
<line x1="897.2" y1="1502.7" x2="897.2" y2="1609.9" stroke="#000" stroke-width="1.4" stroke-dasharray="5.5 3"/>
<rect x="825.5" y="1502.7" width="143.4" height="107.2" fill="none" stroke="#000" stroke-width="1.8"/>
<text x="900.5" y="1499.6" font-size="20.6" text-anchor="middle">Liver</text>
<svg x="825.5" y="1633" width="143.4" height="107.2"><g filter="url(#hm0)">
<rect x="-9" y="-6.73" width="161.4" height="120.66" fill="url(#hg)"/>
<rect x="0" y="96.48" width="14.34" height="10.72" fill="#fff" fill-opacity="0.4"/>
<rect x="14.34" y="71.82" width="32.98" height="24.66" fill="#fff" fill-opacity="0.1"/>
<rect x="71.7" y="26.8" width="35.85" height="26.8" fill="#fff" fill-opacity="0.1"/>
</g></svg>
<line x1="825.5" y1="1740.2" x2="968.9" y2="1633" stroke="#EBC3A8" stroke-width="0.7"/>
<line x1="897.2" y1="1633" x2="897.2" y2="1740.2" stroke="#000" stroke-width="1.4" stroke-dasharray="5.5 3"/>
<rect x="825.5" y="1633" width="143.4" height="107.2" fill="none" stroke="#000" stroke-width="1.8"/>
<text x="900.5" y="1629.9" font-size="20.6" text-anchor="middle">Lung</text>
<svg x="825.5" y="1763.3" width="143.4" height="107.2"><g filter="url(#hm1)">
<rect x="-9" y="-6.73" width="161.4" height="120.66" fill="url(#hg)"/>
<rect x="0" y="85.76" width="28.68" height="21.44" fill="#fff" fill-opacity="0.5"/>
<rect x="17.21" y="68.61" width="34.42" height="25.73" fill="#fff" fill-opacity="0.15"/>
<rect x="71.7" y="25.73" width="37.28" height="27.87" fill="#fff" fill-opacity="0.3"/>
<rect x="51.62" y="51.46" width="22.94" height="17.15" fill="#fff" fill-opacity="0.12"/>
</g></svg>
<line x1="825.5" y1="1870.5" x2="968.9" y2="1763.3" stroke="#EBC3A8" stroke-width="0.7"/>
<line x1="897.2" y1="1763.3" x2="897.2" y2="1870.5" stroke="#000" stroke-width="1.4" stroke-dasharray="5.5 3"/>
<rect x="825.5" y="1763.3" width="143.4" height="107.2" fill="none" stroke="#000" stroke-width="1.8"/>
<text x="899.7" y="1760.2" font-size="20.6" text-anchor="middle">Muscle</text>
<svg x="825.5" y="1893.6" width="143.4" height="107.2"><g filter="url(#hm2)">
<rect x="-9" y="-6.73" width="161.4" height="120.66" fill="url(#hg)"/>
<rect x="0" y="94.34" width="17.21" height="12.86" fill="#fff" fill-opacity="0.4"/>
<rect x="71.7" y="25.73" width="37.28" height="27.87" fill="#fff" fill-opacity="0.1"/>
<rect x="114.72" y="0" width="28.68" height="21.44" fill="#fff" fill-opacity="0.15"/>
</g></svg>
<line x1="825.5" y1="2000.8" x2="968.9" y2="1893.6" stroke="#EBC3A8" stroke-width="0.7"/>
<line x1="897.2" y1="1893.6" x2="897.2" y2="2000.8" stroke="#000" stroke-width="1.4" stroke-dasharray="5.5 3"/>
<rect x="825.5" y="1893.6" width="143.4" height="107.2" fill="none" stroke="#000" stroke-width="1.8"/>
<text x="898" y="1890.5" font-size="20.6" text-anchor="middle">Small intestine</text>
<svg x="825.5" y="2023.9" width="143.4" height="107.2"><g filter="url(#hm3)">
<rect x="-9" y="-6.73" width="161.4" height="120.66" fill="url(#hg)"/>
<rect x="0" y="92.19" width="20.08" height="15.01" fill="#fff" fill-opacity="0.4"/>
<rect x="71.7" y="23.58" width="40.15" height="30.02" fill="#fff" fill-opacity="0.1"/>
</g></svg>
<line x1="825.5" y1="2131.1" x2="968.9" y2="2023.9" stroke="#EBC3A8" stroke-width="0.7"/>
<line x1="897.2" y1="2023.9" x2="897.2" y2="2131.1" stroke="#000" stroke-width="1.4" stroke-dasharray="5.5 3"/>
<rect x="825.5" y="2023.9" width="143.4" height="107.2" fill="none" stroke="#000" stroke-width="1.8"/>
<text x="896.2" y="2020.8" font-size="20.6" text-anchor="middle">Subcutaneous adipose</text>
<svg x="825.5" y="2154.2" width="143.4" height="107.2"><g filter="url(#hm0)">
<rect x="-9" y="-6.73" width="161.4" height="120.66" fill="url(#hg)"/>
<rect x="0" y="94.34" width="17.21" height="12.86" fill="#fff" fill-opacity="0.4"/>
<rect x="71.7" y="23.58" width="40.15" height="30.02" fill="#fff" fill-opacity="0.1"/>
</g></svg>
<line x1="825.5" y1="2261.4" x2="968.9" y2="2154.2" stroke="#EBC3A8" stroke-width="0.7"/>
<line x1="897.2" y1="2154.2" x2="897.2" y2="2261.4" stroke="#000" stroke-width="1.4" stroke-dasharray="5.5 3"/>
<rect x="825.5" y="2154.2" width="143.4" height="107.2" fill="none" stroke="#000" stroke-width="1.8"/>
<text x="897.7" y="2151.1" font-size="20.6" text-anchor="middle">Visceral adipose</text>
<path d="M825.5 2268.4 V2261.4 H968.9 V2268.4" fill="none" stroke="#000" stroke-width="3"/>
<text x="813.5" y="2285.6" font-size="20.3" text-anchor="end">Chr.16</text>
<text x="825.5" y="2285.6" font-size="19.8">53.18</text>
<text x="1008.3" y="2285.6" font-size="19.8" text-anchor="end">54.19 Mb</text>
<text x="896.2" y="2326.3" font-size="20.6" text-anchor="middle">Contact frequency</text>
<rect x="852.9" y="2333.2" width="88.6" height="13.6" fill="url(#cb)"/>
<path d="M852.9 2333 V2354.3 M941.5 2333 V2354.3 M851.7 2347 H942.7" fill="none" stroke="#000" stroke-width="2.4"/>
<path d="M852.9 2333 H941.5" fill="none" stroke="#000" stroke-width="1"/>
<text x="852.4" y="2372.2" font-size="16.6" text-anchor="middle">0</text>
<line x1="875.05" y1="2347" x2="875.05" y2="2354.3" stroke="#000" stroke-width="2.4"/>
<text x="874.55" y="2372.2" font-size="16.6" text-anchor="middle">5</text>
<line x1="897.2" y1="2347" x2="897.2" y2="2354.3" stroke="#000" stroke-width="2.4"/>
<text x="896.7" y="2372.2" font-size="16.6" text-anchor="middle">10</text>
<line x1="919.35" y1="2347" x2="919.35" y2="2354.3" stroke="#000" stroke-width="2.4"/>
<text x="918.85" y="2372.2" font-size="16.6" text-anchor="middle">15</text>
<text x="941" y="2372.2" font-size="16.6" text-anchor="middle">20</text>
</g>
<g id="ph">
<text x="1007.4" y="1077.6" font-size="31">h</text>
<text x="1296.6" y="1117.2" font-size="24" text-anchor="end" fill="#E64B35">Heart</text>
<text x="1344.2" y="1117.2" font-size="17">RPS=0.8</text>
<path d="M1340.2 1136.8 V1131.8 H1747.3 V1136.8" fill="none" stroke="#000" stroke-width="2.6"/>
<text x="1296.6" y="1688" font-size="24" text-anchor="end" fill="#E64B35">Heart</text>
<text x="1296.6" y="1180.6" font-size="24" text-anchor="end" fill="#4DBBD5">Kidney</text>
<text x="1339.7" y="1180.6" font-size="17">RPS=0.00</text>
<path d="M1340.2 1200.2 V1195.2 H1747.3 V1200.2" fill="none" stroke="#000" stroke-width="2.6"/>
<text x="1296.6" y="1751.5" font-size="24" text-anchor="end" fill="#4DBBD5">Kidney</text>
<text x="1296.6" y="1244" font-size="24" text-anchor="end" fill="#00A087">Large intestine</text>
<text x="1339.7" y="1244" font-size="17">RPS=0.91</text>
<path d="M1340.2 1263.6 V1258.6 H1747.3 V1263.6" fill="none" stroke="#000" stroke-width="2.6"/>
<text x="1296.6" y="1815" font-size="24" text-anchor="end" fill="#00A087">Large intestine</text>
<text x="1296.6" y="1307.4" font-size="24" text-anchor="end" fill="#3C5488">Liver</text>
<text x="1339.7" y="1307.4" font-size="17">RPS=0.00</text>
<path d="M1340.2 1327 V1322 H1747.3 V1327" fill="none" stroke="#000" stroke-width="2.6"/>
<text x="1296.6" y="1878.5" font-size="24" text-anchor="end" fill="#3C5488">Liver</text>
<text x="1296.6" y="1370.8" font-size="24" text-anchor="end" fill="#F39B7F">Lung</text>
<text x="1339.7" y="1370.8" font-size="17">RPS=0.73</text>
<path d="M1340.2 1390.4 V1385.4 H1747.3 V1390.4" fill="none" stroke="#000" stroke-width="2.6"/>
<text x="1296.6" y="1942" font-size="24" text-anchor="end" fill="#F39B7F">Lung</text>
<text x="1296.6" y="1434.2" font-size="24" text-anchor="end" fill="#8491B4">Muscle</text>
<text x="1339.7" y="1434.2" font-size="17">RPS=9.88</text>
<path d="M1340.2 1453.8 V1448.8 H1747.3 V1453.8" fill="none" stroke="#000" stroke-width="2.6"/>
<text x="1296.6" y="2005.5" font-size="24" text-anchor="end" fill="#8491B4">Muscle</text>
<text x="1296.6" y="1497.6" font-size="24" text-anchor="end" fill="#91D1C2">Small intestine</text>
<text x="1339.7" y="1497.6" font-size="17">RPS=1.66</text>
<path d="M1340.2 1517.2 V1512.2 H1747.3 V1517.2" fill="none" stroke="#000" stroke-width="2.6"/>
<text x="1296.6" y="2069" font-size="24" text-anchor="end" fill="#91D1C2">Small intestine</text>
<text x="1296.6" y="1561" font-size="24" text-anchor="end" fill="#DC0000">Subcutaneous adipose</text>
<text x="1339.7" y="1561" font-size="17">RPS=0.00</text>
<path d="M1340.2 1580.6 V1575.6 H1747.3 V1580.6" fill="none" stroke="#000" stroke-width="2.6"/>
<text x="1296.6" y="2132.5" font-size="24" text-anchor="end" fill="#DC0000">Subcutaneous adipose</text>
<text x="1296.6" y="1624.4" font-size="24" text-anchor="end" fill="#7E6148">Visceral adipose</text>
<text x="1339.7" y="1624.4" font-size="17">RPS=0.00</text>
<path d="M1340.2 1644 V1639 H1747.3 V1644" fill="none" stroke="#000" stroke-width="2.6"/>
<text x="1296.6" y="2196" font-size="24" text-anchor="end" fill="#7E6148">Visceral adipose</text>
<line x1="1048.3" y1="1100.6" x2="1048.3" y2="1623.8" stroke="#000" stroke-width="1.6"/>
<line x1="1048.3" y1="1651.4" x2="1048.3" y2="2227.4" stroke="#000" stroke-width="1.6"/>
<text font-size="24" text-anchor="middle" transform="translate(1036.3 1364.7) rotate(-90)">PEIs (RPS)</text>
<text font-size="24" text-anchor="middle" transform="translate(1036.3 1908.7) rotate(-90)">RNA-seq (TPM)</text>
<text font-size="22.3" text-anchor="middle" transform="translate(1321.2 1930.4) rotate(-90)">[0, 100]</text>
<path d="M1334.7 1650.5 H1340.2 V1702.1 H1334.7 M1334.7 1676.3 H1340.2" fill="none" stroke="#000" stroke-width="1.6"/>
<path d="M1334.7 1714 H1340.2 V1765.6 H1334.7 M1334.7 1739.8 H1340.2" fill="none" stroke="#000" stroke-width="1.6"/>
<path d="M1334.7 1777.5 H1340.2 V1829.1 H1334.7 M1334.7 1803.3 H1340.2" fill="none" stroke="#000" stroke-width="1.6"/>
<path d="M1334.7 1841 H1340.2 V1892.6 H1334.7 M1334.7 1866.8 H1340.2" fill="none" stroke="#000" stroke-width="1.6"/>
<path d="M1334.7 1904.5 H1340.2 V1956.1 H1334.7 M1334.7 1930.3 H1340.2" fill="none" stroke="#000" stroke-width="1.6"/>
<path d="M1334.7 1968 H1340.2 V2019.6 H1334.7 M1334.7 1993.8 H1340.2" fill="none" stroke="#000" stroke-width="1.6"/>
<path d="M1334.7 2031.5 H1340.2 V2083.1 H1334.7 M1334.7 2057.3 H1340.2" fill="none" stroke="#000" stroke-width="1.6"/>
<path d="M1334.7 2095 H1340.2 V2146.6 H1334.7 M1334.7 2120.8 H1340.2" fill="none" stroke="#000" stroke-width="1.6"/>
<path d="M1334.7 2158.5 H1340.2 V2210.1 H1334.7 M1334.7 2184.3 H1340.2" fill="none" stroke="#000" stroke-width="1.6"/>
<path d="M1340.2 2215.6 V2210.1 H1747.3 V2215.6" fill="none" stroke="#000" stroke-width="2.4"/>
<text x="1273.6" y="2238" font-size="20.3" text-anchor="end">Chr. 15</text>
<text x="1335.2" y="2238" font-size="20.3" text-anchor="middle">73.04</text>
<text x="1784" y="2238" font-size="20.3" text-anchor="end">73.64 Mb</text>
<path d="M1406.29 1131.8 Q1473.53 1077.63 1540.77 1131.8" fill="none" stroke="#E64B35" stroke-width="2.3"/>
<path d="M1474.22 1258.6 Q1508.19 1205.11 1542.15 1258.6" fill="none" stroke="#00A087" stroke-width="2.3"/>
<path d="M1543.99 1385.4 Q1603.65 1332.58 1663.32 1385.4" fill="none" stroke="#F39B7F" stroke-width="2.3"/>
<path d="M1542.15 1448.8 Q1564.41 1417.21 1586.67 1448.8" fill="none" stroke="#8491B4" stroke-width="2.3"/>
<path d="M1542.15 1448.8 Q1569.46 1411.16 1596.77 1448.8" fill="none" stroke="#8491B4" stroke-width="2.3"/>
<path d="M1542.15 1448.8 Q1574.51 1405.28 1606.87 1448.8" fill="none" stroke="#8491B4" stroke-width="2.3"/>
<path d="M1542.15 1448.8 Q1579.56 1399.53 1616.97 1448.8" fill="none" stroke="#8491B4" stroke-width="2.3"/>
<path d="M1542.15 1448.8 Q1584.61 1393.9 1627.06 1448.8" fill="none" stroke="#8491B4" stroke-width="2.3"/>
<path d="M1542.15 1448.8 Q1589.66 1388.37 1637.16 1448.8" fill="none" stroke="#8491B4" stroke-width="2.3"/>
<path d="M1542.15 1448.8 Q1594.7 1382.92 1647.26 1448.8" fill="none" stroke="#8491B4" stroke-width="2.3"/>
<path d="M1542.15 1448.8 Q1599.75 1377.56 1657.36 1448.8" fill="none" stroke="#8491B4" stroke-width="2.3"/>
<path d="M1542.15 1448.8 Q1603.88 1373.22 1665.62 1448.8" fill="none" stroke="#8491B4" stroke-width="2.3"/>
<path d="M1542.15 1448.8 Q1607.56 1369.4 1672.96 1448.8" fill="none" stroke="#8491B4" stroke-width="2.3"/>
<path d="M1542.15 1448.8 Q1610.31 1366.56 1678.47 1448.8" fill="none" stroke="#8491B4" stroke-width="2.3"/>
<path d="M1542.15 1448.8 Q1613.06 1363.73 1683.98 1448.8" fill="none" stroke="#8491B4" stroke-width="2.3"/>
<path d="M1467.34 1512.2 Q1504.74 1428.84 1542.15 1512.2" fill="none" stroke="#91D1C2" stroke-width="2.3"/>
<path d="M1543.99 1512.2 Q1559.59 1490.35 1575.2 1512.2" fill="none" stroke="#91D1C2" stroke-width="2.3"/>
<line x1="1574.7" y1="1079.4" x2="1574.7" y2="1131.3" stroke="#000" stroke-width="1.7" stroke-dasharray="1.3 4.2 5.4 5 5.4 5 5.4 5 5.4 5 5.4 5"/>
<line x1="1544" y1="1650.8" x2="1544" y2="1702.7" stroke="#000" stroke-width="1.7" stroke-dasharray="1.3 4.2 5.4 5 5.4 5 5.4 5 5.4 5 5.4 5"/>
<line x1="1544" y1="1142.8" x2="1544" y2="1194.7" stroke="#000" stroke-width="1.7" stroke-dasharray="1.3 4.2 5.4 5 5.4 5 5.4 5 5.4 5 5.4 5"/>
<line x1="1544" y1="1714.3" x2="1544" y2="1766.2" stroke="#000" stroke-width="1.7" stroke-dasharray="1.3 4.2 5.4 5 5.4 5 5.4 5 5.4 5 5.4 5"/>
<line x1="1544" y1="1206.2" x2="1544" y2="1258.1" stroke="#000" stroke-width="1.7" stroke-dasharray="1.3 4.2 5.4 5 5.4 5 5.4 5 5.4 5 5.4 5"/>
<line x1="1544" y1="1777.8" x2="1544" y2="1829.7" stroke="#000" stroke-width="1.7" stroke-dasharray="1.3 4.2 5.4 5 5.4 5 5.4 5 5.4 5 5.4 5"/>
<line x1="1544" y1="1269.6" x2="1544" y2="1321.5" stroke="#000" stroke-width="1.7" stroke-dasharray="1.3 4.2 5.4 5 5.4 5 5.4 5 5.4 5 5.4 5"/>
<line x1="1544" y1="1841.3" x2="1544" y2="1893.2" stroke="#000" stroke-width="1.7" stroke-dasharray="1.3 4.2 5.4 5 5.4 5 5.4 5 5.4 5 5.4 5"/>
<line x1="1544" y1="1333" x2="1544" y2="1384.9" stroke="#000" stroke-width="1.7" stroke-dasharray="1.3 4.2 5.4 5 5.4 5 5.4 5 5.4 5 5.4 5"/>
<line x1="1544" y1="1904.8" x2="1544" y2="1956.7" stroke="#000" stroke-width="1.7" stroke-dasharray="1.3 4.2 5.4 5 5.4 5 5.4 5 5.4 5 5.4 5"/>
<line x1="1544" y1="1396.4" x2="1544" y2="1448.3" stroke="#000" stroke-width="1.7" stroke-dasharray="1.3 4.2 5.4 5 5.4 5 5.4 5 5.4 5 5.4 5"/>
<line x1="1544" y1="1968.3" x2="1544" y2="2020.2" stroke="#000" stroke-width="1.7" stroke-dasharray="1.3 4.2 5.4 5 5.4 5 5.4 5 5.4 5 5.4 5"/>
<line x1="1544" y1="1459.8" x2="1544" y2="1511.7" stroke="#000" stroke-width="1.7" stroke-dasharray="1.3 4.2 5.4 5 5.4 5 5.4 5 5.4 5 5.4 5"/>
<line x1="1544" y1="2031.8" x2="1544" y2="2083.7" stroke="#000" stroke-width="1.7" stroke-dasharray="1.3 4.2 5.4 5 5.4 5 5.4 5 5.4 5 5.4 5"/>
<line x1="1544" y1="1523.2" x2="1544" y2="1575.1" stroke="#000" stroke-width="1.7" stroke-dasharray="1.3 4.2 5.4 5 5.4 5 5.4 5 5.4 5 5.4 5"/>
<line x1="1544" y1="2095.3" x2="1544" y2="2147.2" stroke="#000" stroke-width="1.7" stroke-dasharray="1.3 4.2 5.4 5 5.4 5 5.4 5 5.4 5 5.4 5"/>
<line x1="1544" y1="1586.6" x2="1544" y2="1638.5" stroke="#000" stroke-width="1.7" stroke-dasharray="1.3 4.2 5.4 5 5.4 5 5.4 5 5.4 5 5.4 5"/>
<line x1="1544" y1="2158.8" x2="1544" y2="2210.7" stroke="#000" stroke-width="1.7" stroke-dasharray="1.3 4.2 5.4 5 5.4 5 5.4 5 5.4 5 5.4 5"/>
<line x1="1544.1" y1="2232" x2="1544.1" y2="2403" stroke="#000" stroke-width="1.6" stroke-dasharray="6 3"/>
<path d="M1359.33 1702.8V1651.2M1360.56 1702.8V1691.72M1361.37 1702.8V1692.87M1362.18 1702.8V1694.54M1363 1702.8V1696.01M1363.81 1702.8V1698.55M1364.63 1702.8V1699.69M1366.15 1702.8V1700.82M1369.46 1702.8V1700.37M1372.68 1702.8V1701.69M1375.07 1702.8V1701.36M1377.59 1702.8V1700.55M1379.08 1702.8V1701.44M1381.1 1702.8V1699.7M1384.06 1702.8V1701.58M1387.08 1702.8V1701.63M1389.75 1702.8V1701.66M1391.22 1702.8V1699.82M1393.1 1702.8V1701.44M1396.48 1702.8V1699.81M1398.51 1702.8V1699.59M1401.03 1702.8V1700.3M1402.9 1702.8V1699.64M1405.71 1702.8V1699.58M1408.93 1702.8V1701.23M1411.1 1702.8V1701.56M1412.85 1702.8V1701.81M1414.9 1702.8V1700.48M1416.37 1702.8V1700.3M1418.5 1702.8V1701.21M1421.56 1702.8V1700.78M1423.65 1702.8V1700.78M1426.49 1702.8V1701.83M1360.56 1702.8V1702.24M1361.53 1702.8V1702.14M1362.03 1702.8V1702.15M1362.76 1702.8V1702.17M1363.25 1702.8V1702.24M1363.86 1702.8V1702.12M1364.48 1702.8V1702.15M1365.57 1702.8V1702.13M1366.28 1702.8V1702.2M1367.11 1702.8V1702.15M1367.67 1702.8V1702.15M1368.68 1702.8V1702.14M1369.19 1702.8V1702.13M1369.74 1702.8V1702.2M1370.63 1702.8V1702.13M1371.34 1702.8V1702.13M1372.18 1702.8V1702.2M1372.88 1702.8V1702.22M1373.42 1702.8V1702.22M1374.35 1702.8V1702.12M1374.95 1702.8V1702.24M1376.08 1702.8V1702.18M1376.83 1702.8V1702.21M1377.71 1702.8V1702.14M1378.49 1702.8V1702.19M1379.02 1702.8V1702.13M1379.53 1702.8V1702.18M1380.56 1702.8V1702.23M1381.53 1702.8V1702.13M1382.42 1702.8V1702.15M1382.98 1702.8V1702.19M1383.57 1702.8V1702.14M1384.25 1702.8V1702.19M1385.39 1702.8V1702.14M1386.51 1702.8V1702.19M1387.32 1702.8V1702.15M1388.12 1702.8V1702.21M1388.87 1702.8V1702.22M1389.61 1702.8V1702.12M1390.72 1702.8V1702.17M1391.53 1702.8V1702.2M1392.08 1702.8V1702.21M1393.08 1702.8V1702.14M1393.8 1702.8V1702.15M1394.79 1702.8V1702.16M1395.72 1702.8V1702.15M1396.44 1702.8V1702.16M1397.11 1702.8V1702.18M1398.1 1702.8V1702.16M1398.78 1702.8V1702.13M1399.69 1702.8V1702.17M1400.19 1702.8V1702.17M1400.84 1702.8V1702.16M1401.63 1702.8V1702.14M1402.54 1702.8V1702.14M1403.26 1702.8V1702.16M1404.23 1702.8V1702.14M1404.94 1702.8V1702.14M1406 1702.8V1702.16M1407.12 1702.8V1702.12M1407.95 1702.8V1702.18M1408.54 1702.8V1702.14M1409.64 1702.8V1702.18M1410.58 1702.8V1702.15M1411.55 1702.8V1702.22M1412.54 1702.8V1702.17M1413.47 1702.8V1702.19M1414.36 1702.8V1702.15M1415.26 1702.8V1702.15M1415.77 1702.8V1702.22M1416.55 1702.8V1702.16M1417.18 1702.8V1702.16M1418.08 1702.8V1702.24M1418.87 1702.8V1702.21M1419.4 1702.8V1702.23M1420.09 1702.8V1702.22M1420.71 1702.8V1702.24M1421.5 1702.8V1702.2M1422.38 1702.8V1702.17M1423.03 1702.8V1702.13M1423.52 1702.8V1702.19M1424.19 1702.8V1702.19M1424.75 1702.8V1702.14M1425.48 1702.8V1702.24M1426.37 1702.8V1702.23M1427.21 1702.8V1702.2M1428.08 1702.8V1702.12M1429.1 1702.8V1702.19M1429.76 1702.8V1687.32M1458.26 1702.8V1677M1484.72 1702.8V1674.42M1486.76 1702.8V1674.42M1505.08 1702.8V1689.9M1509.55 1702.8V1681.13M1510.37 1702.8V1700.38M1511.83 1702.8V1701.62M1513.58 1702.8V1700.58M1515.8 1702.8V1699.58M1517.57 1702.8V1701.1M1519.71 1702.8V1701.97M1520.83 1702.8V1700.57M1522.61 1702.8V1701.63M1524.41 1702.8V1699.77M1525.87 1702.8V1700.91M1527.15 1702.8V1701.25M1529.39 1702.8V1701.03M1531.62 1702.8V1699.71M1533.37 1702.8V1701.33M1535.63 1702.8V1700.75M1537.15 1702.8V1701.18M1539.4 1702.8V1700.76M1555.96 1702.8V1701.29M1558.23 1702.8V1701.03M1561.34 1702.8V1701.64M1565.33 1702.8V1700.64M1567.32 1702.8V1701.19M1569.99 1702.8V1700.44M1573.98 1702.8V1701.72M1576.63 1702.8V1701.89M1581.16 1702.8V1701.64M1584.7 1702.8V1701.3M1588.34 1702.8V1701.06M1592.23 1702.8V1701.96M1596.16 1702.8V1701.62M1599.51 1702.8V1701.56M1602.23 1702.8V1701.2M1605.4 1702.8V1701.51M1609.29 1702.8V1701.08M1611.34 1702.8V1701.71M1614.48 1702.8V1700.48M1618.75 1702.8V1701.17M1620.74 1702.8V1700.73M1623.81 1702.8V1701.11M1627.61 1702.8V1701.01M1630.82 1702.8V1700.49M1633.78 1702.8V1701.45M1637.95 1702.8V1701.82M1640.68 1702.8V1700.64M1642.81 1702.8V1700.63M1646.57 1702.8V1701.38M1649.27 1702.8V1700.73M1653.6 1702.8V1701.92M1656.8 1702.8V1701.16M1660.05 1702.8V1701.57M1662.4 1702.8V1701.09M1666.47 1702.8V1702.05M1669.02 1702.8V1700.66M1673.04 1702.8V1700.95M1675.06 1702.8V1700.84M1679.57 1702.8V1700.33M1683.35 1702.8V1702.09M1687.49 1702.8V1701.77M1691.13 1702.8V1700.41M1694.94 1702.8V1701.93M1697.66 1702.8V1700.48M1700 1702.8V1701.05M1703.03 1702.8V1701.88M1706.61 1702.8V1702.1M1708.85 1702.8V1701.48M1710.99 1702.8V1702.07M1714.44 1702.8V1700.8M1718.68 1702.8V1701.93M1721.76 1702.8V1701.6M1725.28 1702.8V1701.27M1729.68 1702.8V1701.49M1731.78 1702.8V1700.89M1734.13 1702.8V1701.01M1737.4 1702.8V1700.49M1740.8 1702.8V1701.03M1743.44 1702.8V1701.16M1746.06 1702.8V1700.79" stroke="#E64B35" stroke-width="0.8" fill="none"/>
<path d="M1359.33 1766.3V1714.7M1360.56 1766.3V1765.72M1361.52 1766.3V1765.43M1362.97 1766.3V1765.67M1364.4 1766.3V1765.08M1365.22 1766.3V1765.06M1366.04 1766.3V1765.73M1367.35 1766.3V1765.59M1368.94 1766.3V1765.29M1369.99 1766.3V1764.9M1370.75 1766.3V1764.99M1371.54 1766.3V1765.7M1373.2 1766.3V1765.04M1374.15 1766.3V1765.74M1375.83 1766.3V1765.06M1377.37 1766.3V1765.71M1378.71 1766.3V1765.45M1379.67 1766.3V1765.47M1381 1766.3V1765.46M1382.11 1766.3V1765.72M1383.66 1766.3V1765.08M1385.18 1766.3V1765.35M1386.74 1766.3V1765.25M1388.05 1766.3V1765.18M1389.51 1766.3V1765.4M1390.34 1766.3V1765.85M1391.27 1766.3V1765.84M1392.87 1766.3V1765.29M1394.35 1766.3V1765.89M1395.54 1766.3V1764.79M1396.88 1766.3V1765.36M1398.06 1766.3V1765.76M1398.95 1766.3V1765.69M1400.05 1766.3V1765.41M1401.64 1766.3V1765.7M1402.62 1766.3V1765.54M1403.51 1766.3V1765.53M1404.47 1766.3V1765.29M1405.24 1766.3V1764.74M1405.34 1766.3V1760M1406.37 1766.3V1761.31M1407.24 1766.3V1759.97M1407.86 1766.3V1761.34M1408.61 1766.3V1761.31M1409.67 1766.3V1763.84M1410.35 1766.3V1764.53M1411.05 1766.3V1764.26M1411.88 1766.3V1759.83M1412.68 1766.3V1763.1M1413.55 1766.3V1763.25M1414.61 1766.3V1761.09M1415.27 1766.3V1763.46M1416.28 1766.3V1759.99M1417.28 1766.3V1762.52M1418.52 1766.3V1764.62M1419.1 1766.3V1760.79M1419.93 1766.3V1764.43M1420.86 1766.3V1759.75M1421.77 1766.3V1762.91M1422.38 1766.3V1764.3M1423.56 1766.3V1762.22M1424.77 1766.3V1764.38M1425.48 1766.3V1764.4M1426.3 1766.3V1764.35M1427.02 1766.3V1762.63M1427.78 1766.3V1764.39M1428.34 1766.3V1759.84M1429.01 1766.3V1762.13M1429.76 1766.3V1732.76M1458.26 1766.3V1731.21M1484.72 1766.3V1730.18M1486.76 1766.3V1722.44M1505.08 1766.3V1722.44M1509.55 1766.3V1720.89M1513.22 1766.3V1763.09M1514.3 1766.3V1763.9M1515.42 1766.3V1763.05M1517.6 1766.3V1762.84M1519.69 1766.3V1764.27M1520.69 1766.3V1763.06M1522.3 1766.3V1762.94M1523.77 1766.3V1762.74M1525.69 1766.3V1761.67M1527.07 1766.3V1763.39M1529.12 1766.3V1764.23M1530.25 1766.3V1763.9M1531.34 1766.3V1762.19M1533.39 1766.3V1763.9M1534.53 1766.3V1764.76M1555.96 1766.3V1764.49M1557.88 1766.3V1762.35M1559.5 1766.3V1764.59M1561.87 1766.3V1764.65M1563.41 1766.3V1763.62M1565.24 1766.3V1764.43M1567.15 1766.3V1763.49M1569.59 1766.3V1762.44M1572.28 1766.3V1762.02M1574.73 1766.3V1762.36M1594.64 1766.3V1760.6M1596.01 1766.3V1759.92M1597.45 1766.3V1761.18M1598.45 1766.3V1760.63M1599.56 1766.3V1764M1600.35 1766.3V1763.81M1601.34 1766.3V1761.3M1602.35 1766.3V1764.33M1608.89 1766.3V1735.34M1612.14 1766.3V1735.34M1626.39 1766.3V1729.15M1644.71 1766.3V1735.34M1646.34 1766.3V1743.08M1648.78 1766.3V1734.31M1651.63 1766.3V1745.66M1654.48 1766.3V1740.5M1663.84 1766.3V1732.76M1665.88 1766.3V1731.21M1674.02 1766.3V1725.02M1680.13 1766.3V1735.34M1688.27 1766.3V1730.18M1691.12 1766.3V1725.02M1696.41 1766.3V1730.18M1700.48 1766.3V1725.02M1708.63 1766.3V1730.18M1718.8 1766.3V1732.76M1722.87 1766.3V1725.02M1726.94 1766.3V1725.02M1728.98 1766.3V1722.44M1731.02 1766.3V1730.18M1733.05 1766.3V1725.02M1735.09 1766.3V1727.6M1737.12 1766.3V1732.76M1739.16 1766.3V1763.54M1739.92 1766.3V1765.11M1740.78 1766.3V1764.16M1742.35 1766.3V1762.33M1743.68 1766.3V1764.55M1744.83 1766.3V1764.15M1745.89 1766.3V1765.23M1747.19 1766.3V1762.71" stroke="#4DBBD5" stroke-width="0.8" fill="none"/>
<path d="M1359.33 1829.8V1783.36M1360.56 1829.8V1828.47M1362.22 1829.8V1828.24M1364.12 1829.8V1827.39M1366.32 1829.8V1826.31M1367.45 1829.8V1827.79M1369.62 1829.8V1827.34M1371.17 1829.8V1827.4M1373.14 1829.8V1825.87M1374.81 1829.8V1825.77M1376.57 1829.8V1828.45M1378.61 1829.8V1827.47M1379.65 1829.8V1825.74M1380.67 1829.8V1826.98M1382.28 1829.8V1826.04M1383.76 1829.8V1828.1M1385.1 1829.8V1828.15M1386.81 1829.8V1827.66M1388.77 1829.8V1828.02M1390.2 1829.8V1828M1392.46 1829.8V1826.17M1394.54 1829.8V1826.85M1396.04 1829.8V1828.33M1398.1 1829.8V1827.25M1399.13 1829.8V1828.24M1400.24 1829.8V1826.55M1402.38 1829.8V1828.15M1404.4 1829.8V1827.76M1406.27 1829.8V1826.1M1408.06 1829.8V1826.29M1409.52 1829.8V1828.74M1411.17 1829.8V1826.95M1412.38 1829.8V1827.56M1413.77 1829.8V1828.68M1415.16 1829.8V1827.58M1416.76 1829.8V1826.59M1418.25 1829.8V1825.73M1420.29 1829.8V1825.91M1422.17 1829.8V1826.69M1423.85 1829.8V1826.3M1425.3 1829.8V1826.93M1427.16 1829.8V1827.15M1428.51 1829.8V1828.53M1429.6 1829.8V1827.67M1429.76 1829.8V1798.84M1458.26 1829.8V1778.2M1484.72 1829.8V1791.1M1486.76 1829.8V1778.2M1505.08 1829.8V1801.42M1509.55 1829.8V1804M1511.18 1829.8V1825.06M1512.61 1829.8V1827.03M1514.25 1829.8V1827.16M1515.69 1829.8V1828.04M1517.15 1829.8V1825.45M1518.82 1829.8V1824.47M1520.23 1829.8V1824.72M1521.68 1829.8V1825.71M1522.62 1829.8V1826.12M1524.23 1829.8V1827.32M1525.91 1829.8V1826M1527.03 1829.8V1828.34M1528.14 1829.8V1827.58M1529.51 1829.8V1824.46M1531.14 1829.8V1825.7M1532.25 1829.8V1827.88M1533.65 1829.8V1825.96M1535.08 1829.8V1826.73M1536.68 1829.8V1827.43M1537.71 1829.8V1827.2M1539.05 1829.8V1824.47M1539.95 1829.8V1825.61M1541.43 1829.8V1827.38M1542.23 1829.8V1825.9M1555.96 1829.8V1826.8M1558.85 1829.8V1827.94M1561.15 1829.8V1827.66M1564.38 1829.8V1828.23M1566.4 1829.8V1827.48M1569.75 1829.8V1828.51M1571.28 1829.8V1828.69M1573.84 1829.8V1827.48M1575.66 1829.8V1828.5M1578.29 1829.8V1827.37M1581.11 1829.8V1827.17M1582.69 1829.8V1827.77M1585.79 1829.8V1826.6M1587.88 1829.8V1826.87M1590.6 1829.8V1826.68M1592.52 1829.8V1827.25M1595.62 1829.8V1827.79M1597.29 1829.8V1828.5M1599.06 1829.8V1828.74M1600.82 1829.8V1827.45M1602.49 1829.8V1827.1M1605.4 1829.8V1826.95M1608.43 1829.8V1827.21M1611.7 1829.8V1826.6M1614.39 1829.8V1826.58M1616.06 1829.8V1828.72M1617.65 1829.8V1828.46M1619.85 1829.8V1827.84M1622.64 1829.8V1827.13M1624.27 1829.8V1827.98M1626.8 1829.8V1828.05M1628.49 1829.8V1827.5M1630.69 1829.8V1827.28M1633.12 1829.8V1826.59M1636.44 1829.8V1828.8M1639.39 1829.8V1827.19M1641.43 1829.8V1828.68M1643.83 1829.8V1828.1M1646.74 1829.8V1826.7M1648.95 1829.8V1828.25M1651.39 1829.8V1827.25M1654.4 1829.8V1827.55M1656.44 1829.8V1828.14M1659.57 1829.8V1827.69M1661.13 1829.8V1827.93M1663.06 1829.8V1827.32M1664.67 1829.8V1828.3M1666.32 1829.8V1827.79M1669.71 1829.8V1827.63M1671.93 1829.8V1826.66M1673.58 1829.8V1828.09M1676.63 1829.8V1828.96M1679.59 1829.8V1828.08M1681.09 1829.8V1828.35M1683.45 1829.8V1828.03M1685.92 1829.8V1828.84M1687.82 1829.8V1826.56M1690.15 1829.8V1827.81M1691.78 1829.8V1828.28M1695.11 1829.8V1827.27M1697.57 1829.8V1828.84M1699.8 1829.8V1827.05M1702.12 1829.8V1827.5M1705.34 1829.8V1827.38M1708.05 1829.8V1828.89M1709.56 1829.8V1827.07M1711.84 1829.8V1826.81M1714.92 1829.8V1826.71M1717.12 1829.8V1826.5M1720.06 1829.8V1826.77M1721.82 1829.8V1827.04M1724.11 1829.8V1826.57M1727.52 1829.8V1828.44M1729.81 1829.8V1828.3M1732.19 1829.8V1828.26M1734.96 1829.8V1828.67M1736.76 1829.8V1827.84M1738.37 1829.8V1828.03M1741.58 1829.8V1826.78M1743.43 1829.8V1828.93M1746.52 1829.8V1826.59" stroke="#00A087" stroke-width="0.8" fill="none"/>
<path d="M1359.33 1893.3V1841.7M1360.56 1893.3V1890.97M1361.2 1893.3V1887.09M1362.3 1893.3V1891.49M1362.91 1893.3V1889.52M1363.57 1893.3V1887.91M1364.3 1893.3V1887.81M1364.89 1893.3V1889.08M1366.01 1893.3V1888.17M1366.56 1893.3V1891.1M1366.66 1893.3V1891.11M1369.94 1893.3V1890.79M1373.84 1893.3V1889.28M1376.75 1893.3V1890.51M1379.72 1893.3V1890.58M1384.06 1893.3V1891.85M1387.67 1893.3V1890.08M1389.89 1893.3V1889.88M1393.32 1893.3V1890.71M1397.3 1893.3V1889.81M1399.67 1893.3V1890.72M1401.98 1893.3V1891.07M1405.19 1893.3V1892.2M1408.26 1893.3V1890.87M1412.38 1893.3V1889.4M1415.66 1893.3V1890.63M1419.95 1893.3V1889.37M1424.93 1893.3V1889.21M1428.02 1893.3V1891.75M1360.56 1893.3V1892.73M1361.34 1893.3V1892.65M1362.17 1893.3V1892.69M1363.26 1893.3V1892.71M1364.11 1893.3V1892.64M1364.69 1893.3V1892.7M1365.5 1893.3V1892.67M1366.12 1893.3V1892.69M1366.65 1893.3V1892.73M1367.36 1893.3V1892.72M1368.48 1893.3V1892.71M1369.15 1893.3V1892.65M1370.12 1893.3V1892.71M1371.15 1893.3V1892.67M1371.89 1893.3V1892.66M1372.54 1893.3V1892.71M1373.6 1893.3V1892.69M1374.67 1893.3V1892.72M1375.25 1893.3V1892.74M1376.22 1893.3V1892.67M1376.71 1893.3V1892.74M1377.74 1893.3V1892.68M1378.79 1893.3V1892.74M1379.66 1893.3V1892.73M1380.62 1893.3V1892.67M1381.51 1893.3V1892.72M1382.62 1893.3V1892.73M1383.15 1893.3V1892.66M1383.7 1893.3V1892.73M1384.48 1893.3V1892.66M1385.55 1893.3V1892.65M1386.09 1893.3V1892.66M1387.13 1893.3V1892.73M1388.11 1893.3V1892.71M1388.79 1893.3V1892.74M1389.77 1893.3V1892.68M1390.85 1893.3V1892.69M1391.44 1893.3V1892.72M1392.1 1893.3V1892.63M1392.72 1893.3V1892.73M1393.44 1893.3V1892.73M1394.2 1893.3V1892.67M1395.11 1893.3V1892.72M1395.69 1893.3V1892.68M1396.63 1893.3V1892.69M1397.49 1893.3V1892.63M1398.07 1893.3V1892.71M1398.89 1893.3V1892.68M1399.96 1893.3V1892.67M1400.88 1893.3V1892.69M1401.88 1893.3V1892.64M1402.56 1893.3V1892.73M1403.22 1893.3V1892.7M1404.28 1893.3V1892.71M1405.18 1893.3V1892.66M1406.29 1893.3V1892.73M1407.28 1893.3V1892.7M1407.84 1893.3V1892.66M1408.88 1893.3V1892.67M1409.4 1893.3V1892.62M1410.14 1893.3V1892.66M1411.1 1893.3V1892.71M1411.85 1893.3V1892.7M1412.4 1893.3V1892.73M1413.36 1893.3V1892.69M1414.41 1893.3V1892.73M1415.1 1893.3V1892.72M1416.2 1893.3V1892.64M1417.27 1893.3V1892.68M1417.83 1893.3V1892.69M1418.47 1893.3V1892.74M1419.32 1893.3V1892.71M1419.88 1893.3V1892.68M1420.98 1893.3V1892.63M1421.77 1893.3V1892.73M1422.76 1893.3V1892.73M1423.6 1893.3V1892.73M1424.73 1893.3V1892.68M1425.5 1893.3V1892.71M1426.35 1893.3V1892.62M1427.12 1893.3V1892.72M1427.94 1893.3V1892.63M1428.68 1893.3V1892.66M1429.76 1893.3V1864.92M1458.26 1893.3V1859.76M1484.72 1893.3V1864.92M1486.76 1893.3V1867.5M1505.08 1893.3V1877.82M1509.55 1893.3V1872.66M1510.37 1893.3V1890.85M1511.89 1893.3V1890.1M1512.76 1893.3V1891.86M1514.41 1893.3V1890.33M1515.58 1893.3V1888.65M1516.87 1893.3V1890.2M1517.88 1893.3V1889.3M1518.87 1893.3V1890.31M1520.34 1893.3V1889.81M1521.2 1893.3V1891.31M1522.61 1893.3V1889.35M1523.39 1893.3V1892.62M1523.97 1893.3V1892.72M1524.52 1893.3V1892.69M1525.41 1893.3V1892.64M1526 1893.3V1892.66M1526.56 1893.3V1892.67M1527.21 1893.3V1892.7M1527.74 1893.3V1892.65M1528.3 1893.3V1892.65M1529.01 1893.3V1892.67M1529.92 1893.3V1892.68M1530.97 1893.3V1892.63M1531.65 1893.3V1892.7M1532.71 1893.3V1892.73M1533.47 1893.3V1892.69M1534.59 1893.3V1892.73M1535.51 1893.3V1892.65M1536.47 1893.3V1892.74M1537.57 1893.3V1892.7M1538.62 1893.3V1892.66M1539.38 1893.3V1892.64M1540.31 1893.3V1892.7M1541.28 1893.3V1892.68M1542.23 1893.3V1892.67M1543.23 1893.3V1892.72M1562.07 1893.3V1891.64M1563.47 1893.3V1887.83M1564.92 1893.3V1891.43M1566.09 1893.3V1889.28M1566.89 1893.3V1890.65M1568.46 1893.3V1887.43M1569.36 1893.3V1887.54M1570.64 1893.3V1889.74M1571.91 1893.3V1890.51M1572.84 1893.3V1891.6M1574.13 1893.3V1888.77M1575.49 1893.3V1889.15M1576.57 1893.3V1890.13M1577.92 1893.3V1889.8M1579.15 1893.3V1887.9M1580.24 1893.3V1888.25M1580.98 1893.3V1890.36M1582.43 1893.3V1890.92M1583.17 1893.3V1891.58M1584.55 1893.3V1891.12M1585.65 1893.3V1889.48M1587.07 1893.3V1889.29M1588.23 1893.3V1891.53M1589.64 1893.3V1887.85M1590.89 1893.3V1887.51M1592.13 1893.3V1888.1M1593.59 1893.3V1888.59M1594.29 1893.3V1887.27M1595.88 1893.3V1890.65M1596.62 1893.3V1889.96M1597.4 1893.3V1889.82M1598.17 1893.3V1890.56M1598.85 1893.3V1889.53M1599.81 1893.3V1888.04M1600.85 1893.3V1890.83M1602.4 1893.3V1887.22M1603.71 1893.3V1890.57M1604.77 1893.3V1889.41M1605.82 1893.3V1891.52M1606.92 1893.3V1887.85M1608.24 1893.3V1887.39M1609.54 1893.3V1887.87M1611.02 1893.3V1887.11M1612.43 1893.3V1889.59M1613.71 1893.3V1888.39M1615.2 1893.3V1888.11M1616.29 1893.3V1890.7M1617.27 1893.3V1890.41M1618.58 1893.3V1887.84M1619.44 1893.3V1889.01M1620.89 1893.3V1889.84M1621.66 1893.3V1888.65M1622.67 1893.3V1890.94M1623.62 1893.3V1891.61M1624.44 1893.3V1889.54M1626.39 1893.3V1884.01M1643.49 1893.3V1891.2M1644.76 1893.3V1885.31M1646.31 1893.3V1889.22M1647.94 1893.3V1890.74M1648.82 1893.3V1891.19M1649.61 1893.3V1887.51M1651.09 1893.3V1888.28M1652.6 1893.3V1888.44M1654.23 1893.3V1887.47M1655.49 1893.3V1890.18M1656.64 1893.3V1888.51M1658.18 1893.3V1889.81M1659.2 1893.3V1886.18M1660 1893.3V1887.91M1660.95 1893.3V1887.12M1662.26 1893.3V1890.65M1663.71 1893.3V1888.71M1664.75 1893.3V1885.93M1666.25 1893.3V1889.32M1667.64 1893.3V1890.47M1668.88 1893.3V1890.73M1670.24 1893.3V1885.56M1671.59 1893.3V1890.98M1672.83 1893.3V1888.33M1673.99 1893.3V1890.3M1675 1893.3V1888.45M1675.8 1893.3V1887.06M1676.77 1893.3V1889.44M1677.59 1893.3V1889.36M1679.24 1893.3V1889.43M1680.06 1893.3V1889.09M1681.72 1893.3V1890.69M1682.79 1893.3V1889.94M1684.19 1893.3V1888.38M1685.01 1893.3V1885.9M1686.07 1893.3V1886.99M1687.24 1893.3V1885.84M1688.03 1893.3V1889.82M1689.04 1893.3V1889.6M1690.58 1893.3V1888.13M1691.65 1893.3V1888.1M1693.21 1893.3V1887.71M1694.38 1893.3V1887.17M1695.72 1893.3V1888.73M1696.87 1893.3V1890.42M1698.03 1893.3V1885.79M1665.88 1893.3V1882.98M1676.06 1893.3V1880.4M1698.45 1893.3V1876.27M1706.59 1893.3V1892.43M1711.88 1893.3V1892.16M1715.5 1893.3V1892.33M1721.29 1893.3V1892.84M1724.65 1893.3V1891.95M1731.12 1893.3V1892.8M1734.37 1893.3V1892.11M1738.41 1893.3V1892.07" stroke="#3C5488" stroke-width="0.8" fill="none"/>
<path d="M1359.33 1956.8V1905.2M1360.56 1956.8V1949.26M1361.37 1956.8V1951.23M1362.18 1956.8V1951.2M1363 1956.8V1950.7M1363.81 1956.8V1952.06M1364.63 1956.8V1952.01M1365.44 1956.8V1952.94M1366.25 1956.8V1954.18M1366.66 1956.8V1954.61M1367.57 1956.8V1955.3M1368.61 1956.8V1955.02M1369.45 1956.8V1954.54M1370.55 1956.8V1954.72M1372.2 1956.8V1954.43M1373.32 1956.8V1954.59M1375.02 1956.8V1955.94M1376.49 1956.8V1954.83M1377.67 1956.8V1955.66M1378.57 1956.8V1955.42M1380.21 1956.8V1955.43M1381.19 1956.8V1955.03M1382.35 1956.8V1955.04M1383.53 1956.8V1955.65M1384.3 1956.8V1954.66M1385.68 1956.8V1955.73M1386.9 1956.8V1955.1M1388.12 1956.8V1954.51M1389.61 1956.8V1955.61M1390.68 1956.8V1955.04M1391.57 1956.8V1954.45M1392.35 1956.8V1955.25M1393.35 1956.8V1955.2M1394.12 1956.8V1955.76M1395.82 1956.8V1954.72M1396.77 1956.8V1955.33M1397.54 1956.8V1955.95M1398.46 1956.8V1954.35M1399.49 1956.8V1955.72M1400.29 1956.8V1955.98M1402 1956.8V1954.81M1403.63 1956.8V1954.63M1405.13 1956.8V1955.71M1406.02 1956.8V1955.68M1406.82 1956.8V1955.85M1408.26 1956.8V1955.27M1409 1956.8V1955.61M1410.56 1956.8V1954.6M1412.01 1956.8V1954.82M1413.63 1956.8V1955.15M1414.74 1956.8V1955.12M1415.75 1956.8V1956.11M1416.73 1956.8V1955.33M1417.58 1956.8V1956.03M1418.56 1956.8V1955.5M1420.23 1956.8V1955.28M1421.78 1956.8V1954.8M1423.09 1956.8V1955.58M1424.2 1956.8V1955.59M1425.56 1956.8V1954.59M1427.06 1956.8V1955.63M1427.94 1956.8V1956.16M1429.25 1956.8V1955.76M1429.76 1956.8V1949.06M1458.26 1956.8V1952.25M1458.96 1956.8V1952.55M1459.97 1956.8V1951.38M1460.71 1956.8V1950.93M1461.4 1956.8V1950.34M1462.02 1956.8V1951.36M1463.06 1956.8V1950.92M1463.95 1956.8V1950.49M1464.94 1956.8V1951.05M1465.53 1956.8V1952.61M1466.4 1956.8V1951.5M1467.01 1956.8V1950.89M1467.79 1956.8V1951.72M1468.71 1956.8V1950.59M1469.46 1956.8V1951.45M1470.43 1956.8V1951.16M1471.19 1956.8V1952.32M1472.07 1956.8V1951.33M1473.07 1956.8V1952.77M1473.92 1956.8V1951.45M1474.6 1956.8V1952.87M1475.8 1956.8V1953.12M1476.7 1956.8V1952.28M1477.26 1956.8V1952.35M1477.91 1956.8V1951.95M1479.1 1956.8V1952.94M1479.89 1956.8V1951.04M1480.87 1956.8V1953.12M1481.57 1956.8V1952.32M1482.75 1956.8V1951.82M1483.47 1956.8V1951.7M1484.36 1956.8V1952.73M1485.38 1956.8V1950.96M1486.25 1956.8V1951.52M1487.34 1956.8V1950.23M1488.32 1956.8V1953.05M1489.22 1956.8V1951.14M1489.99 1956.8V1951.07M1490.79 1956.8V1951.28M1491.77 1956.8V1951.11M1492.97 1956.8V1951M1494.02 1956.8V1951.01M1494.72 1956.8V1951.29M1495.7 1956.8V1953M1496.78 1956.8V1952.49M1497.67 1956.8V1951.57M1498.73 1956.8V1950.82M1499.6 1956.8V1950.28M1500.45 1956.8V1951.43M1501.7 1956.8V1952.19M1502.75 1956.8V1950.23M1503.35 1956.8V1950.78M1504.35 1956.8V1951.52M1505.46 1956.8V1950.53M1506.1 1956.8V1951.68M1507.08 1956.8V1951.02M1508.3 1956.8V1950.7M1509.43 1956.8V1952.99M1510.27 1956.8V1950.36M1511.49 1956.8V1950.85M1512.27 1956.8V1950.8M1513.18 1956.8V1951.12M1515.25 1956.8V1955.32M1517.64 1956.8V1955.19M1519.66 1956.8V1955.78M1521.95 1956.8V1955.69M1523.26 1956.8V1955.2M1525 1956.8V1955.77M1526.29 1956.8V1956.15M1529.02 1956.8V1956.04M1530.73 1956.8V1955.38M1532.34 1956.8V1955.56M1534.49 1956.8V1955.28M1551.89 1956.8V1955.57M1553.54 1956.8V1955.5M1554.76 1956.8V1955.96M1556.22 1956.8V1955.6M1558.69 1956.8V1954.43M1560.49 1956.8V1955.72M1562.19 1956.8V1955.01M1564.19 1956.8V1955.96M1566.26 1956.8V1955.68M1567.72 1956.8V1954.72M1569.11 1956.8V1955.36M1571.58 1956.8V1955.17M1574.23 1956.8V1955.59M1576.99 1956.8V1956.1M1579.67 1956.8V1955.39M1580.89 1956.8V1955.7M1583.73 1956.8V1954.85M1586.15 1956.8V1954.67M1587.38 1956.8V1955.61M1589.36 1956.8V1954.49M1592.06 1956.8V1955.9M1594.89 1956.8V1955.15M1596.6 1956.8V1956.03M1598.52 1956.8V1955.21M1600.48 1956.8V1955.6M1603.25 1956.8V1955.3M1604.97 1956.8V1954.74M1606.59 1956.8V1955.4M1607.98 1956.8V1955.74M1610.82 1956.8V1955.03M1612.9 1956.8V1954.93M1615.21 1956.8V1955.21M1617.03 1956.8V1955.91M1618.3 1956.8V1955.96M1620.18 1956.8V1956.16M1622.5 1956.8V1955.55M1624.1 1956.8V1955.6M1626.13 1956.8V1955.79M1628.74 1956.8V1955.28M1630.07 1956.8V1956.02M1632.74 1956.8V1955.11M1634.44 1956.8V1954.86M1635.73 1956.8V1954.53M1638.48 1956.8V1954.95M1639.78 1956.8V1955.39M1642.37 1956.8V1955.08M1643.93 1956.8V1955.75M1645.25 1956.8V1955.21M1645.53 1956.8V1954.39M1647.13 1956.8V1952.98M1648.35 1956.8V1953.34M1649.21 1956.8V1952.83M1650.79 1956.8V1954.27M1652.39 1956.8V1954.85M1654.08 1956.8V1954.77M1655.71 1956.8V1953.18M1657.36 1956.8V1953.52M1658.16 1956.8V1954.9M1659.54 1956.8V1952.95M1660.94 1956.8V1955.65M1662.01 1956.8V1954.7M1662.91 1956.8V1955.07M1664.14 1956.8V1954.61M1665.14 1956.8V1954.49M1666.8 1956.8V1953.92M1668.26 1956.8V1952.88M1669.03 1956.8V1953.04M1669.85 1956.8V1955.16M1671.31 1956.8V1953.44M1672.64 1956.8V1954.29M1674.08 1956.8V1954.44M1675 1956.8V1955.09M1675.85 1956.8V1955.65M1677.51 1956.8V1952.83M1678.58 1956.8V1954.49M1679.59 1956.8V1953.35M1680.8 1956.8V1955.24M1682.4 1956.8V1952.89M1683.18 1956.8V1954.35M1684.12 1956.8V1953.79M1685.21 1956.8V1954.85M1686.24 1956.8V1953.89M1687.46 1956.8V1954.26M1688.86 1956.8V1954.3M1667.92 1956.8V1949.06M1694.38 1956.8V1955.6M1697.89 1956.8V1954.84M1701.02 1956.8V1955.37M1704.53 1956.8V1955.18M1706.68 1956.8V1955.64M1708.75 1956.8V1956.25M1712.02 1956.8V1955.78M1714.31 1956.8V1956.24M1716.08 1956.8V1955.24M1718.6 1956.8V1955.61M1721.85 1956.8V1954.88M1725.16 1956.8V1955.94M1729.12 1956.8V1956M1732.16 1956.8V1955.29M1734.52 1956.8V1954.91M1737.62 1956.8V1955.18M1739.65 1956.8V1955M1742.01 1956.8V1955.33M1745.4 1956.8V1955.79" stroke="#F39B7F" stroke-width="0.8" fill="none"/>
<path d="M1359.33 2020.3V1989.34M1360.56 2020.3V2018.25M1363.93 2020.3V2017.23M1366.32 2020.3V2017.53M1369.07 2020.3V2018.46M1370.68 2020.3V2018.93M1373.28 2020.3V2017.41M1376.66 2020.3V2017.35M1379.79 2020.3V2016.21M1382.23 2020.3V2017.96M1384.61 2020.3V2018.12M1387.56 2020.3V2017.49M1389.27 2020.3V2016.31M1391.76 2020.3V2016.95M1394.3 2020.3V2017.45M1396.89 2020.3V2018.91M1398.61 2020.3V2017.01M1400.76 2020.3V2018.87M1403.82 2020.3V2016.95M1406.78 2020.3V2018.07M1408.5 2020.3V2016.92M1410.39 2020.3V2017.2M1413.21 2020.3V2018.42M1414.68 2020.3V2017.44M1417.69 2020.3V2017.45M1421.08 2020.3V2018.56M1423.98 2020.3V2017.92M1426.58 2020.3V2018.33M1428.49 2020.3V2017.57M1360.56 2020.3V2019.63M1361.44 2020.3V2019.68M1362.35 2020.3V2019.66M1363.1 2020.3V2019.71M1364.04 2020.3V2019.69M1364.55 2020.3V2019.72M1365.27 2020.3V2019.66M1366.19 2020.3V2019.68M1367.21 2020.3V2019.7M1367.93 2020.3V2019.65M1368.86 2020.3V2019.69M1369.92 2020.3V2019.74M1370.76 2020.3V2019.64M1371.82 2020.3V2019.72M1372.84 2020.3V2019.68M1373.93 2020.3V2019.7M1374.86 2020.3V2019.66M1375.99 2020.3V2019.7M1376.73 2020.3V2019.73M1377.67 2020.3V2019.73M1378.71 2020.3V2019.72M1379.32 2020.3V2019.63M1380.13 2020.3V2019.65M1380.85 2020.3V2019.71M1381.58 2020.3V2019.62M1382.19 2020.3V2019.63M1383.25 2020.3V2019.66M1383.91 2020.3V2019.65M1384.99 2020.3V2019.67M1385.62 2020.3V2019.67M1386.74 2020.3V2019.67M1387.32 2020.3V2019.72M1388.22 2020.3V2019.74M1388.71 2020.3V2019.7M1389.37 2020.3V2019.68M1389.9 2020.3V2019.67M1390.83 2020.3V2019.7M1391.7 2020.3V2019.68M1392.7 2020.3V2019.67M1393.61 2020.3V2019.67M1394.63 2020.3V2019.73M1395.19 2020.3V2019.64M1396.22 2020.3V2019.74M1397.3 2020.3V2019.67M1398.34 2020.3V2019.66M1399.08 2020.3V2019.73M1400.06 2020.3V2019.65M1400.86 2020.3V2019.71M1401.58 2020.3V2019.63M1402.37 2020.3V2019.72M1403.5 2020.3V2019.62M1404.11 2020.3V2019.72M1405.07 2020.3V2019.69M1405.87 2020.3V2019.66M1406.53 2020.3V2019.67M1407.16 2020.3V2019.72M1408 2020.3V2019.69M1409.07 2020.3V2019.72M1410.16 2020.3V2019.71M1410.87 2020.3V2019.73M1411.56 2020.3V2019.62M1412.29 2020.3V2019.64M1413.41 2020.3V2019.66M1414.02 2020.3V2019.69M1414.62 2020.3V2019.71M1415.32 2020.3V2019.72M1416.26 2020.3V2019.68M1416.93 2020.3V2019.71M1417.52 2020.3V2019.73M1418.29 2020.3V2019.73M1419.12 2020.3V2019.71M1420.11 2020.3V2019.71M1421.16 2020.3V2019.63M1422.25 2020.3V2019.71M1423.34 2020.3V2019.68M1424.41 2020.3V2019.69M1425.25 2020.3V2019.71M1426.23 2020.3V2019.7M1427.3 2020.3V2019.66M1428.06 2020.3V2019.74M1428.73 2020.3V2019.69M1429.46 2020.3V2019.67M1429.76 2020.3V2012.56M1458.26 2020.3V2005.85M1484.72 2020.3V2015.75M1485.9 2020.3V2014.39M1486.93 2020.3V2015.14M1487.9 2020.3V2014.26M1489 2020.3V2015.77M1489.89 2020.3V2014.43M1490.83 2020.3V2015.38M1491.58 2020.3V2015.2M1492.47 2020.3V2014.42M1493.72 2020.3V2014.27M1494.94 2020.3V2016.93M1495.53 2020.3V2016.1M1496.66 2020.3V2015.49M1497.38 2020.3V2016.77M1498.1 2020.3V2016.69M1498.74 2020.3V2014.97M1499.42 2020.3V2016.58M1500.4 2020.3V2016.69M1501.53 2020.3V2015.24M1502.7 2020.3V2015.03M1503.76 2020.3V2016.3M1504.6 2020.3V2015.99M1505.42 2020.3V2014.51M1506.27 2020.3V2014.82M1507.26 2020.3V2016.82M1507.95 2020.3V2015.44M1509.05 2020.3V2016.4M1509.76 2020.3V2016M1510.63 2020.3V2015.88M1484.72 2020.3V2002.24M1509.55 2020.3V2009.98M1515.25 2020.3V2018.55M1517.93 2020.3V2019.04M1521.21 2020.3V2019.38M1524.18 2020.3V2019.56M1527.85 2020.3V2018.07M1532.14 2020.3V2018.57M1535.1 2020.3V2018.64M1538.5 2020.3V2019.35M1541.86 2020.3V2018.76M1541.71 2020.3V1994.5M1542.94 2020.3V1997.08M1549.04 2020.3V1968.7M1550.26 2020.3V1973.86M1608.89 2020.3V1991.92M1612.14 2020.3V1991.92M1626.39 2020.3V1994.5M1643.49 2020.3V2015.82M1644.47 2020.3V2014.76M1645.44 2020.3V2015.33M1646.42 2020.3V2016.22M1647.4 2020.3V2016.49M1648.37 2020.3V2015.47M1649.35 2020.3V2015.71M1650.33 2020.3V2016.42M1651.31 2020.3V2015.99M1652.28 2020.3V2016.19M1653.26 2020.3V2015.65M1654.24 2020.3V2015.04M1655.21 2020.3V2016.37M1656.19 2020.3V2015.98M1657.17 2020.3V2015.95M1658.15 2020.3V2015.72M1659.12 2020.3V2016.81M1660.1 2020.3V2016.83M1661.08 2020.3V2015.21M1662.05 2020.3V2017.13M1663.03 2020.3V2015.87M1664.01 2020.3V2016.91M1664.98 2020.3V2016.39M1665.96 2020.3V2016.51M1666.94 2020.3V2017.04M1667.92 2020.3V2017.21M1668.89 2020.3V2015.45M1669.87 2020.3V2017.57M1670.85 2020.3V2017.36M1671.82 2020.3V2016.06M1672.8 2020.3V2016.91M1673.78 2020.3V2017.32M1674.75 2020.3V2016.09M1675.73 2020.3V2015.69M1676.71 2020.3V2017.38M1677.69 2020.3V2016.35M1678.66 2020.3V2017.04M1679.64 2020.3V2015.82M1680.62 2020.3V2016.69M1681.59 2020.3V2016.11M1682.57 2020.3V2016.62M1683.55 2020.3V2017.71M1684.53 2020.3V2017.13M1685.5 2020.3V2016.64M1686.48 2020.3V2017.75M1687.46 2020.3V2017.9M1688.43 2020.3V2016.21M1689.41 2020.3V2016.38M1645.53 2020.3V2004.82M1648.37 2020.3V2007.4M1650.41 2020.3V1999.66M1655.7 2020.3V2002.24M1682.16 2020.3V2005.85M1690.31 2020.3V2017.86M1691.63 2020.3V2017.74M1694.46 2020.3V2017.54M1696.85 2020.3V2018.38M1699.1 2020.3V2017.18M1701.13 2020.3V2019.29M1702.59 2020.3V2017.12M1704.97 2020.3V2017.16M1706.43 2020.3V2019.21M1708.76 2020.3V2018.41M1710.74 2020.3V2018.9M1713.2 2020.3V2017.54M1715.61 2020.3V2018.41M1717.63 2020.3V2018.49M1719.61 2020.3V2018.67M1721.59 2020.3V2017.09M1724.12 2020.3V2019.14M1726.43 2020.3V2017.44M1728.21 2020.3V2017.27M1730.97 2020.3V2019.3M1733.21 2020.3V2018.53M1735.19 2020.3V2018.12M1737.81 2020.3V2017.91M1740.48 2020.3V2018.86M1742.99 2020.3V2018.5M1744.51 2020.3V2017.49M1746.67 2020.3V2018.92" stroke="#8491B4" stroke-width="0.8" fill="none"/>
<path d="M1359.33 2083.8V2032.2M1360.56 2083.8V2082.27M1362.41 2083.8V2081.35M1363.81 2083.8V2082.17M1365.5 2083.8V2082.65M1367.17 2083.8V2081.39M1369.06 2083.8V2082.69M1370.93 2083.8V2082.04M1372.38 2083.8V2081.93M1373.85 2083.8V2081.73M1375.33 2083.8V2081.65M1376.7 2083.8V2082.86M1378.1 2083.8V2082.95M1380.22 2083.8V2081.33M1381.74 2083.8V2082.73M1383.87 2083.8V2081.6M1385.16 2083.8V2082.61M1386.79 2083.8V2082.94M1388.04 2083.8V2082.44M1389.17 2083.8V2082.91M1390.94 2083.8V2082.62M1393.11 2083.8V2081.39M1394.95 2083.8V2082.67M1396.92 2083.8V2082.55M1399.03 2083.8V2082.39M1400.91 2083.8V2081.79M1402.8 2083.8V2081.78M1404.23 2083.8V2082.9M1405.68 2083.8V2081.4M1406.71 2083.8V2082.66M1408.09 2083.8V2082.36M1410.2 2083.8V2082.86M1411.31 2083.8V2083.15M1412.73 2083.8V2081.83M1414.3 2083.8V2081.98M1415.94 2083.8V2082.51M1417.45 2083.8V2083.1M1419.67 2083.8V2081.82M1420.77 2083.8V2082.8M1422.77 2083.8V2082.24M1424.72 2083.8V2081.78M1425.89 2083.8V2081.65M1427.13 2083.8V2082.92M1429.08 2083.8V2081.67M1360.56 2083.8V2083.19M1361.52 2083.8V2083.21M1362.3 2083.8V2083.12M1362.87 2083.8V2083.13M1363.94 2083.8V2083.12M1364.59 2083.8V2083.22M1365.36 2083.8V2083.22M1366.45 2083.8V2083.17M1367.49 2083.8V2083.18M1368.3 2083.8V2083.12M1368.87 2083.8V2083.21M1369.92 2083.8V2083.17M1370.92 2083.8V2083.12M1371.91 2083.8V2083.17M1372.89 2083.8V2083.18M1373.52 2083.8V2083.2M1374.61 2083.8V2083.18M1375.12 2083.8V2083.16M1376.25 2083.8V2083.17M1377.06 2083.8V2083.19M1377.96 2083.8V2083.17M1378.77 2083.8V2083.13M1379.83 2083.8V2083.15M1380.8 2083.8V2083.15M1381.41 2083.8V2083.18M1382.07 2083.8V2083.22M1383.18 2083.8V2083.21M1384.2 2083.8V2083.14M1384.95 2083.8V2083.24M1385.56 2083.8V2083.16M1386.51 2083.8V2083.2M1387.39 2083.8V2083.22M1388.3 2083.8V2083.15M1389.3 2083.8V2083.17M1390.16 2083.8V2083.24M1390.83 2083.8V2083.19M1391.36 2083.8V2083.23M1392.47 2083.8V2083.16M1393.33 2083.8V2083.16M1394.38 2083.8V2083.16M1395.15 2083.8V2083.19M1396.27 2083.8V2083.12M1396.86 2083.8V2083.14M1397.77 2083.8V2083.2M1398.71 2083.8V2083.21M1399.68 2083.8V2083.17M1400.55 2083.8V2083.24M1401.63 2083.8V2083.12M1402.61 2083.8V2083.21M1403.57 2083.8V2083.23M1404.41 2083.8V2083.2M1405.21 2083.8V2083.21M1405.74 2083.8V2083.19M1406.39 2083.8V2083.22M1407.09 2083.8V2083.23M1407.6 2083.8V2083.12M1408.12 2083.8V2083.13M1408.88 2083.8V2083.23M1409.65 2083.8V2083.18M1410.17 2083.8V2083.18M1410.67 2083.8V2083.21M1411.62 2083.8V2083.14M1412.22 2083.8V2083.19M1413.33 2083.8V2083.2M1413.89 2083.8V2083.21M1414.95 2083.8V2083.2M1415.87 2083.8V2083.13M1416.76 2083.8V2083.22M1417.56 2083.8V2083.2M1418.36 2083.8V2083.17M1419.49 2083.8V2083.16M1420.31 2083.8V2083.14M1421.13 2083.8V2083.22M1422.05 2083.8V2083.21M1422.68 2083.8V2083.19M1423.48 2083.8V2083.24M1424.21 2083.8V2083.12M1425.03 2083.8V2083.2M1425.81 2083.8V2083.16M1426.63 2083.8V2083.19M1427.5 2083.8V2083.21M1428.43 2083.8V2083.19M1429.38 2083.8V2083.2M1429.76 2083.8V2058M1458.26 2083.8V2039.94M1484.72 2083.8V2047.68M1486.76 2083.8V2042.52M1505.08 2083.8V2060.58M1509.55 2083.8V2047.68M1511.18 2083.8V2082.49M1512.79 2083.8V2081.75M1513.79 2083.8V2082.66M1515.36 2083.8V2081.08M1517.4 2083.8V2080.88M1519.43 2083.8V2080.58M1520.66 2083.8V2082.6M1521.82 2083.8V2081.01M1523.04 2083.8V2082.19M1524.2 2083.8V2080.72M1525.45 2083.8V2082.39M1527.2 2083.8V2081.23M1528.23 2083.8V2081.54M1529.89 2083.8V2081.6M1531.54 2083.8V2081M1533.59 2083.8V2080.84M1535 2083.8V2082.87M1536.59 2083.8V2082.91M1538.39 2083.8V2081.79M1540.34 2083.8V2080.91M1542.28 2083.8V2081.26M1543.69 2083.8V2081.18M1545.5 2083.8V2082.43M1547.61 2083.8V2081.8M1549.27 2083.8V2082.48M1551.33 2083.8V2081.8M1553.28 2083.8V2080.89M1554.93 2083.8V2081.53M1556.51 2083.8V2082.39M1558.53 2083.8V2080.69M1559.55 2083.8V2082.89M1561.14 2083.8V2082.78M1562.69 2083.8V2082.13M1563.98 2083.8V2081.05M1564.11 2083.8V2078.36M1564.84 2083.8V2080.71M1565.91 2083.8V2079.01M1566.83 2083.8V2081.55M1567.72 2083.8V2079.89M1569.06 2083.8V2079.53M1570.31 2083.8V2078.74M1571.23 2083.8V2080.16M1572.47 2083.8V2079.22M1573.37 2083.8V2081.54M1574.52 2083.8V2081.09M1575.32 2083.8V2081.27M1576.44 2083.8V2079.55M1577.76 2083.8V2079.8M1578.72 2083.8V2078.52M1579.42 2083.8V2079.8M1580.78 2083.8V2080.91M1581.48 2083.8V2081.86M1582.09 2083.8V2079.18M1583 2083.8V2078.8M1584.24 2083.8V2082.24M1585.06 2083.8V2081.21M1585.85 2083.8V2082.23M1586.64 2083.8V2080.88M1587.58 2083.8V2080.05M1588.94 2083.8V2081.89M1589.63 2083.8V2078.44M1590.44 2083.8V2080.02M1591.26 2083.8V2078.47M1592.58 2083.8V2079.88M1593.24 2083.8V2080.74M1594.38 2083.8V2079.9M1595.18 2083.8V2080.63M1595.82 2083.8V2080.61M1597.05 2083.8V2080.68M1598 2083.8V2081.63M1599.14 2083.8V2080.55M1600.03 2083.8V2079M1600.85 2083.8V2082.02M1601.93 2083.8V2079.16M1602.56 2083.8V2080.86M1603.84 2083.8V2080.15M1604.74 2083.8V2081.79M1605.56 2083.8V2079.81M1606.86 2083.8V2079.48M1608.2 2083.8V2080.59M1608.84 2083.8V2080.88M1609.71 2083.8V2082.11M1610.36 2083.8V2078.41M1611.65 2083.8V2081.78M1612.3 2083.8V2078.11M1613.02 2083.8V2081.05M1613.78 2083.8V2081.45M1614.39 2083.8V2080.35M1615.58 2083.8V2082.05M1616.55 2083.8V2081.78M1617.75 2083.8V2078.44M1619.02 2083.8V2080.04M1619.72 2083.8V2079.25M1620.36 2083.8V2079M1621.18 2083.8V2078.49M1621.99 2083.8V2079.15M1622.97 2083.8V2081.32M1623.94 2083.8V2080.49M1624.64 2083.8V2079.99M1625.65 2083.8V2079.32M1626.5 2083.8V2079.69M1627.24 2083.8V2080.09M1628.01 2083.8V2078.95M1628.75 2083.8V2081.09M1629.39 2083.8V2081.06M1630.4 2083.8V2081.37M1631.08 2083.8V2078.48M1631.91 2083.8V2081.42M1632.81 2083.8V2078.71M1633.97 2083.8V2078.44M1634.99 2083.8V2080.9M1635.97 2083.8V2082.1M1637.09 2083.8V2078.72M1638.39 2083.8V2078.76M1639.48 2083.8V2078.87M1640.29 2083.8V2079.92M1641.01 2083.8V2078.3M1641.99 2083.8V2081.59M1643.35 2083.8V2079.67M1644.1 2083.8V2078.69M1645.18 2083.8V2079.66M1646.45 2083.8V2080.99M1647.25 2083.8V2079.88M1648 2083.8V2079.33M1648.96 2083.8V2081.49M1649.64 2083.8V2081.65M1650.68 2083.8V2078.39M1651.89 2083.8V2078.68M1652.92 2083.8V2078.88M1653.67 2083.8V2081.63M1655.82 2083.8V2081.97M1657.61 2083.8V2081.01M1658.66 2083.8V2081.01M1660.67 2083.8V2080.02M1662.19 2083.8V2079.99M1663.22 2083.8V2079.96M1665.08 2083.8V2080.26M1666.64 2083.8V2080.95M1668.7 2083.8V2082.08M1669.91 2083.8V2080.44M1672.03 2083.8V2082.06M1673.72 2083.8V2081.2M1675.1 2083.8V2080.16M1676.45 2083.8V2080.35M1677.96 2083.8V2082.31M1680.19 2083.8V2082.31M1681.3 2083.8V2082.68M1682.74 2083.8V2082.69M1683.91 2083.8V2079.85M1685.22 2083.8V2080.55M1686.48 2083.8V2082.73M1687.46 2083.8V2082.39M1689.68 2083.8V2081.35M1690.99 2083.8V2082.62M1692.8 2083.8V2081.79M1694.01 2083.8V2081.41M1695.91 2083.8V2081.71M1697.62 2083.8V2082.18M1696.41 2083.8V2073.48M1698.45 2083.8V2070.9M1702.52 2083.8V2083.1M1706.88 2083.8V2081.46M1710.33 2083.8V2082.3M1713.32 2083.8V2081.79M1716.78 2083.8V2081.86M1719.89 2083.8V2082.44M1723.73 2083.8V2082.84M1726.57 2083.8V2082.73M1729.06 2083.8V2081.58M1731.83 2083.8V2081.81M1733.91 2083.8V2081.46M1737.09 2083.8V2081.8M1739.32 2083.8V2082.06M1743.39 2083.8V2082.64M1745.58 2083.8V2082.47" stroke="#91D1C2" stroke-width="0.8" fill="none"/>
<path d="M1359.33 2147.3V2095.7M1360.56 2147.3V2135.36M1361.37 2147.3V2140.82M1362.18 2147.3V2140.84M1363 2147.3V2140.21M1363.81 2147.3V2143.7M1364.63 2147.3V2146.52M1366.73 2147.3V2145.16M1368.29 2147.3V2145.39M1370.25 2147.3V2145.13M1371.47 2147.3V2145.32M1373.65 2147.3V2145.22M1375.31 2147.3V2145.95M1377.56 2147.3V2144.84M1379.59 2147.3V2145.74M1429.76 2147.3V2139.56M1458.26 2147.3V2141.95M1458.79 2147.3V2142.33M1459.37 2147.3V2142.33M1459.83 2147.3V2142.1M1460.36 2147.3V2142.07M1461.02 2147.3V2141.91M1461.47 2147.3V2141.91M1461.92 2147.3V2142.22M1462.56 2147.3V2141.89M1463.09 2147.3V2141.99M1463.76 2147.3V2142.24M1464.34 2147.3V2141.91M1464.67 2147.3V2142.33M1465.35 2147.3V2142.11M1465.85 2147.3V2141.99M1466.35 2147.3V2142.33M1466.82 2147.3V2142.01M1467.41 2147.3V2142.14M1467.73 2147.3V2141.88M1468.08 2147.3V2142.25M1468.73 2147.3V2141.91M1469.34 2147.3V2142.2M1469.98 2147.3V2142.05M1470.54 2147.3V2141.99M1471.09 2147.3V2142.12M1471.52 2147.3V2142M1471.88 2147.3V2142.35M1472.46 2147.3V2142.37M1473.15 2147.3V2142.3M1473.67 2147.3V2142.26M1474.19 2147.3V2142.08M1474.59 2147.3V2142.12M1475.32 2147.3V2142.32M1475.73 2147.3V2142.3M1476.09 2147.3V2142.39M1476.82 2147.3V2141.9M1477.15 2147.3V2141.97M1477.71 2147.3V2142.29M1478.4 2147.3V2142.34M1478.99 2147.3V2142.05M1479.61 2147.3V2142.28M1479.99 2147.3V2142.07M1480.43 2147.3V2142.09M1481.06 2147.3V2142.38M1481.68 2147.3V2141.89M1482.17 2147.3V2142.1M1482.63 2147.3V2141.94M1483.04 2147.3V2142.35M1483.57 2147.3V2142.17M1484.13 2147.3V2142.29M1484.84 2147.3V2142.12M1485.32 2147.3V2142.01M1485.66 2147.3V2141.92M1486.33 2147.3V2142.27M1486.76 2147.3V2136.98M1505.08 2147.3V2141.11M1509.55 2147.3V2136.98M1511.18 2147.3V2142.14" stroke="#DC0000" stroke-width="0.8" fill="none"/>
<path d="M1359.33 2210.8V2159.2M1421.62 2210.8V2208.22M1429.76 2210.8V2200.48M1458.26 2210.8V2187.58M1484.72 2210.8V2199.45M1486.76 2210.8V2205.64M1505.08 2210.8V2206.67M1509.55 2210.8V2203.06M1564.11 2210.8V2209.88M1565.61 2210.8V2207.56M1566.93 2210.8V2207.55M1568.12 2210.8V2207.82M1569.68 2210.8V2207.68M1570.86 2210.8V2208.71M1571.63 2210.8V2207.62M1572.45 2210.8V2208.54M1573.77 2210.8V2209.54M1574.84 2210.8V2209.23M1575.58 2210.8V2208.98M1576.69 2210.8V2208.2M1578.11 2210.8V2207.63M1579.69 2210.8V2209.34M1581.02 2210.8V2208.26M1582.52 2210.8V2209.63M1583.58 2210.8V2208.45M1584.62 2210.8V2207.71M1585.76 2210.8V2208.22M1586.56 2210.8V2207.75M1588.24 2210.8V2207.58M1589.31 2210.8V2207.91M1591 2210.8V2209.71M1591.81 2210.8V2208.33M1593.51 2210.8V2209.9M1595.06 2210.8V2208.34M1596.25 2210.8V2209.62M1597.48 2210.8V2208.74M1598.41 2210.8V2207.74M1599.87 2210.8V2209.56M1601.21 2210.8V2208.49M1602.86 2210.8V2207.54M1604.46 2210.8V2209.84M1605.6 2210.8V2209.59M1607.07 2210.8V2209.77M1608.61 2210.8V2208.45M1612.96 2210.8V2197.9M1626.39 2210.8V2203.06M1645.53 2210.8V2200.48M1648.37 2210.8V2197.9M1651.63 2210.8V2195.32M1655.7 2210.8V2187.58M1665.88 2210.8V2200.48M1676.46 2210.8V2195.32M1682.98 2210.8V2189.13M1693.56 2210.8V2191.19M1696.41 2210.8V2195.32M1698.45 2210.8V2200.48M1643.49 2210.8V2206.05M1645.07 2210.8V2206.84M1646.42 2210.8V2207.53M1647.66 2210.8V2209.45M1648.58 2210.8V2207M1649.72 2210.8V2207.89M1651.28 2210.8V2208.13M1652.72 2210.8V2206.57M1654.27 2210.8V2208.69M1655.59 2210.8V2207.83M1656.9 2210.8V2209.24M1657.82 2210.8V2208.65M1659.32 2210.8V2206.65M1660.42 2210.8V2207.31M1661.59 2210.8V2207.57M1662.58 2210.8V2208.28M1664.25 2210.8V2206.27M1665.1 2210.8V2209.12M1666.68 2210.8V2207.91M1668.04 2210.8V2207.32M1669.36 2210.8V2206.2M1670.24 2210.8V2206.36M1671.23 2210.8V2209.28M1672.25 2210.8V2207.65M1673.77 2210.8V2207.41M1675.45 2210.8V2208.86M1676.55 2210.8V2207.43M1677.86 2210.8V2206.98M1679.09 2210.8V2209.19M1680.59 2210.8V2206.61M1681.39 2210.8V2206.54M1682.13 2210.8V2207.02M1683.47 2210.8V2208.46M1684.29 2210.8V2208.6M1685.63 2210.8V2207.58M1687.16 2210.8V2208.92M1688.5 2210.8V2208.43M1689.27 2210.8V2208.87M1690.12 2210.8V2208.97M1690.88 2210.8V2205.94M1691.97 2210.8V2206.75M1693.11 2210.8V2207.66M1694.09 2210.8V2206.05M1695.03 2210.8V2206M1696.53 2210.8V2206.35M1697.36 2210.8V2205.9M1698.73 2210.8V2207.41M1700.01 2210.8V2207.91M1739.16 2210.8V2207.7" stroke="#7E6148" stroke-width="0.8" fill="none"/>
<text x="1540.9" y="2278" font-size="20.3" text-anchor="end" font-style="italic">MYF6</text>
<line x1="1548.5" y1="2273" x2="1551" y2="2273" stroke="#000" stroke-width="1"/>
<path d="M1550.1 2260.5V2285.5" stroke="#000" stroke-width="1" fill="none"/>
<text x="1535.4" y="2320.2" font-size="20.3" text-anchor="end" fill="#F00" font-style="italic">MYF5</text>
<path d="" stroke="#000" stroke-width="1" fill="none"/>
<text x="1430.8" y="2362.9" font-size="20.3" text-anchor="end" font-style="italic">LIN7A</text>
<line x1="1429.9" y1="2357.9" x2="1510.2" y2="2357.9" stroke="#000" stroke-width="1"/>
<path d="M1429.9 2345.4V2370.4M1458 2345.4V2370.4M1484 2345.4V2370.4M1485 2345.4V2370.4M1486 2345.4V2370.4M1506 2345.4V2370.4M1510.2 2345.4V2370.4" stroke="#000" stroke-width="1" fill="none"/>
<text x="1544.1" y="2362.9" font-size="20.3" font-style="italic">PTPRQ</text>
<line x1="1610.7" y1="2357.9" x2="1739.7" y2="2357.9" stroke="#000" stroke-width="1"/>
<path d="M1610.7 2345.4V2370.4M1612.5 2345.4V2370.4M1626 2345.4V2370.4M1645 2345.4V2370.4M1647.2 2345.4V2370.4M1650.69 2345.4V2370.4M1653.44 2345.4V2370.4M1657.18 2345.4V2370.4M1661 2345.4V2370.4M1662.48 2345.4V2370.4M1663.73 2345.4V2370.4M1668.45 2345.4V2370.4M1670.74 2345.4V2370.4M1672.92 2345.4V2370.4M1678.31 2345.4V2370.4M1681.48 2345.4V2370.4M1686.19 2345.4V2370.4M1689.4 2345.4V2370.4M1693.28 2345.4V2370.4M1695.11 2345.4V2370.4M1698.98 2345.4V2370.4M1703.82 2345.4V2370.4M1707.22 2345.4V2370.4M1711.54 2345.4V2370.4M1715.55 2345.4V2370.4M1717.02 2345.4V2370.4M1721.41 2345.4V2370.4M1725.09 2345.4V2370.4M1727.56 2345.4V2370.4M1728.89 2345.4V2370.4M1733.72 2345.4V2370.4M1736.91 2345.4V2370.4M1676 2345.4V2370.4M1676.8 2345.4V2370.4M1677.6 2345.4V2370.4M1695 2345.4V2370.4M1696 2345.4V2370.4M1697 2345.4V2370.4M1698 2345.4V2370.4" stroke="#000" stroke-width="1" fill="none"/>
<svg x="1823.5" y="1111.8" width="143.4" height="107.2"><g filter="url(#hm0)">
<rect x="-9" y="-6.73" width="161.4" height="120.66" fill="url(#hg2)"/>
<rect x="0" y="83.62" width="31.55" height="23.58" fill="#fff" fill-opacity="0.25"/>
<rect x="35.85" y="53.6" width="35.85" height="26.8" fill="#fff" fill-opacity="0.15"/>
<rect x="114.72" y="0" width="28.68" height="21.44" fill="#fff" fill-opacity="0.2"/>
<rect x="43.02" y="26.8" width="64.53" height="48.24" fill="#fff" fill-opacity="0.06"/>
</g></svg>
<line x1="1823.5" y1="1219" x2="1966.9" y2="1111.8" stroke="#EBC3A8" stroke-width="0.7"/>
<line x1="1895.2" y1="1111.8" x2="1895.2" y2="1219" stroke="#000" stroke-width="1.4" stroke-dasharray="5.5 3"/>
<rect x="1823.5" y="1111.8" width="143.4" height="107.2" fill="none" stroke="#000" stroke-width="1.8"/>
<text x="1898.5" y="1108.7" font-size="20.6" text-anchor="middle">Heart</text>
<svg x="1823.5" y="1242.1" width="143.4" height="107.2"><g filter="url(#hm1)">
<rect x="-9" y="-6.73" width="161.4" height="120.66" fill="url(#hg2)"/>
<rect x="0" y="83.62" width="31.55" height="23.58" fill="#fff" fill-opacity="0.35"/>
<rect x="71.7" y="32.16" width="28.68" height="21.44" fill="#fff" fill-opacity="0.15"/>
</g></svg>
<line x1="1823.5" y1="1349.3" x2="1966.9" y2="1242.1" stroke="#EBC3A8" stroke-width="0.7"/>
<line x1="1895.2" y1="1242.1" x2="1895.2" y2="1349.3" stroke="#000" stroke-width="1.4" stroke-dasharray="5.5 3"/>
<rect x="1823.5" y="1242.1" width="143.4" height="107.2" fill="none" stroke="#000" stroke-width="1.8"/>
<text x="1898.1" y="1239" font-size="20.6" text-anchor="middle">Kidney</text>
<svg x="1823.5" y="1372.4" width="143.4" height="107.2"><g filter="url(#hm2)">
<rect x="-9" y="-6.73" width="161.4" height="120.66" fill="url(#hg2)"/>
<rect x="0" y="91.12" width="21.51" height="16.08" fill="#fff" fill-opacity="0.2"/>
<rect x="117.59" y="0" width="25.81" height="19.3" fill="#fff" fill-opacity="0.25"/>
</g></svg>
<line x1="1823.5" y1="1479.6" x2="1966.9" y2="1372.4" stroke="#EBC3A8" stroke-width="0.7"/>
<line x1="1895.2" y1="1372.4" x2="1895.2" y2="1479.6" stroke="#000" stroke-width="1.4" stroke-dasharray="5.5 3"/>
<rect x="1823.5" y="1372.4" width="143.4" height="107.2" fill="none" stroke="#000" stroke-width="1.8"/>
<text x="1896.1" y="1369.3" font-size="20.6" text-anchor="middle">Large intestine</text>
<svg x="1823.5" y="1502.7" width="143.4" height="107.2"><g filter="url(#hm3)">
<rect x="-9" y="-6.73" width="161.4" height="120.66" fill="url(#hg2)"/>
<rect x="0" y="85.76" width="28.68" height="21.44" fill="#fff" fill-opacity="0.3"/>
<rect x="117.59" y="0" width="25.81" height="19.3" fill="#fff" fill-opacity="0.2"/>
</g></svg>
<line x1="1823.5" y1="1609.9" x2="1966.9" y2="1502.7" stroke="#EBC3A8" stroke-width="0.7"/>
<line x1="1895.2" y1="1502.7" x2="1895.2" y2="1609.9" stroke="#000" stroke-width="1.4" stroke-dasharray="5.5 3"/>
<rect x="1823.5" y="1502.7" width="143.4" height="107.2" fill="none" stroke="#000" stroke-width="1.8"/>
<text x="1898.5" y="1499.6" font-size="20.6" text-anchor="middle">Liver</text>
<svg x="1823.5" y="1633" width="143.4" height="107.2"><g filter="url(#hm0)">
<rect x="-9" y="-6.73" width="161.4" height="120.66" fill="url(#hg2)"/>
<rect x="0" y="91.12" width="21.51" height="16.08" fill="#fff" fill-opacity="0.2"/>
<rect x="121.89" y="0" width="21.51" height="16.08" fill="#fff" fill-opacity="0.15"/>
</g></svg>
<line x1="1823.5" y1="1740.2" x2="1966.9" y2="1633" stroke="#EBC3A8" stroke-width="0.7"/>
<line x1="1895.2" y1="1633" x2="1895.2" y2="1740.2" stroke="#000" stroke-width="1.4" stroke-dasharray="5.5 3"/>
<rect x="1823.5" y="1633" width="143.4" height="107.2" fill="none" stroke="#000" stroke-width="1.8"/>
<text x="1898.5" y="1629.9" font-size="20.6" text-anchor="middle">Lung</text>
<svg x="1823.5" y="1763.3" width="143.4" height="107.2"><g filter="url(#hm1)">
<rect x="-9" y="-6.73" width="161.4" height="120.66" fill="url(#hg2)"/>
<rect x="0" y="85.76" width="28.68" height="21.44" fill="#fff" fill-opacity="0.3"/>
<rect x="63.1" y="38.59" width="28.68" height="21.44" fill="#fff" fill-opacity="0.5"/>
<rect x="67.4" y="42.88" width="18.64" height="13.94" fill="#fff" fill-opacity="0.4"/>
<rect x="114.72" y="0" width="28.68" height="21.44" fill="#fff" fill-opacity="0.15"/>
</g></svg>
<line x1="1823.5" y1="1870.5" x2="1966.9" y2="1763.3" stroke="#EBC3A8" stroke-width="0.7"/>
<line x1="1895.2" y1="1763.3" x2="1895.2" y2="1870.5" stroke="#000" stroke-width="1.4" stroke-dasharray="5.5 3"/>
<rect x="1823.5" y="1763.3" width="143.4" height="107.2" fill="none" stroke="#000" stroke-width="1.8"/>
<text x="1897.7" y="1760.2" font-size="20.6" text-anchor="middle">Muscle</text>
<svg x="1823.5" y="1893.6" width="143.4" height="107.2"><g filter="url(#hm2)">
<rect x="-9" y="-6.73" width="161.4" height="120.66" fill="url(#hg2)"/>
<rect x="0" y="87.9" width="25.81" height="19.3" fill="#fff" fill-opacity="0.2"/>
<rect x="114.72" y="0" width="28.68" height="21.44" fill="#fff" fill-opacity="0.15"/>
</g></svg>
<line x1="1823.5" y1="2000.8" x2="1966.9" y2="1893.6" stroke="#EBC3A8" stroke-width="0.7"/>
<line x1="1895.2" y1="1893.6" x2="1895.2" y2="2000.8" stroke="#000" stroke-width="1.4" stroke-dasharray="5.5 3"/>
<rect x="1823.5" y="1893.6" width="143.4" height="107.2" fill="none" stroke="#000" stroke-width="1.8"/>
<text x="1896" y="1890.5" font-size="20.6" text-anchor="middle">Small intestine</text>
<svg x="1823.5" y="2023.9" width="143.4" height="107.2"><g filter="url(#hm3)">
<rect x="-9" y="-6.73" width="161.4" height="120.66" fill="url(#hg2)"/>
<rect x="0" y="85.76" width="28.68" height="21.44" fill="#fff" fill-opacity="0.35"/>
<rect x="114.72" y="0" width="28.68" height="21.44" fill="#fff" fill-opacity="0.15"/>
</g></svg>
<line x1="1823.5" y1="2131.1" x2="1966.9" y2="2023.9" stroke="#EBC3A8" stroke-width="0.7"/>
<line x1="1895.2" y1="2023.9" x2="1895.2" y2="2131.1" stroke="#000" stroke-width="1.4" stroke-dasharray="5.5 3"/>
<rect x="1823.5" y="2023.9" width="143.4" height="107.2" fill="none" stroke="#000" stroke-width="1.8"/>
<text x="1894.2" y="2020.8" font-size="20.6" text-anchor="middle">Subcutaneous adipose</text>
<svg x="1823.5" y="2154.2" width="143.4" height="107.2"><g filter="url(#hm0)">
<rect x="-9" y="-6.73" width="161.4" height="120.66" fill="url(#hg2)"/>
<rect x="0" y="91.12" width="21.51" height="16.08" fill="#fff" fill-opacity="0.2"/>
<rect x="64.53" y="21.44" width="50.19" height="37.52" fill="#fff" fill-opacity="0.2"/>
</g></svg>
<line x1="1823.5" y1="2261.4" x2="1966.9" y2="2154.2" stroke="#EBC3A8" stroke-width="0.7"/>
<line x1="1895.2" y1="2154.2" x2="1895.2" y2="2261.4" stroke="#000" stroke-width="1.4" stroke-dasharray="5.5 3"/>
<rect x="1823.5" y="2154.2" width="143.4" height="107.2" fill="none" stroke="#000" stroke-width="1.8"/>
<text x="1895.7" y="2151.1" font-size="20.6" text-anchor="middle">Visceral adipose</text>
<path d="M1823.5 2268.4 V2261.4 H1966.9 V2268.4" fill="none" stroke="#000" stroke-width="3"/>
<text x="1790.4" y="2285.6" font-size="20.3" text-anchor="end">Chr.15</text>
<text x="1803" y="2285.6" font-size="19.8">72.84</text>
<text x="1997" y="2285.6" font-size="19.8" text-anchor="end">73.85Mb</text>
<text x="1890.3" y="2326.3" font-size="20.6" text-anchor="middle">Contact frequency</text>
<rect x="1850.7" y="2333.2" width="88.6" height="13.6" fill="url(#cb)"/>
<path d="M1850.7 2333 V2354.3 M1939.3 2333 V2354.3 M1849.5 2347 H1940.5" fill="none" stroke="#000" stroke-width="2.4"/>
<path d="M1850.7 2333 H1939.3" fill="none" stroke="#000" stroke-width="1"/>
<text x="1850.2" y="2372.2" font-size="16.6" text-anchor="middle">0</text>
<line x1="1872.85" y1="2347" x2="1872.85" y2="2354.3" stroke="#000" stroke-width="2.4"/>
<text x="1872.35" y="2372.2" font-size="16.6" text-anchor="middle">5</text>
<line x1="1895" y1="2347" x2="1895" y2="2354.3" stroke="#000" stroke-width="2.4"/>
<text x="1894.5" y="2372.2" font-size="16.6" text-anchor="middle">10</text>
<line x1="1917.15" y1="2347" x2="1917.15" y2="2354.3" stroke="#000" stroke-width="2.4"/>
<text x="1916.65" y="2372.2" font-size="16.6" text-anchor="middle">15</text>
<text x="1938.8" y="2372.2" font-size="16.6" text-anchor="middle">20</text>
</g>
</svg></body></html>
